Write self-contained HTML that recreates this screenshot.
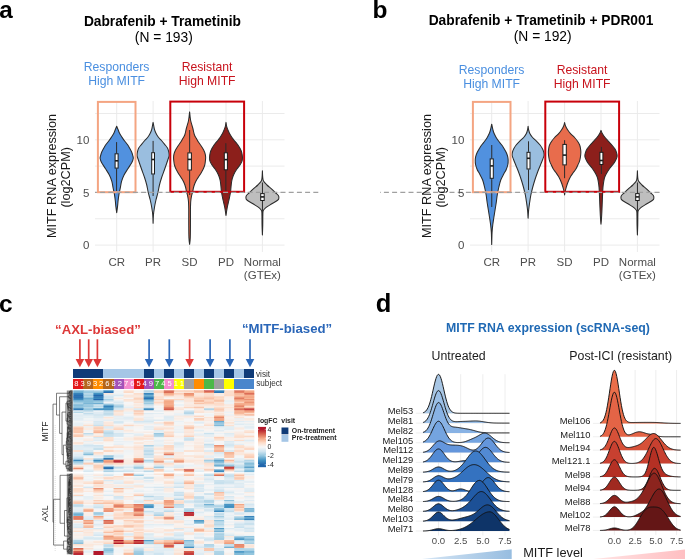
<!DOCTYPE html>
<html><head><meta charset="utf-8"><title>MITF figure</title>
<style>html,body{margin:0;padding:0;background:#fff;width:685px;height:559px;overflow:hidden}svg{display:block;will-change:transform}text{font-family:"Liberation Sans",sans-serif}</style>
</head><body>
<svg width="685" height="559" viewBox="0 0 685 559" font-family='"Liberation Sans", sans-serif'><text x="-0.8" y="18" font-size="24.3" fill="#000" text-anchor="start" font-weight="bold">a</text>
<text x="372.4" y="18.1" font-size="24.5" fill="#000" text-anchor="start" font-weight="bold">b</text>
<line x1="95" y1="245.1" x2="284.5" y2="245.1" stroke="#ebebeb" stroke-width="1"/>
<line x1="95" y1="218.78" x2="284.5" y2="218.78" stroke="#ebebeb" stroke-width="1"/>
<line x1="95" y1="192.45" x2="284.5" y2="192.45" stroke="#ebebeb" stroke-width="1"/>
<line x1="95" y1="166.12" x2="284.5" y2="166.12" stroke="#ebebeb" stroke-width="1"/>
<line x1="95" y1="139.8" x2="284.5" y2="139.8" stroke="#ebebeb" stroke-width="1"/>
<line x1="95" y1="113.47" x2="284.5" y2="113.47" stroke="#ebebeb" stroke-width="1"/>
<line x1="116.7" y1="101" x2="116.7" y2="252" stroke="#ebebeb" stroke-width="1"/>
<line x1="153.1" y1="101" x2="153.1" y2="252" stroke="#ebebeb" stroke-width="1"/>
<line x1="189.6" y1="101" x2="189.6" y2="252" stroke="#ebebeb" stroke-width="1"/>
<line x1="226" y1="101" x2="226" y2="252" stroke="#ebebeb" stroke-width="1"/>
<line x1="262.4" y1="101" x2="262.4" y2="252" stroke="#ebebeb" stroke-width="1"/>
<path d="M116.7,126.2 C116.7,126.2 117.58,128.32 118.05,129.5 C118.52,130.68 118.92,132.05 119.55,133.3 C120.18,134.55 121.03,135.75 121.85,137 C122.67,138.25 123.52,139.55 124.45,140.8 C125.38,142.05 126.57,143.25 127.45,144.5 C128.33,145.75 129.05,147.05 129.75,148.3 C130.45,149.55 131.13,150.75 131.65,152 C132.17,153.25 132.58,154.72 132.85,155.8 C133.12,156.88 133.42,157.38 133.25,158.5 C133.08,159.62 132.75,160.78 131.85,162.5 C130.95,164.22 129.15,166.72 127.85,168.8 C126.55,170.88 125.1,172.92 124.05,175 C123,177.08 122.17,179.2 121.55,181.3 C120.93,183.4 120.77,185.5 120.35,187.6 C119.93,189.7 119.42,191.8 119.05,193.9 C118.68,196 118.4,198.12 118.15,200.2 C117.9,202.28 117.79,204.32 117.55,206.4 C117.31,208.48 116.7,212.7 116.7,212.7 C116.7,212.7 116.09,208.48 115.85,206.4 C115.61,204.32 115.5,202.28 115.25,200.2 C115,198.12 114.72,196 114.35,193.9 C113.98,191.8 113.47,189.7 113.05,187.6 C112.63,185.5 112.47,183.4 111.85,181.3 C111.23,179.2 110.4,177.08 109.35,175 C108.3,172.92 106.85,170.88 105.55,168.8 C104.25,166.72 102.45,164.22 101.55,162.5 C100.65,160.78 100.32,159.62 100.15,158.5 C99.98,157.38 100.28,156.88 100.55,155.8 C100.82,154.72 101.23,153.25 101.75,152 C102.27,150.75 102.95,149.55 103.65,148.3 C104.35,147.05 105.07,145.75 105.95,144.5 C106.83,143.25 108.02,142.05 108.95,140.8 C109.88,139.55 110.73,138.25 111.55,137 C112.37,135.75 113.22,134.55 113.85,133.3 C114.48,132.05 114.88,130.68 115.35,129.5 C115.83,128.32 116.7,126.2 116.7,126.2Z" fill="#5191df" stroke="#2b2b2b" stroke-width="1.05" stroke-linejoin="round"/>
<line x1="116.6" y1="142.1" x2="116.6" y2="153.3" stroke="#2b2b2b" stroke-width="1"/>
<line x1="116.6" y1="168.6" x2="116.6" y2="191" stroke="#2b2b2b" stroke-width="1"/>
<rect x="115.1" y="153.8" width="3" height="14.3" fill="#fff" stroke="#1a1a1a" stroke-width="1"/>
<line x1="115.1" y1="160.8" x2="118.1" y2="160.8" stroke="#1a1a1a" stroke-width="1.6"/>
<path d="M153.1,122.4 C153.1,122.4 153.47,124.35 153.7,125.5 C153.92,126.65 154.09,128.05 154.45,129.3 C154.81,130.55 155.25,131.75 155.85,133 C156.45,134.25 157.12,135.55 158.05,136.8 C158.98,138.05 160.35,139.25 161.45,140.5 C162.55,141.75 163.65,143.05 164.65,144.3 C165.65,145.55 166.77,146.75 167.45,148 C168.13,149.25 168.47,150.53 168.75,151.8 C169.03,153.07 169.28,154.32 169.15,155.6 C169.02,156.88 168.4,158.1 167.95,159.5 C167.5,160.9 167.05,162.25 166.45,164 C165.85,165.75 165.15,167.75 164.35,170 C163.55,172.25 162.47,175 161.65,177.5 C160.83,180 160.07,182.5 159.45,185 C158.83,187.5 158.53,190 157.95,192.5 C157.37,195 156.53,197.5 155.95,200 C155.37,202.5 154.87,205 154.45,207.5 C154.03,210 153.67,212.38 153.45,215 C153.22,217.62 153.1,223.2 153.1,223.2 C153.1,223.2 152.97,217.62 152.75,215 C152.53,212.38 152.17,210 151.75,207.5 C151.33,205 150.83,202.5 150.25,200 C149.67,197.5 148.83,195 148.25,192.5 C147.67,190 147.37,187.5 146.75,185 C146.13,182.5 145.37,180 144.55,177.5 C143.73,175 142.65,172.25 141.85,170 C141.05,167.75 140.35,165.75 139.75,164 C139.15,162.25 138.7,160.9 138.25,159.5 C137.8,158.1 137.18,156.88 137.05,155.6 C136.92,154.32 137.17,153.07 137.45,151.8 C137.73,150.53 138.07,149.25 138.75,148 C139.43,146.75 140.55,145.55 141.55,144.3 C142.55,143.05 143.65,141.75 144.75,140.5 C145.85,139.25 147.22,138.05 148.15,136.8 C149.08,135.55 149.75,134.25 150.35,133 C150.95,131.75 151.39,130.55 151.75,129.3 C152.11,128.05 152.28,126.65 152.5,125.5 C152.72,124.35 153.1,122.4 153.1,122.4Z" fill="#9abedf" stroke="#2b2b2b" stroke-width="1.05" stroke-linejoin="round"/>
<line x1="153.1" y1="140.9" x2="153.1" y2="152.2" stroke="#2b2b2b" stroke-width="1"/>
<line x1="153.1" y1="174.5" x2="153.1" y2="196" stroke="#2b2b2b" stroke-width="1"/>
<rect x="151.7" y="152.7" width="2.8" height="21.3" fill="#fff" stroke="#1a1a1a" stroke-width="1"/>
<line x1="151.7" y1="159.5" x2="154.5" y2="159.5" stroke="#1a1a1a" stroke-width="1.6"/>
<path d="M189.6,111.9 C189.6,111.9 190.12,117.82 190.65,120.5 C191.18,123.18 192.12,125.58 192.75,128 C193.38,130.42 193.82,133.2 194.45,135 C195.08,136.8 195.83,137.55 196.55,138.8 C197.27,140.05 197.95,141.25 198.75,142.5 C199.55,143.75 200.53,145.05 201.35,146.3 C202.17,147.55 203.02,148.75 203.65,150 C204.28,151.25 204.82,152.55 205.15,153.8 C205.48,155.05 205.62,156.25 205.65,157.5 C205.68,158.75 205.5,160.05 205.35,161.3 C205.2,162.55 205.08,163.75 204.75,165 C204.42,166.25 203.92,167.55 203.35,168.8 C202.78,170.05 202.08,171.25 201.35,172.5 C200.62,173.75 199.75,175.05 198.95,176.3 C198.15,177.55 197.25,178.75 196.55,180 C195.85,181.25 195.25,182.55 194.75,183.8 C194.25,185.05 193.88,186.25 193.55,187.5 C193.22,188.75 193.05,190.05 192.75,191.3 C192.45,192.55 192.03,193.75 191.75,195 C191.47,196.25 191.23,197.53 191.05,198.8 C190.87,200.07 190.75,200.73 190.65,202.6 C190.55,204.47 190.48,206.27 190.45,210 C190.42,213.73 190.48,220.33 190.45,225 C190.42,229.67 190.39,234.78 190.25,238 C190.11,241.22 189.6,244.3 189.6,244.3 C189.6,244.3 189.09,241.22 188.95,238 C188.81,234.78 188.78,229.67 188.75,225 C188.72,220.33 188.78,213.73 188.75,210 C188.72,206.27 188.65,204.47 188.55,202.6 C188.45,200.73 188.33,200.07 188.15,198.8 C187.97,197.53 187.73,196.25 187.45,195 C187.17,193.75 186.75,192.55 186.45,191.3 C186.15,190.05 185.98,188.75 185.65,187.5 C185.32,186.25 184.95,185.05 184.45,183.8 C183.95,182.55 183.35,181.25 182.65,180 C181.95,178.75 181.05,177.55 180.25,176.3 C179.45,175.05 178.58,173.75 177.85,172.5 C177.12,171.25 176.42,170.05 175.85,168.8 C175.28,167.55 174.78,166.25 174.45,165 C174.12,163.75 174,162.55 173.85,161.3 C173.7,160.05 173.52,158.75 173.55,157.5 C173.58,156.25 173.72,155.05 174.05,153.8 C174.38,152.55 174.92,151.25 175.55,150 C176.18,148.75 177.03,147.55 177.85,146.3 C178.67,145.05 179.65,143.75 180.45,142.5 C181.25,141.25 181.93,140.05 182.65,138.8 C183.37,137.55 184.12,136.8 184.75,135 C185.38,133.2 185.82,130.42 186.45,128 C187.08,125.58 188.02,123.18 188.55,120.5 C189.07,117.82 189.6,111.9 189.6,111.9Z" fill="#e86c4c" stroke="#2b2b2b" stroke-width="1.05" stroke-linejoin="round"/>
<line x1="189.65" y1="130" x2="189.65" y2="152.4" stroke="#2b2b2b" stroke-width="1"/>
<line x1="189.65" y1="170.5" x2="189.65" y2="195" stroke="#2b2b2b" stroke-width="1"/>
<rect x="187.9" y="152.9" width="3.5" height="17.1" fill="#fff" stroke="#1a1a1a" stroke-width="1"/>
<line x1="187.9" y1="159.4" x2="191.4" y2="159.4" stroke="#1a1a1a" stroke-width="1.6"/>
<path d="M226,122.4 C226,122.4 226.33,125.03 226.65,126.3 C226.97,127.57 227.45,128.75 227.95,130 C228.45,131.25 228.98,132.55 229.65,133.8 C230.32,135.05 231.07,136.25 231.95,137.5 C232.83,138.75 233.95,140.05 234.95,141.3 C235.95,142.55 237.07,143.75 237.95,145 C238.83,146.25 239.62,147.53 240.25,148.8 C240.88,150.07 241.38,151.15 241.75,152.6 C242.12,154.05 242.42,156.05 242.45,157.5 C242.48,158.95 242.37,160.05 241.95,161.3 C241.53,162.55 240.75,163.75 239.95,165 C239.15,166.25 238.02,167.55 237.15,168.8 C236.28,170.05 235.43,171.25 234.75,172.5 C234.07,173.75 233.52,175.05 233.05,176.3 C232.58,177.55 232.23,178.75 231.95,180 C231.67,181.25 231.52,182.53 231.35,183.8 C231.18,185.07 231.1,186.15 230.95,187.6 C230.8,189.05 230.78,190.43 230.45,192.5 C230.12,194.57 229.48,197.5 228.95,200 C228.42,202.5 227.74,204.93 227.25,207.5 C226.76,210.07 226,215.4 226,215.4 C226,215.4 225.24,210.07 224.75,207.5 C224.26,204.93 223.58,202.5 223.05,200 C222.52,197.5 221.88,194.57 221.55,192.5 C221.22,190.43 221.2,189.05 221.05,187.6 C220.9,186.15 220.82,185.07 220.65,183.8 C220.48,182.53 220.33,181.25 220.05,180 C219.77,178.75 219.42,177.55 218.95,176.3 C218.48,175.05 217.93,173.75 217.25,172.5 C216.57,171.25 215.72,170.05 214.85,168.8 C213.98,167.55 212.85,166.25 212.05,165 C211.25,163.75 210.47,162.55 210.05,161.3 C209.63,160.05 209.52,158.95 209.55,157.5 C209.58,156.05 209.88,154.05 210.25,152.6 C210.62,151.15 211.12,150.07 211.75,148.8 C212.38,147.53 213.17,146.25 214.05,145 C214.93,143.75 216.05,142.55 217.05,141.3 C218.05,140.05 219.17,138.75 220.05,137.5 C220.93,136.25 221.68,135.05 222.35,133.8 C223.02,132.55 223.55,131.25 224.05,130 C224.55,128.75 225.03,127.57 225.35,126.3 C225.67,125.03 226,122.4 226,122.4Z" fill="#8c1f1b" stroke="#2b2b2b" stroke-width="1.05" stroke-linejoin="round"/>
<line x1="225.85" y1="143.2" x2="225.85" y2="152.3" stroke="#2b2b2b" stroke-width="1"/>
<line x1="225.85" y1="170.3" x2="225.85" y2="192" stroke="#2b2b2b" stroke-width="1"/>
<rect x="224.3" y="152.8" width="3.1" height="17" fill="#fff" stroke="#1a1a1a" stroke-width="1"/>
<line x1="224.3" y1="159.6" x2="227.4" y2="159.6" stroke="#1a1a1a" stroke-width="1.6"/>
<path d="M262.4,170.8 C262.4,170.8 262.54,175.75 262.75,177.5 C262.96,179.25 262.95,180.05 263.65,181.3 C264.35,182.55 265.65,183.75 266.95,185 C268.25,186.25 270.07,187.55 271.45,188.8 C272.83,190.05 274.1,191.38 275.25,192.5 C276.4,193.62 277.75,194.62 278.35,195.5 C278.95,196.38 278.93,197.05 278.85,197.8 C278.77,198.55 279.02,199 277.85,200 C276.68,201 273.85,202.53 271.85,203.8 C269.85,205.07 267.28,206.47 265.85,207.6 C264.42,208.73 263.75,209.37 263.25,210.6 C262.75,211.83 262.93,212.6 262.85,215 C262.77,217.4 262.82,221.68 262.75,225 C262.68,228.32 262.4,234.9 262.4,234.9 C262.4,234.9 262.12,228.32 262.05,225 C261.97,221.68 262.03,217.4 261.95,215 C261.87,212.6 262.05,211.83 261.55,210.6 C261.05,209.37 260.38,208.73 258.95,207.6 C257.52,206.47 254.95,205.07 252.95,203.8 C250.95,202.53 248.12,201 246.95,200 C245.78,199 246.03,198.55 245.95,197.8 C245.87,197.05 245.85,196.38 246.45,195.5 C247.05,194.62 248.4,193.62 249.55,192.5 C250.7,191.38 251.97,190.05 253.35,188.8 C254.73,187.55 256.55,186.25 257.85,185 C259.15,183.75 260.45,182.55 261.15,181.3 C261.85,180.05 261.84,179.25 262.05,177.5 C262.26,175.75 262.4,170.8 262.4,170.8Z" fill="#bebebe" stroke="#2b2b2b" stroke-width="1.05" stroke-linejoin="round"/>
<line x1="262.45" y1="182.5" x2="262.45" y2="193.1" stroke="#2b2b2b" stroke-width="1"/>
<line x1="262.45" y1="201" x2="262.45" y2="212" stroke="#2b2b2b" stroke-width="1"/>
<rect x="260.7" y="193.6" width="3.5" height="6.9" fill="#fff" stroke="#1a1a1a" stroke-width="1"/>
<line x1="260.7" y1="196.9" x2="264.2" y2="196.9" stroke="#1a1a1a" stroke-width="1.6"/>
<rect x="97.9" y="101.9" width="37.6" height="90.3" fill="none" stroke="#f4a582" stroke-width="2"/>
<rect x="170.3" y="101.6" width="73.8" height="90.2" fill="none" stroke="#c8000a" stroke-width="2"/>
<line x1="318.3" y1="192.4" x2="95" y2="192.4" stroke="#a0a0a0" stroke-width="1.1" stroke-dasharray="5 3.2"/>
<text x="89.3" y="143.9" font-size="11.5" fill="#4d4d4d" text-anchor="end" font-weight="normal">10</text>
<text x="89.3" y="196.55" font-size="11.5" fill="#4d4d4d" text-anchor="end" font-weight="normal">5</text>
<text x="89.3" y="249.2" font-size="11.5" fill="#4d4d4d" text-anchor="end" font-weight="normal">0</text>
<text x="116.7" y="265.9" font-size="11.5" fill="#4d4d4d" text-anchor="middle" font-weight="normal">CR</text>
<text x="153.1" y="265.9" font-size="11.5" fill="#4d4d4d" text-anchor="middle" font-weight="normal">PR</text>
<text x="189.6" y="265.9" font-size="11.5" fill="#4d4d4d" text-anchor="middle" font-weight="normal">SD</text>
<text x="226" y="265.9" font-size="11.5" fill="#4d4d4d" text-anchor="middle" font-weight="normal">PD</text>
<text x="262.4" y="265.9" font-size="11.5" fill="#4d4d4d" text-anchor="middle" font-weight="normal">Normal</text>
<text x="262.4" y="278.7" font-size="11.5" fill="#4d4d4d" text-anchor="middle" font-weight="normal">(GTEx)</text>
<text x="56.3" y="176" font-size="12.7" fill="#1a1a1a" text-anchor="middle" font-weight="normal" transform="rotate(-90 56.3 176)">MITF RNA expression</text>
<text x="70.4" y="177.3" font-size="12.7" fill="#1a1a1a" text-anchor="middle" font-weight="normal" transform="rotate(-90 70.4 177.3)">(log2CPM)</text>
<text x="162.4" y="25.7" font-size="13.75" fill="#000" text-anchor="middle" font-weight="bold">Dabrafenib + Trametinib</text>
<text x="163.8" y="42.4" font-size="13.8" fill="#000" text-anchor="middle" font-weight="normal">(N = 193)</text>
<text x="116.6" y="70.6" font-size="12.2" fill="#4a8fe0" text-anchor="middle" font-weight="normal">Responders</text>
<text x="116.6" y="84.8" font-size="12.2" fill="#4a8fe0" text-anchor="middle" font-weight="normal">High MITF</text>
<text x="207.1" y="70.6" font-size="12.2" fill="#c8141e" text-anchor="middle" font-weight="normal">Resistant</text>
<text x="207.1" y="84.8" font-size="12.2" fill="#c8141e" text-anchor="middle" font-weight="normal">High MITF</text>
<line x1="470" y1="245.1" x2="659.5" y2="245.1" stroke="#ebebeb" stroke-width="1"/>
<line x1="470" y1="218.78" x2="659.5" y2="218.78" stroke="#ebebeb" stroke-width="1"/>
<line x1="470" y1="192.45" x2="659.5" y2="192.45" stroke="#ebebeb" stroke-width="1"/>
<line x1="470" y1="166.12" x2="659.5" y2="166.12" stroke="#ebebeb" stroke-width="1"/>
<line x1="470" y1="139.8" x2="659.5" y2="139.8" stroke="#ebebeb" stroke-width="1"/>
<line x1="470" y1="113.47" x2="659.5" y2="113.47" stroke="#ebebeb" stroke-width="1"/>
<line x1="491.7" y1="101" x2="491.7" y2="252" stroke="#ebebeb" stroke-width="1"/>
<line x1="528.1" y1="101" x2="528.1" y2="252" stroke="#ebebeb" stroke-width="1"/>
<line x1="564.6" y1="101" x2="564.6" y2="252" stroke="#ebebeb" stroke-width="1"/>
<line x1="601" y1="101" x2="601" y2="252" stroke="#ebebeb" stroke-width="1"/>
<line x1="637.4" y1="101" x2="637.4" y2="252" stroke="#ebebeb" stroke-width="1"/>
<path d="M491.7,124.2 C491.7,124.2 492.52,128.4 492.95,130 C493.38,131.6 493.72,132.55 494.25,133.8 C494.78,135.05 495.4,136.25 496.15,137.5 C496.9,138.75 497.82,140.05 498.75,141.3 C499.68,142.55 500.85,143.75 501.75,145 C502.65,146.25 503.4,147.55 504.15,148.8 C504.9,150.05 505.67,151.25 506.25,152.5 C506.83,153.75 507.33,155.05 507.65,156.3 C507.97,157.55 508.12,158.63 508.15,160 C508.18,161.37 508.17,162.92 507.85,164.5 C507.53,166.08 506.93,167.92 506.25,169.5 C505.57,171.08 504.67,172.25 503.75,174 C502.83,175.75 501.58,177.75 500.75,180 C499.92,182.25 499.33,185 498.75,187.5 C498.17,190 497.67,192.5 497.25,195 C496.83,197.5 496.62,200 496.25,202.5 C495.88,205 495.45,207.5 495.05,210 C494.65,212.5 494.23,215 493.85,217.5 C493.47,220 493.05,222.5 492.75,225 C492.45,227.5 492.23,229.25 492.05,232.5 C491.88,235.75 491.7,244.5 491.7,244.5 C491.7,244.5 491.52,235.75 491.35,232.5 C491.17,229.25 490.95,227.5 490.65,225 C490.35,222.5 489.93,220 489.55,217.5 C489.17,215 488.75,212.5 488.35,210 C487.95,207.5 487.52,205 487.15,202.5 C486.78,200 486.57,197.5 486.15,195 C485.73,192.5 485.23,190 484.65,187.5 C484.07,185 483.48,182.25 482.65,180 C481.82,177.75 480.57,175.75 479.65,174 C478.73,172.25 477.83,171.08 477.15,169.5 C476.47,167.92 475.87,166.08 475.55,164.5 C475.23,162.92 475.22,161.37 475.25,160 C475.28,158.63 475.43,157.55 475.75,156.3 C476.07,155.05 476.57,153.75 477.15,152.5 C477.73,151.25 478.5,150.05 479.25,148.8 C480,147.55 480.75,146.25 481.65,145 C482.55,143.75 483.72,142.55 484.65,141.3 C485.58,140.05 486.5,138.75 487.25,137.5 C488,136.25 488.62,135.05 489.15,133.8 C489.68,132.55 490.02,131.6 490.45,130 C490.88,128.4 491.7,124.2 491.7,124.2Z" fill="#5191df" stroke="#2b2b2b" stroke-width="1.05" stroke-linejoin="round"/>
<line x1="491.75" y1="145" x2="491.75" y2="158.4" stroke="#2b2b2b" stroke-width="1"/>
<line x1="491.75" y1="178.8" x2="491.75" y2="207" stroke="#2b2b2b" stroke-width="1"/>
<rect x="490.2" y="158.9" width="3.1" height="19.4" fill="#fff" stroke="#1a1a1a" stroke-width="1"/>
<line x1="490.2" y1="165.9" x2="493.3" y2="165.9" stroke="#1a1a1a" stroke-width="1.6"/>
<path d="M528.1,126.3 C528.1,126.3 528.34,128.75 528.65,130 C528.96,131.25 529.3,132.55 529.95,133.8 C530.6,135.05 531.43,136.25 532.55,137.5 C533.67,138.75 535.4,140.05 536.65,141.3 C537.9,142.55 539.08,143.75 540.05,145 C541.02,146.25 541.82,147.53 542.45,148.8 C543.08,150.07 543.58,151.48 543.85,152.6 C544.12,153.72 544.22,154.43 544.05,155.5 C543.88,156.57 543.45,157.42 542.85,159 C542.25,160.58 541.35,162.75 540.45,165 C539.55,167.25 538.38,170 537.45,172.5 C536.52,175 535.65,177.5 534.85,180 C534.05,182.5 533.32,185 532.65,187.5 C531.98,190 531.35,192.5 530.85,195 C530.35,197.5 530.02,200 529.65,202.5 C529.28,205 528.91,207.37 528.65,210 C528.39,212.63 528.1,218.3 528.1,218.3 C528.1,218.3 527.81,212.63 527.55,210 C527.29,207.37 526.92,205 526.55,202.5 C526.18,200 525.85,197.5 525.35,195 C524.85,192.5 524.22,190 523.55,187.5 C522.88,185 522.15,182.5 521.35,180 C520.55,177.5 519.68,175 518.75,172.5 C517.82,170 516.65,167.25 515.75,165 C514.85,162.75 513.95,160.58 513.35,159 C512.75,157.42 512.32,156.57 512.15,155.5 C511.98,154.43 512.08,153.72 512.35,152.6 C512.62,151.48 513.12,150.07 513.75,148.8 C514.38,147.53 515.18,146.25 516.15,145 C517.12,143.75 518.3,142.55 519.55,141.3 C520.8,140.05 522.53,138.75 523.65,137.5 C524.77,136.25 525.6,135.05 526.25,133.8 C526.9,132.55 527.24,131.25 527.55,130 C527.86,128.75 528.1,126.3 528.1,126.3Z" fill="#9abedf" stroke="#2b2b2b" stroke-width="1.05" stroke-linejoin="round"/>
<line x1="528.5" y1="141.3" x2="528.5" y2="151.8" stroke="#2b2b2b" stroke-width="1"/>
<line x1="528.5" y1="169.5" x2="528.5" y2="190" stroke="#2b2b2b" stroke-width="1"/>
<rect x="527" y="152.3" width="3" height="16.7" fill="#fff" stroke="#1a1a1a" stroke-width="1"/>
<line x1="527" y1="158.3" x2="530" y2="158.3" stroke="#1a1a1a" stroke-width="1.6"/>
<path d="M564.6,122.5 C564.6,122.5 565.12,125.05 565.65,126.3 C566.17,127.55 566.9,128.75 567.75,130 C568.6,131.25 569.62,132.55 570.75,133.8 C571.88,135.05 573.42,136.25 574.55,137.5 C575.68,138.75 576.7,140.05 577.55,141.3 C578.4,142.55 579.15,143.75 579.65,145 C580.15,146.25 580.35,147.53 580.55,148.8 C580.75,150.07 580.88,151.15 580.85,152.6 C580.82,154.05 580.58,156.05 580.35,157.5 C580.12,158.95 579.87,160.05 579.45,161.3 C579.03,162.55 578.42,163.75 577.85,165 C577.28,166.25 576.8,167.55 576.05,168.8 C575.3,170.05 574.23,171.25 573.35,172.5 C572.47,173.75 571.5,175.05 570.75,176.3 C570,177.55 569.42,178.75 568.85,180 C568.28,181.25 567.8,182.53 567.35,183.8 C566.9,185.07 566.5,186.4 566.15,187.6 C565.8,188.8 565.51,189.77 565.25,191 C564.99,192.23 564.6,195 564.6,195 C564.6,195 564.21,192.23 563.95,191 C563.69,189.77 563.4,188.8 563.05,187.6 C562.7,186.4 562.3,185.07 561.85,183.8 C561.4,182.53 560.92,181.25 560.35,180 C559.78,178.75 559.2,177.55 558.45,176.3 C557.7,175.05 556.73,173.75 555.85,172.5 C554.97,171.25 553.9,170.05 553.15,168.8 C552.4,167.55 551.92,166.25 551.35,165 C550.78,163.75 550.17,162.55 549.75,161.3 C549.33,160.05 549.08,158.95 548.85,157.5 C548.62,156.05 548.38,154.05 548.35,152.6 C548.32,151.15 548.45,150.07 548.65,148.8 C548.85,147.53 549.05,146.25 549.55,145 C550.05,143.75 550.8,142.55 551.65,141.3 C552.5,140.05 553.52,138.75 554.65,137.5 C555.78,136.25 557.32,135.05 558.45,133.8 C559.58,132.55 560.6,131.25 561.45,130 C562.3,128.75 563.03,127.55 563.55,126.3 C564.08,125.05 564.6,122.5 564.6,122.5Z" fill="#e86c4c" stroke="#2b2b2b" stroke-width="1.05" stroke-linejoin="round"/>
<line x1="564.6" y1="140.2" x2="564.6" y2="143.9" stroke="#2b2b2b" stroke-width="1"/>
<line x1="564.6" y1="165.4" x2="564.6" y2="178.2" stroke="#2b2b2b" stroke-width="1"/>
<rect x="562.9" y="144.4" width="3.4" height="20.5" fill="#fff" stroke="#1a1a1a" stroke-width="1"/>
<line x1="562.9" y1="155.1" x2="566.3" y2="155.1" stroke="#1a1a1a" stroke-width="1.6"/>
<path d="M601,130.4 C601,130.4 601.78,132.62 602.45,133.8 C603.12,134.98 604.05,136.25 605.05,137.5 C606.05,138.75 607.32,140.05 608.45,141.3 C609.58,142.55 610.78,143.75 611.85,145 C612.92,146.25 614.07,147.53 614.85,148.8 C615.63,150.07 616.17,151.4 616.55,152.6 C616.93,153.8 617.2,154.93 617.15,156 C617.1,157.07 616.82,157.75 616.25,159 C615.68,160.25 614.78,162 613.75,163.5 C612.72,165 611.17,166.5 610.05,168 C608.93,169.5 607.93,171 607.05,172.5 C606.17,174 605.3,175.5 604.75,177 C604.2,178.5 604.05,179.75 603.75,181.5 C603.45,183.25 603.15,185.25 602.95,187.5 C602.75,189.75 602.67,192.5 602.55,195 C602.43,197.5 602.35,200 602.25,202.5 C602.15,205 602.07,207.5 601.95,210 C601.83,212.5 601.71,215.13 601.55,217.5 C601.39,219.87 601,224.2 601,224.2 C601,224.2 600.61,219.87 600.45,217.5 C600.29,215.13 600.17,212.5 600.05,210 C599.93,207.5 599.85,205 599.75,202.5 C599.65,200 599.57,197.5 599.45,195 C599.33,192.5 599.25,189.75 599.05,187.5 C598.85,185.25 598.55,183.25 598.25,181.5 C597.95,179.75 597.8,178.5 597.25,177 C596.7,175.5 595.83,174 594.95,172.5 C594.07,171 593.07,169.5 591.95,168 C590.83,166.5 589.28,165 588.25,163.5 C587.22,162 586.32,160.25 585.75,159 C585.18,157.75 584.9,157.07 584.85,156 C584.8,154.93 585.07,153.8 585.45,152.6 C585.83,151.4 586.37,150.07 587.15,148.8 C587.93,147.53 589.08,146.25 590.15,145 C591.22,143.75 592.42,142.55 593.55,141.3 C594.68,140.05 595.95,138.75 596.95,137.5 C597.95,136.25 598.88,134.98 599.55,133.8 C600.22,132.62 601,130.4 601,130.4Z" fill="#8c1f1b" stroke="#2b2b2b" stroke-width="1.05" stroke-linejoin="round"/>
<line x1="601.4" y1="146.9" x2="601.4" y2="151.8" stroke="#2b2b2b" stroke-width="1"/>
<line x1="601.4" y1="165" x2="601.4" y2="174" stroke="#2b2b2b" stroke-width="1"/>
<rect x="599.9" y="152.3" width="3" height="12.2" fill="#fff" stroke="#1a1a1a" stroke-width="1"/>
<line x1="599.9" y1="160.5" x2="602.9" y2="160.5" stroke="#1a1a1a" stroke-width="1.6"/>
<path d="M637.4,170.8 C637.4,170.8 637.54,175.75 637.75,177.5 C637.96,179.25 637.95,180.05 638.65,181.3 C639.35,182.55 640.65,183.75 641.95,185 C643.25,186.25 645.07,187.55 646.45,188.8 C647.83,190.05 649.1,191.38 650.25,192.5 C651.4,193.62 652.75,194.62 653.35,195.5 C653.95,196.38 653.93,197.05 653.85,197.8 C653.77,198.55 654.02,199 652.85,200 C651.68,201 648.85,202.53 646.85,203.8 C644.85,205.07 642.28,206.47 640.85,207.6 C639.42,208.73 638.75,209.37 638.25,210.6 C637.75,211.83 637.93,212.6 637.85,215 C637.77,217.4 637.83,221.68 637.75,225 C637.67,228.32 637.4,234.9 637.4,234.9 C637.4,234.9 637.12,228.32 637.05,225 C636.97,221.68 637.03,217.4 636.95,215 C636.87,212.6 637.05,211.83 636.55,210.6 C636.05,209.37 635.38,208.73 633.95,207.6 C632.52,206.47 629.95,205.07 627.95,203.8 C625.95,202.53 623.12,201 621.95,200 C620.78,199 621.03,198.55 620.95,197.8 C620.87,197.05 620.85,196.38 621.45,195.5 C622.05,194.62 623.4,193.62 624.55,192.5 C625.7,191.38 626.97,190.05 628.35,188.8 C629.73,187.55 631.55,186.25 632.85,185 C634.15,183.75 635.45,182.55 636.15,181.3 C636.85,180.05 636.84,179.25 637.05,177.5 C637.26,175.75 637.4,170.8 637.4,170.8Z" fill="#bebebe" stroke="#2b2b2b" stroke-width="1.05" stroke-linejoin="round"/>
<line x1="637.45" y1="182.5" x2="637.45" y2="193.1" stroke="#2b2b2b" stroke-width="1"/>
<line x1="637.45" y1="201" x2="637.45" y2="212" stroke="#2b2b2b" stroke-width="1"/>
<rect x="635.7" y="193.6" width="3.5" height="6.9" fill="#fff" stroke="#1a1a1a" stroke-width="1"/>
<line x1="635.7" y1="196.9" x2="639.2" y2="196.9" stroke="#1a1a1a" stroke-width="1.6"/>
<rect x="472.9" y="101.9" width="37.6" height="90.3" fill="none" stroke="#f4a582" stroke-width="2"/>
<rect x="545.3" y="101.6" width="73.8" height="90.2" fill="none" stroke="#c8000a" stroke-width="2"/>
<line x1="659.5" y1="192.4" x2="380" y2="192.4" stroke="#a0a0a0" stroke-width="1.1" stroke-dasharray="5 3.2"/>
<text x="464.3" y="143.9" font-size="11.5" fill="#4d4d4d" text-anchor="end" font-weight="normal">10</text>
<text x="464.3" y="196.55" font-size="11.5" fill="#4d4d4d" text-anchor="end" font-weight="normal">5</text>
<text x="464.3" y="249.2" font-size="11.5" fill="#4d4d4d" text-anchor="end" font-weight="normal">0</text>
<text x="491.7" y="265.9" font-size="11.5" fill="#4d4d4d" text-anchor="middle" font-weight="normal">CR</text>
<text x="528.1" y="265.9" font-size="11.5" fill="#4d4d4d" text-anchor="middle" font-weight="normal">PR</text>
<text x="564.6" y="265.9" font-size="11.5" fill="#4d4d4d" text-anchor="middle" font-weight="normal">SD</text>
<text x="601" y="265.9" font-size="11.5" fill="#4d4d4d" text-anchor="middle" font-weight="normal">PD</text>
<text x="637.4" y="265.9" font-size="11.5" fill="#4d4d4d" text-anchor="middle" font-weight="normal">Normal</text>
<text x="637.4" y="278.7" font-size="11.5" fill="#4d4d4d" text-anchor="middle" font-weight="normal">(GTEx)</text>
<text x="431.3" y="176" font-size="12.7" fill="#1a1a1a" text-anchor="middle" font-weight="normal" transform="rotate(-90 431.3 176)">MITF RNA expression</text>
<text x="445.4" y="177.3" font-size="12.7" fill="#1a1a1a" text-anchor="middle" font-weight="normal" transform="rotate(-90 445.4 177.3)">(log2CPM)</text>
<text x="541" y="24.7" font-size="13.75" fill="#000" text-anchor="middle" font-weight="bold">Dabrafenib + Trametinib + PDR001</text>
<text x="542.7" y="41.2" font-size="13.8" fill="#000" text-anchor="middle" font-weight="normal">(N = 192)</text>
<text x="491.6" y="73.6" font-size="12.2" fill="#4a8fe0" text-anchor="middle" font-weight="normal">Responders</text>
<text x="491.6" y="87.8" font-size="12.2" fill="#4a8fe0" text-anchor="middle" font-weight="normal">High MITF</text>
<text x="582.1" y="73.6" font-size="12.2" fill="#c8141e" text-anchor="middle" font-weight="normal">Resistant</text>
<text x="582.1" y="87.8" font-size="12.2" fill="#c8141e" text-anchor="middle" font-weight="normal">High MITF</text>
<text x="-1" y="312.3" font-size="24.5" fill="#000" text-anchor="start" font-weight="bold">c</text>
<text x="55.1" y="333.6" font-size="13.2" fill="#dd3838" text-anchor="start" font-weight="bold">“AXL-biased”</text>
<text x="242" y="333.2" font-size="13.2" fill="#2a66b8" text-anchor="start" font-weight="bold">“MITF-biased”</text>
<line x1="79.9" y1="339.3" x2="79.9" y2="360" stroke="#dd3838" stroke-width="1.7"/>
<path d="M75.6,359 L84.2,359 L79.9,367.2Z" fill="#dd3838"/>
<line x1="88.7" y1="339.3" x2="88.7" y2="360" stroke="#dd3838" stroke-width="1.7"/>
<path d="M84.4,359 L93,359 L88.7,367.2Z" fill="#dd3838"/>
<line x1="97.4" y1="339.3" x2="97.4" y2="360" stroke="#dd3838" stroke-width="1.7"/>
<path d="M93.1,359 L101.7,359 L97.4,367.2Z" fill="#dd3838"/>
<line x1="189.6" y1="339.3" x2="189.6" y2="360" stroke="#dd3838" stroke-width="1.7"/>
<path d="M185.3,359 L193.9,359 L189.6,367.2Z" fill="#dd3838"/>
<line x1="149.1" y1="339.3" x2="149.1" y2="360" stroke="#2a66b8" stroke-width="1.7"/>
<path d="M144.8,359 L153.4,359 L149.1,367.2Z" fill="#2a66b8"/>
<line x1="169.3" y1="339.3" x2="169.3" y2="360" stroke="#2a66b8" stroke-width="1.7"/>
<path d="M165,359 L173.6,359 L169.3,367.2Z" fill="#2a66b8"/>
<line x1="210.1" y1="339.3" x2="210.1" y2="360" stroke="#2a66b8" stroke-width="1.7"/>
<path d="M205.8,359 L214.4,359 L210.1,367.2Z" fill="#2a66b8"/>
<line x1="229.9" y1="339.3" x2="229.9" y2="360" stroke="#2a66b8" stroke-width="1.7"/>
<path d="M225.6,359 L234.2,359 L229.9,367.2Z" fill="#2a66b8"/>
<line x1="250" y1="339.3" x2="250" y2="360" stroke="#2a66b8" stroke-width="1.7"/>
<path d="M245.7,359 L254.3,359 L250,367.2Z" fill="#2a66b8"/>
<rect x="73.3" y="369.3" width="30.17" height="9" fill="#0f3b78" shape-rendering="crispEdges"/>
<rect x="103.47" y="369.3" width="40.22" height="9" fill="#a5c6e6" shape-rendering="crispEdges"/>
<rect x="143.69" y="369.3" width="10.06" height="9" fill="#0f3b78" shape-rendering="crispEdges"/>
<rect x="153.74" y="369.3" width="10.06" height="9" fill="#a5c6e6" shape-rendering="crispEdges"/>
<rect x="163.8" y="369.3" width="10.06" height="9" fill="#0f3b78" shape-rendering="crispEdges"/>
<rect x="173.86" y="369.3" width="10.06" height="9" fill="#a5c6e6" shape-rendering="crispEdges"/>
<rect x="183.91" y="369.3" width="10.06" height="9" fill="#0f3b78" shape-rendering="crispEdges"/>
<rect x="193.97" y="369.3" width="10.06" height="9" fill="#a5c6e6" shape-rendering="crispEdges"/>
<rect x="204.02" y="369.3" width="10.06" height="9" fill="#0f3b78" shape-rendering="crispEdges"/>
<rect x="214.08" y="369.3" width="10.06" height="9" fill="#a5c6e6" shape-rendering="crispEdges"/>
<rect x="224.13" y="369.3" width="10.06" height="9" fill="#0f3b78" shape-rendering="crispEdges"/>
<rect x="234.19" y="369.3" width="10.06" height="9" fill="#a5c6e6" shape-rendering="crispEdges"/>
<rect x="244.24" y="369.3" width="10.06" height="9" fill="#0f3b78" shape-rendering="crispEdges"/>
<rect x="73.3" y="379.4" width="10.06" height="9.1" fill="#e41a1c" shape-rendering="crispEdges"/>
<rect x="83.36" y="379.4" width="10.06" height="9.1" fill="#b5651d" shape-rendering="crispEdges"/>
<rect x="93.41" y="379.4" width="10.06" height="9.1" fill="#ff8c00" shape-rendering="crispEdges"/>
<rect x="103.47" y="379.4" width="10.06" height="9.1" fill="#b5651d" shape-rendering="crispEdges"/>
<rect x="113.52" y="379.4" width="10.06" height="9.1" fill="#a352b8" shape-rendering="crispEdges"/>
<rect x="123.58" y="379.4" width="10.06" height="9.1" fill="#f48ccd" shape-rendering="crispEdges"/>
<rect x="133.63" y="379.4" width="10.06" height="9.1" fill="#e41a1c" shape-rendering="crispEdges"/>
<rect x="143.69" y="379.4" width="10.06" height="9.1" fill="#a352b8" shape-rendering="crispEdges"/>
<rect x="153.74" y="379.4" width="10.06" height="9.1" fill="#4cb848" shape-rendering="crispEdges"/>
<rect x="163.8" y="379.4" width="10.06" height="9.1" fill="#f48ccd" shape-rendering="crispEdges"/>
<rect x="173.86" y="379.4" width="10.06" height="9.1" fill="#ffff00" shape-rendering="crispEdges"/>
<rect x="183.91" y="379.4" width="10.06" height="9.1" fill="#a0a0a0" shape-rendering="crispEdges"/>
<rect x="193.97" y="379.4" width="10.06" height="9.1" fill="#ff8c00" shape-rendering="crispEdges"/>
<rect x="204.02" y="379.4" width="10.06" height="9.1" fill="#4cb848" shape-rendering="crispEdges"/>
<rect x="214.08" y="379.4" width="10.06" height="9.1" fill="#a0a0a0" shape-rendering="crispEdges"/>
<rect x="224.13" y="379.4" width="10.06" height="9.1" fill="#ffff00" shape-rendering="crispEdges"/>
<rect x="234.19" y="379.4" width="20.11" height="9.1" fill="#4a86cc" shape-rendering="crispEdges"/>
<text x="76.4" y="386.3" font-size="7.6" fill="#fff" text-anchor="middle" font-weight="normal">8</text>
<text x="82.61" y="386.3" font-size="7.6" fill="#fff" text-anchor="middle" font-weight="normal">3</text>
<text x="88.82" y="386.3" font-size="7.6" fill="#fff" text-anchor="middle" font-weight="normal">9</text>
<text x="95.03" y="386.3" font-size="7.6" fill="#fff" text-anchor="middle" font-weight="normal">3</text>
<text x="101.24" y="386.3" font-size="7.6" fill="#fff" text-anchor="middle" font-weight="normal">2</text>
<text x="107.45" y="386.3" font-size="7.6" fill="#fff" text-anchor="middle" font-weight="normal">6</text>
<text x="113.66" y="386.3" font-size="7.6" fill="#fff" text-anchor="middle" font-weight="normal">8</text>
<text x="119.87" y="386.3" font-size="7.6" fill="#fff" text-anchor="middle" font-weight="normal">2</text>
<text x="126.08" y="386.3" font-size="7.6" fill="#fff" text-anchor="middle" font-weight="normal">7</text>
<text x="132.29" y="386.3" font-size="7.6" fill="#fff" text-anchor="middle" font-weight="normal">6</text>
<text x="138.5" y="386.3" font-size="7.6" fill="#fff" text-anchor="middle" font-weight="normal">5</text>
<text x="144.71" y="386.3" font-size="7.6" fill="#fff" text-anchor="middle" font-weight="normal">4</text>
<text x="150.92" y="386.3" font-size="7.6" fill="#fff" text-anchor="middle" font-weight="normal">9</text>
<text x="157.13" y="386.3" font-size="7.6" fill="#fff" text-anchor="middle" font-weight="normal">7</text>
<text x="163.34" y="386.3" font-size="7.6" fill="#fff" text-anchor="middle" font-weight="normal">4</text>
<text x="169.55" y="386.3" font-size="7.6" fill="#fff" text-anchor="middle" font-weight="normal">5</text>
<text x="175.76" y="386.3" font-size="7.6" fill="#fff" text-anchor="middle" font-weight="normal">1</text>
<text x="181.97" y="386.3" font-size="7.6" fill="#fff" text-anchor="middle" font-weight="normal">1</text>
<text x="256" y="376.8" font-size="8.2" fill="#333" text-anchor="start" font-weight="normal">visit</text>
<text x="256.2" y="386.3" font-size="8.2" fill="#333" text-anchor="start" font-weight="normal">subject</text>
<rect x="73.3" y="390.3" width="10.66" height="1.85" fill="#7db8d7"/>
<rect x="83.36" y="390.3" width="10.66" height="1.85" fill="#a4cee3"/>
<rect x="93.41" y="390.3" width="10.66" height="1.85" fill="#b2d5e7"/>
<rect x="103.47" y="390.3" width="10.66" height="1.85" fill="#3f8ec1"/>
<rect x="113.52" y="390.3" width="10.66" height="1.85" fill="#eef3f5"/>
<rect x="123.58" y="390.3" width="10.66" height="1.85" fill="#fcdfce"/>
<rect x="133.63" y="390.3" width="10.66" height="1.85" fill="#f8f1ed"/>
<rect x="143.69" y="390.3" width="10.66" height="1.85" fill="#aed3e6"/>
<rect x="153.74" y="390.3" width="10.66" height="1.85" fill="#fcd2bc"/>
<rect x="163.8" y="390.3" width="10.66" height="1.85" fill="#de735b"/>
<rect x="173.86" y="390.3" width="10.66" height="1.85" fill="#fbcfb8"/>
<rect x="183.91" y="390.3" width="10.66" height="1.85" fill="#faccb4"/>
<rect x="193.97" y="390.3" width="10.66" height="1.85" fill="#f7b99c"/>
<rect x="204.02" y="390.3" width="10.66" height="1.85" fill="#cc4c44"/>
<rect x="214.08" y="390.3" width="10.66" height="1.85" fill="#3b89be"/>
<rect x="224.13" y="390.3" width="10.66" height="1.85" fill="#fcddcb"/>
<rect x="234.19" y="390.3" width="10.66" height="1.85" fill="#df755d"/>
<rect x="244.24" y="390.3" width="10.06" height="1.85" fill="#f6b090"/>
<rect x="73.3" y="391.65" width="10.66" height="1.85" fill="#69abd0"/>
<rect x="83.36" y="391.65" width="10.66" height="1.85" fill="#99c9e0"/>
<rect x="93.41" y="391.65" width="10.66" height="1.85" fill="#89bfdb"/>
<rect x="103.47" y="391.65" width="10.66" height="1.85" fill="#266db0"/>
<rect x="113.52" y="391.65" width="10.66" height="1.85" fill="#f1f4f6"/>
<rect x="123.58" y="391.65" width="10.66" height="1.85" fill="#fddac5"/>
<rect x="133.63" y="391.65" width="10.66" height="1.85" fill="#f7f5f4"/>
<rect x="143.69" y="391.65" width="10.66" height="1.85" fill="#c5dfed"/>
<rect x="153.74" y="391.65" width="10.66" height="1.85" fill="#fbd1ba"/>
<rect x="163.8" y="391.65" width="10.66" height="1.85" fill="#db6c56"/>
<rect x="173.86" y="391.65" width="10.66" height="1.85" fill="#fae8de"/>
<rect x="183.91" y="391.65" width="10.66" height="1.85" fill="#fce0d0"/>
<rect x="193.97" y="391.65" width="10.66" height="1.85" fill="#facab1"/>
<rect x="204.02" y="391.65" width="10.66" height="1.85" fill="#e98c6f"/>
<rect x="214.08" y="391.65" width="10.66" height="1.85" fill="#2c75b4"/>
<rect x="224.13" y="391.65" width="10.66" height="1.85" fill="#fcdecb"/>
<rect x="234.19" y="391.65" width="10.66" height="1.85" fill="#e68469"/>
<rect x="244.24" y="391.65" width="10.06" height="1.85" fill="#f19e7d"/>
<rect x="73.3" y="393" width="10.66" height="2.15" fill="#3783bb"/>
<rect x="83.36" y="393" width="10.66" height="2.15" fill="#b8d8e9"/>
<rect x="93.41" y="393" width="10.66" height="2.15" fill="#4393c3"/>
<rect x="103.47" y="393" width="10.66" height="2.15" fill="#fae8dd"/>
<rect x="113.52" y="393" width="10.66" height="2.15" fill="#eef3f5"/>
<rect x="123.58" y="393" width="10.66" height="2.15" fill="#f8f4f2"/>
<rect x="133.63" y="393" width="10.66" height="2.15" fill="#fcddcb"/>
<rect x="143.69" y="393" width="10.66" height="2.15" fill="#3a87bd"/>
<rect x="153.74" y="393" width="10.66" height="2.15" fill="#fae9df"/>
<rect x="163.8" y="393" width="10.66" height="2.15" fill="#f5a987"/>
<rect x="173.86" y="393" width="10.66" height="2.15" fill="#fbcfb8"/>
<rect x="183.91" y="393" width="10.66" height="2.15" fill="#eb9172"/>
<rect x="193.97" y="393" width="10.66" height="2.15" fill="#fae9df"/>
<rect x="204.02" y="393" width="10.66" height="2.15" fill="#fcdecc"/>
<rect x="214.08" y="393" width="10.66" height="2.15" fill="#f9ece4"/>
<rect x="224.13" y="393" width="10.66" height="2.15" fill="#fcdecd"/>
<rect x="234.19" y="393" width="10.66" height="2.15" fill="#f7b799"/>
<rect x="244.24" y="393" width="10.06" height="2.15" fill="#dc6e58"/>
<rect x="73.3" y="394.65" width="10.66" height="2.15" fill="#286fb1"/>
<rect x="83.36" y="394.65" width="10.66" height="2.15" fill="#a1cde2"/>
<rect x="93.41" y="394.65" width="10.66" height="2.15" fill="#2166ac"/>
<rect x="103.47" y="394.65" width="10.66" height="2.15" fill="#ddebf2"/>
<rect x="113.52" y="394.65" width="10.66" height="2.15" fill="#dbeaf2"/>
<rect x="123.58" y="394.65" width="10.66" height="2.15" fill="#fbe6da"/>
<rect x="133.63" y="394.65" width="10.66" height="2.15" fill="#fae7dc"/>
<rect x="143.69" y="394.65" width="10.66" height="2.15" fill="#71b0d3"/>
<rect x="153.74" y="394.65" width="10.66" height="2.15" fill="#faeae1"/>
<rect x="163.8" y="394.65" width="10.66" height="2.15" fill="#fac7ad"/>
<rect x="173.86" y="394.65" width="10.66" height="2.15" fill="#fbe5d9"/>
<rect x="183.91" y="394.65" width="10.66" height="2.15" fill="#f3a380"/>
<rect x="193.97" y="394.65" width="10.66" height="2.15" fill="#fbe5d8"/>
<rect x="204.02" y="394.65" width="10.66" height="2.15" fill="#fddcca"/>
<rect x="214.08" y="394.65" width="10.66" height="2.15" fill="#f9ede7"/>
<rect x="224.13" y="394.65" width="10.66" height="2.15" fill="#fddbc7"/>
<rect x="234.19" y="394.65" width="10.66" height="2.15" fill="#f9c3a8"/>
<rect x="244.24" y="394.65" width="10.06" height="2.15" fill="#f6af8f"/>
<rect x="73.3" y="396.3" width="10.66" height="1.83" fill="#2369ae"/>
<rect x="83.36" y="396.3" width="10.66" height="1.83" fill="#b3d6e7"/>
<rect x="93.41" y="396.3" width="10.66" height="1.83" fill="#2f78b5"/>
<rect x="103.47" y="396.3" width="10.66" height="1.83" fill="#cae2ee"/>
<rect x="113.52" y="396.3" width="10.66" height="1.83" fill="#f3f5f6"/>
<rect x="123.58" y="396.3" width="10.66" height="1.83" fill="#fbe5d9"/>
<rect x="133.63" y="396.3" width="10.66" height="1.83" fill="#fbe7db"/>
<rect x="143.69" y="396.3" width="10.66" height="1.83" fill="#4393c3"/>
<rect x="153.74" y="396.3" width="10.66" height="1.83" fill="#fdddca"/>
<rect x="163.8" y="396.3" width="10.66" height="1.83" fill="#faebe2"/>
<rect x="173.86" y="396.3" width="10.66" height="1.83" fill="#fae9e0"/>
<rect x="183.91" y="396.3" width="10.66" height="1.83" fill="#facab1"/>
<rect x="193.97" y="396.3" width="10.66" height="1.83" fill="#fddbc7"/>
<rect x="204.02" y="396.3" width="10.66" height="1.83" fill="#fbd0b9"/>
<rect x="214.08" y="396.3" width="10.66" height="1.83" fill="#fcd4be"/>
<rect x="224.13" y="396.3" width="10.66" height="1.83" fill="#f9ede6"/>
<rect x="234.19" y="396.3" width="10.66" height="1.83" fill="#f4a583"/>
<rect x="244.24" y="396.3" width="10.06" height="1.83" fill="#f3a27f"/>
<rect x="73.3" y="397.63" width="10.66" height="1.83" fill="#317cb7"/>
<rect x="83.36" y="397.63" width="10.66" height="1.83" fill="#6fafd2"/>
<rect x="93.41" y="397.63" width="10.66" height="1.83" fill="#3c8abe"/>
<rect x="103.47" y="397.63" width="10.66" height="1.83" fill="#d7e8f1"/>
<rect x="113.52" y="397.63" width="10.66" height="1.83" fill="#f9ebe3"/>
<rect x="123.58" y="397.63" width="10.66" height="1.83" fill="#f5f6f7"/>
<rect x="133.63" y="397.63" width="10.66" height="1.83" fill="#fbd2bb"/>
<rect x="143.69" y="397.63" width="10.66" height="1.83" fill="#2a71b2"/>
<rect x="153.74" y="397.63" width="10.66" height="1.83" fill="#fbe3d5"/>
<rect x="163.8" y="397.63" width="10.66" height="1.83" fill="#f7f7f6"/>
<rect x="173.86" y="397.63" width="10.66" height="1.83" fill="#f9eee8"/>
<rect x="183.91" y="397.63" width="10.66" height="1.83" fill="#fbe4d6"/>
<rect x="193.97" y="397.63" width="10.66" height="1.83" fill="#facbb2"/>
<rect x="204.02" y="397.63" width="10.66" height="1.83" fill="#f9c2a8"/>
<rect x="214.08" y="397.63" width="10.66" height="1.83" fill="#fddbc7"/>
<rect x="224.13" y="397.63" width="10.66" height="1.83" fill="#f9efea"/>
<rect x="234.19" y="397.63" width="10.66" height="1.83" fill="#e27b62"/>
<rect x="244.24" y="397.63" width="10.06" height="1.83" fill="#f7b697"/>
<rect x="73.3" y="398.97" width="10.66" height="1.83" fill="#3d8bbf"/>
<rect x="83.36" y="398.97" width="10.66" height="1.83" fill="#80bad8"/>
<rect x="93.41" y="398.97" width="10.66" height="1.83" fill="#2267ad"/>
<rect x="103.47" y="398.97" width="10.66" height="1.83" fill="#aad1e5"/>
<rect x="113.52" y="398.97" width="10.66" height="1.83" fill="#f8f3f0"/>
<rect x="123.58" y="398.97" width="10.66" height="1.83" fill="#fbe2d4"/>
<rect x="133.63" y="398.97" width="10.66" height="1.83" fill="#fcd7c2"/>
<rect x="143.69" y="398.97" width="10.66" height="1.83" fill="#529dc8"/>
<rect x="153.74" y="398.97" width="10.66" height="1.83" fill="#fcd2bc"/>
<rect x="163.8" y="398.97" width="10.66" height="1.83" fill="#fbceb6"/>
<rect x="173.86" y="398.97" width="10.66" height="1.83" fill="#fdd8c3"/>
<rect x="183.91" y="398.97" width="10.66" height="1.83" fill="#fae7dc"/>
<rect x="193.97" y="398.97" width="10.66" height="1.83" fill="#fbcfb7"/>
<rect x="204.02" y="398.97" width="10.66" height="1.83" fill="#fbd1ba"/>
<rect x="214.08" y="398.97" width="10.66" height="1.83" fill="#fcd3bc"/>
<rect x="224.13" y="398.97" width="10.66" height="1.83" fill="#f9f0eb"/>
<rect x="234.19" y="398.97" width="10.66" height="1.83" fill="#f09d7c"/>
<rect x="244.24" y="398.97" width="10.06" height="1.83" fill="#eb9172"/>
<rect x="73.3" y="400.3" width="10.66" height="1.83" fill="#7cb7d7"/>
<rect x="83.36" y="400.3" width="10.66" height="1.83" fill="#84bcd9"/>
<rect x="93.41" y="400.3" width="10.66" height="1.83" fill="#8bc1dc"/>
<rect x="103.47" y="400.3" width="10.66" height="1.83" fill="#cae1ee"/>
<rect x="113.52" y="400.3" width="10.66" height="1.83" fill="#e7f0f4"/>
<rect x="123.58" y="400.3" width="10.66" height="1.83" fill="#fbe4d6"/>
<rect x="133.63" y="400.3" width="10.66" height="1.83" fill="#fae7dc"/>
<rect x="143.69" y="400.3" width="10.66" height="1.83" fill="#88bfdb"/>
<rect x="153.74" y="400.3" width="10.66" height="1.83" fill="#f9ece4"/>
<rect x="163.8" y="400.3" width="10.66" height="1.83" fill="#f4a784"/>
<rect x="173.86" y="400.3" width="10.66" height="1.83" fill="#e4eef4"/>
<rect x="183.91" y="400.3" width="10.66" height="1.83" fill="#fce2d2"/>
<rect x="193.97" y="400.3" width="10.66" height="1.83" fill="#f5ab89"/>
<rect x="204.02" y="400.3" width="10.66" height="1.83" fill="#fddbc8"/>
<rect x="214.08" y="400.3" width="10.66" height="1.83" fill="#f7b99b"/>
<rect x="224.13" y="400.3" width="10.66" height="1.83" fill="#e4eef3"/>
<rect x="234.19" y="400.3" width="10.66" height="1.83" fill="#f6b191"/>
<rect x="244.24" y="400.3" width="10.06" height="1.83" fill="#f7b495"/>
<rect x="73.3" y="401.63" width="10.66" height="1.83" fill="#9ecbe1"/>
<rect x="83.36" y="401.63" width="10.66" height="1.83" fill="#8bc0db"/>
<rect x="93.41" y="401.63" width="10.66" height="1.83" fill="#a1cde2"/>
<rect x="103.47" y="401.63" width="10.66" height="1.83" fill="#f2f4f6"/>
<rect x="113.52" y="401.63" width="10.66" height="1.83" fill="#d9e9f1"/>
<rect x="123.58" y="401.63" width="10.66" height="1.83" fill="#f5f6f7"/>
<rect x="133.63" y="401.63" width="10.66" height="1.83" fill="#fcdfcf"/>
<rect x="143.69" y="401.63" width="10.66" height="1.83" fill="#b1d5e7"/>
<rect x="153.74" y="401.63" width="10.66" height="1.83" fill="#fcd7c2"/>
<rect x="163.8" y="401.63" width="10.66" height="1.83" fill="#f5ab89"/>
<rect x="173.86" y="401.63" width="10.66" height="1.83" fill="#f8f4f1"/>
<rect x="183.91" y="401.63" width="10.66" height="1.83" fill="#f9ece5"/>
<rect x="193.97" y="401.63" width="10.66" height="1.83" fill="#fdd9c5"/>
<rect x="204.02" y="401.63" width="10.66" height="1.83" fill="#fac9b0"/>
<rect x="214.08" y="401.63" width="10.66" height="1.83" fill="#fbe3d4"/>
<rect x="224.13" y="401.63" width="10.66" height="1.83" fill="#eef3f5"/>
<rect x="234.19" y="401.63" width="10.66" height="1.83" fill="#fcd3bc"/>
<rect x="244.24" y="401.63" width="10.06" height="1.83" fill="#ec9374"/>
<rect x="73.3" y="402.97" width="10.66" height="1.83" fill="#afd4e6"/>
<rect x="83.36" y="402.97" width="10.66" height="1.83" fill="#7ab6d6"/>
<rect x="93.41" y="402.97" width="10.66" height="1.83" fill="#6eaed2"/>
<rect x="103.47" y="402.97" width="10.66" height="1.83" fill="#cde3ef"/>
<rect x="113.52" y="402.97" width="10.66" height="1.83" fill="#e2edf3"/>
<rect x="123.58" y="402.97" width="10.66" height="1.83" fill="#f5f6f7"/>
<rect x="133.63" y="402.97" width="10.66" height="1.83" fill="#f9eee7"/>
<rect x="143.69" y="402.97" width="10.66" height="1.83" fill="#9ccae1"/>
<rect x="153.74" y="402.97" width="10.66" height="1.83" fill="#fbe3d5"/>
<rect x="163.8" y="402.97" width="10.66" height="1.83" fill="#f5ac8b"/>
<rect x="173.86" y="402.97" width="10.66" height="1.83" fill="#f7f7f6"/>
<rect x="183.91" y="402.97" width="10.66" height="1.83" fill="#f9ede6"/>
<rect x="193.97" y="402.97" width="10.66" height="1.83" fill="#f9c4a9"/>
<rect x="204.02" y="402.97" width="10.66" height="1.83" fill="#fbd0b9"/>
<rect x="214.08" y="402.97" width="10.66" height="1.83" fill="#fddbc7"/>
<rect x="224.13" y="402.97" width="10.66" height="1.83" fill="#edf2f5"/>
<rect x="234.19" y="402.97" width="10.66" height="1.83" fill="#f6af8f"/>
<rect x="244.24" y="402.97" width="10.06" height="1.83" fill="#f5ac8b"/>
<rect x="73.3" y="404.3" width="10.66" height="1.83" fill="#7eb8d7"/>
<rect x="83.36" y="404.3" width="10.66" height="1.83" fill="#a0cce2"/>
<rect x="93.41" y="404.3" width="10.66" height="1.83" fill="#d3e6f0"/>
<rect x="103.47" y="404.3" width="10.66" height="1.83" fill="#7bb7d6"/>
<rect x="113.52" y="404.3" width="10.66" height="1.83" fill="#bbdaea"/>
<rect x="123.58" y="404.3" width="10.66" height="1.83" fill="#f8f3f0"/>
<rect x="133.63" y="404.3" width="10.66" height="1.83" fill="#fae7db"/>
<rect x="143.69" y="404.3" width="10.66" height="1.83" fill="#cae2ee"/>
<rect x="153.74" y="404.3" width="10.66" height="1.83" fill="#f9ede6"/>
<rect x="163.8" y="404.3" width="10.66" height="1.83" fill="#f5a987"/>
<rect x="173.86" y="404.3" width="10.66" height="1.83" fill="#e5eff4"/>
<rect x="183.91" y="404.3" width="10.66" height="1.83" fill="#fae8de"/>
<rect x="193.97" y="404.3" width="10.66" height="1.83" fill="#faeae1"/>
<rect x="204.02" y="404.3" width="10.66" height="1.83" fill="#fbe4d6"/>
<rect x="214.08" y="404.3" width="10.66" height="1.83" fill="#fddbc8"/>
<rect x="224.13" y="404.3" width="10.66" height="1.83" fill="#fbe6d9"/>
<rect x="234.19" y="404.3" width="10.66" height="1.83" fill="#f2a17f"/>
<rect x="244.24" y="404.3" width="10.06" height="1.83" fill="#f5ad8d"/>
<rect x="73.3" y="405.63" width="10.66" height="1.83" fill="#91c4de"/>
<rect x="83.36" y="405.63" width="10.66" height="1.83" fill="#97c7df"/>
<rect x="93.41" y="405.63" width="10.66" height="1.83" fill="#b9d9e9"/>
<rect x="103.47" y="405.63" width="10.66" height="1.83" fill="#3480b9"/>
<rect x="113.52" y="405.63" width="10.66" height="1.83" fill="#a3cde3"/>
<rect x="123.58" y="405.63" width="10.66" height="1.83" fill="#edf2f5"/>
<rect x="133.63" y="405.63" width="10.66" height="1.83" fill="#f9eee8"/>
<rect x="143.69" y="405.63" width="10.66" height="1.83" fill="#dceaf2"/>
<rect x="153.74" y="405.63" width="10.66" height="1.83" fill="#f5f6f7"/>
<rect x="163.8" y="405.63" width="10.66" height="1.83" fill="#f2a17f"/>
<rect x="173.86" y="405.63" width="10.66" height="1.83" fill="#f7f5f4"/>
<rect x="183.91" y="405.63" width="10.66" height="1.83" fill="#faeae0"/>
<rect x="193.97" y="405.63" width="10.66" height="1.83" fill="#fce1d1"/>
<rect x="204.02" y="405.63" width="10.66" height="1.83" fill="#f9ede6"/>
<rect x="214.08" y="405.63" width="10.66" height="1.83" fill="#faeae0"/>
<rect x="224.13" y="405.63" width="10.66" height="1.83" fill="#f9eee8"/>
<rect x="234.19" y="405.63" width="10.66" height="1.83" fill="#e6856a"/>
<rect x="244.24" y="405.63" width="10.06" height="1.83" fill="#fcdfce"/>
<rect x="73.3" y="406.97" width="10.66" height="1.83" fill="#89bfdb"/>
<rect x="83.36" y="406.97" width="10.66" height="1.83" fill="#b3d6e7"/>
<rect x="93.41" y="406.97" width="10.66" height="1.83" fill="#cee4ef"/>
<rect x="103.47" y="406.97" width="10.66" height="1.83" fill="#4b98c6"/>
<rect x="113.52" y="406.97" width="10.66" height="1.83" fill="#b7d8e9"/>
<rect x="123.58" y="406.97" width="10.66" height="1.83" fill="#e5eff4"/>
<rect x="133.63" y="406.97" width="10.66" height="1.83" fill="#fbe3d5"/>
<rect x="143.69" y="406.97" width="10.66" height="1.83" fill="#cce2ef"/>
<rect x="153.74" y="406.97" width="10.66" height="1.83" fill="#f8f3f0"/>
<rect x="163.8" y="406.97" width="10.66" height="1.83" fill="#e48166"/>
<rect x="173.86" y="406.97" width="10.66" height="1.83" fill="#faeae1"/>
<rect x="183.91" y="406.97" width="10.66" height="1.83" fill="#fcd7c2"/>
<rect x="193.97" y="406.97" width="10.66" height="1.83" fill="#fac7ae"/>
<rect x="204.02" y="406.97" width="10.66" height="1.83" fill="#f9ede5"/>
<rect x="214.08" y="406.97" width="10.66" height="1.83" fill="#fcdecc"/>
<rect x="224.13" y="406.97" width="10.66" height="1.83" fill="#fbe4d6"/>
<rect x="234.19" y="406.97" width="10.66" height="1.83" fill="#f5ac8b"/>
<rect x="244.24" y="406.97" width="10.06" height="1.83" fill="#f9c5ab"/>
<rect x="73.3" y="408.3" width="10.66" height="2.5" fill="#327db8"/>
<rect x="83.36" y="408.3" width="10.66" height="2.5" fill="#94c6df"/>
<rect x="93.41" y="408.3" width="10.66" height="2.5" fill="#4594c4"/>
<rect x="103.47" y="408.3" width="10.66" height="2.5" fill="#4a97c5"/>
<rect x="113.52" y="408.3" width="10.66" height="2.5" fill="#d6e7f1"/>
<rect x="123.58" y="408.3" width="10.66" height="2.5" fill="#fae8dd"/>
<rect x="133.63" y="408.3" width="10.66" height="2.5" fill="#dbeaf2"/>
<rect x="143.69" y="408.3" width="10.66" height="2.5" fill="#3e8dc0"/>
<rect x="153.74" y="408.3" width="10.66" height="2.5" fill="#f4f6f7"/>
<rect x="163.8" y="408.3" width="10.66" height="2.5" fill="#d55e4c"/>
<rect x="173.86" y="408.3" width="10.66" height="2.5" fill="#fbe5d9"/>
<rect x="183.91" y="408.3" width="10.66" height="2.5" fill="#f5f6f7"/>
<rect x="193.97" y="408.3" width="10.66" height="2.5" fill="#f9ece5"/>
<rect x="204.02" y="408.3" width="10.66" height="2.5" fill="#b1d5e7"/>
<rect x="214.08" y="408.3" width="10.66" height="2.5" fill="#facab2"/>
<rect x="224.13" y="408.3" width="10.66" height="2.5" fill="#f9eee8"/>
<rect x="234.19" y="408.3" width="10.66" height="2.5" fill="#dc6e58"/>
<rect x="244.24" y="408.3" width="10.06" height="2.5" fill="#c94641"/>
<rect x="73.3" y="410.3" width="10.66" height="1.83" fill="#e8f0f4"/>
<rect x="83.36" y="410.3" width="10.66" height="1.83" fill="#bad9e9"/>
<rect x="93.41" y="410.3" width="10.66" height="1.83" fill="#f6f6f7"/>
<rect x="103.47" y="410.3" width="10.66" height="1.83" fill="#bedceb"/>
<rect x="113.52" y="410.3" width="10.66" height="1.83" fill="#fcd8c3"/>
<rect x="123.58" y="410.3" width="10.66" height="1.83" fill="#f9ede6"/>
<rect x="133.63" y="410.3" width="10.66" height="1.83" fill="#f9c5ab"/>
<rect x="143.69" y="410.3" width="10.66" height="1.83" fill="#f8f1ed"/>
<rect x="153.74" y="410.3" width="10.66" height="1.83" fill="#e0ecf3"/>
<rect x="163.8" y="410.3" width="10.66" height="1.83" fill="#fae9de"/>
<rect x="173.86" y="410.3" width="10.66" height="1.83" fill="#f4f6f7"/>
<rect x="183.91" y="410.3" width="10.66" height="1.83" fill="#d3e6f0"/>
<rect x="193.97" y="410.3" width="10.66" height="1.83" fill="#fae7dc"/>
<rect x="204.02" y="410.3" width="10.66" height="1.83" fill="#f9efea"/>
<rect x="214.08" y="410.3" width="10.66" height="1.83" fill="#fbd2bb"/>
<rect x="224.13" y="410.3" width="10.66" height="1.83" fill="#f9efea"/>
<rect x="234.19" y="410.3" width="10.66" height="1.83" fill="#f7b99b"/>
<rect x="244.24" y="410.3" width="10.06" height="1.83" fill="#ed9676"/>
<rect x="73.3" y="411.62" width="10.66" height="1.83" fill="#b3d6e7"/>
<rect x="83.36" y="411.62" width="10.66" height="1.83" fill="#e2edf3"/>
<rect x="93.41" y="411.62" width="10.66" height="1.83" fill="#e0ecf3"/>
<rect x="103.47" y="411.62" width="10.66" height="1.83" fill="#cce2ef"/>
<rect x="113.52" y="411.62" width="10.66" height="1.83" fill="#fae9de"/>
<rect x="123.58" y="411.62" width="10.66" height="1.83" fill="#ecf2f5"/>
<rect x="133.63" y="411.62" width="10.66" height="1.83" fill="#fcdecc"/>
<rect x="143.69" y="411.62" width="10.66" height="1.83" fill="#f6f7f7"/>
<rect x="153.74" y="411.62" width="10.66" height="1.83" fill="#f6f7f7"/>
<rect x="163.8" y="411.62" width="10.66" height="1.83" fill="#f8f4f1"/>
<rect x="173.86" y="411.62" width="10.66" height="1.83" fill="#f8f2ef"/>
<rect x="183.91" y="411.62" width="10.66" height="1.83" fill="#bad9e9"/>
<rect x="193.97" y="411.62" width="10.66" height="1.83" fill="#fbe2d3"/>
<rect x="204.02" y="411.62" width="10.66" height="1.83" fill="#f9ece4"/>
<rect x="214.08" y="411.62" width="10.66" height="1.83" fill="#f9ece5"/>
<rect x="224.13" y="411.62" width="10.66" height="1.83" fill="#ecf2f5"/>
<rect x="234.19" y="411.62" width="10.66" height="1.83" fill="#f6b495"/>
<rect x="244.24" y="411.62" width="10.06" height="1.83" fill="#f6b394"/>
<rect x="73.3" y="412.95" width="10.66" height="1.83" fill="#ecf2f5"/>
<rect x="83.36" y="412.95" width="10.66" height="1.83" fill="#c2ddec"/>
<rect x="93.41" y="412.95" width="10.66" height="1.83" fill="#dfebf3"/>
<rect x="103.47" y="412.95" width="10.66" height="1.83" fill="#bfdceb"/>
<rect x="113.52" y="412.95" width="10.66" height="1.83" fill="#fae7dc"/>
<rect x="123.58" y="412.95" width="10.66" height="1.83" fill="#ecf2f5"/>
<rect x="133.63" y="412.95" width="10.66" height="1.83" fill="#fbcfb8"/>
<rect x="143.69" y="412.95" width="10.66" height="1.83" fill="#dfebf2"/>
<rect x="153.74" y="412.95" width="10.66" height="1.83" fill="#e3eef3"/>
<rect x="163.8" y="412.95" width="10.66" height="1.83" fill="#f8f4f1"/>
<rect x="173.86" y="412.95" width="10.66" height="1.83" fill="#edf2f5"/>
<rect x="183.91" y="412.95" width="10.66" height="1.83" fill="#b4d6e8"/>
<rect x="193.97" y="412.95" width="10.66" height="1.83" fill="#f7f6f6"/>
<rect x="204.02" y="412.95" width="10.66" height="1.83" fill="#f4f6f6"/>
<rect x="214.08" y="412.95" width="10.66" height="1.83" fill="#fbe5d8"/>
<rect x="224.13" y="412.95" width="10.66" height="1.83" fill="#f8f3f0"/>
<rect x="234.19" y="412.95" width="10.66" height="1.83" fill="#f8ba9d"/>
<rect x="244.24" y="412.95" width="10.06" height="1.83" fill="#fdddcb"/>
<rect x="73.3" y="414.28" width="10.66" height="1.83" fill="#e0ecf3"/>
<rect x="83.36" y="414.28" width="10.66" height="1.83" fill="#d9e9f2"/>
<rect x="93.41" y="414.28" width="10.66" height="1.83" fill="#cfe4ef"/>
<rect x="103.47" y="414.28" width="10.66" height="1.83" fill="#bfdceb"/>
<rect x="113.52" y="414.28" width="10.66" height="1.83" fill="#fbe3d5"/>
<rect x="123.58" y="414.28" width="10.66" height="1.83" fill="#f7f7f7"/>
<rect x="133.63" y="414.28" width="10.66" height="1.83" fill="#fcdecc"/>
<rect x="143.69" y="414.28" width="10.66" height="1.83" fill="#eff3f6"/>
<rect x="153.74" y="414.28" width="10.66" height="1.83" fill="#f6f6f7"/>
<rect x="163.8" y="414.28" width="10.66" height="1.83" fill="#f8f3f1"/>
<rect x="173.86" y="414.28" width="10.66" height="1.83" fill="#e8f0f4"/>
<rect x="183.91" y="414.28" width="10.66" height="1.83" fill="#dfecf3"/>
<rect x="193.97" y="414.28" width="10.66" height="1.83" fill="#f7f6f5"/>
<rect x="204.02" y="414.28" width="10.66" height="1.83" fill="#ecf2f5"/>
<rect x="214.08" y="414.28" width="10.66" height="1.83" fill="#fbe6d9"/>
<rect x="224.13" y="414.28" width="10.66" height="1.83" fill="#eaf1f5"/>
<rect x="234.19" y="414.28" width="10.66" height="1.83" fill="#fcd4be"/>
<rect x="244.24" y="414.28" width="10.06" height="1.83" fill="#f6b394"/>
<rect x="73.3" y="415.6" width="10.66" height="1.82" fill="#e1edf3"/>
<rect x="83.36" y="415.6" width="10.66" height="1.82" fill="#e8f0f4"/>
<rect x="93.41" y="415.6" width="10.66" height="1.82" fill="#dbeaf2"/>
<rect x="103.47" y="415.6" width="10.66" height="1.82" fill="#ecf2f5"/>
<rect x="113.52" y="415.6" width="10.66" height="1.82" fill="#e5eef4"/>
<rect x="123.58" y="415.6" width="10.66" height="1.82" fill="#ebf1f5"/>
<rect x="133.63" y="415.6" width="10.66" height="1.82" fill="#f8f2ee"/>
<rect x="143.69" y="415.6" width="10.66" height="1.82" fill="#eef3f5"/>
<rect x="153.74" y="415.6" width="10.66" height="1.82" fill="#eff3f6"/>
<rect x="163.8" y="415.6" width="10.66" height="1.82" fill="#dfecf3"/>
<rect x="173.86" y="415.6" width="10.66" height="1.82" fill="#f9ece4"/>
<rect x="183.91" y="415.6" width="10.66" height="1.82" fill="#fae9df"/>
<rect x="193.97" y="415.6" width="10.66" height="1.82" fill="#fcd6c1"/>
<rect x="204.02" y="415.6" width="10.66" height="1.82" fill="#f7f5f4"/>
<rect x="214.08" y="415.6" width="10.66" height="1.82" fill="#f6af8f"/>
<rect x="224.13" y="415.6" width="10.66" height="1.82" fill="#f9eee8"/>
<rect x="234.19" y="415.6" width="10.66" height="1.82" fill="#f9efe9"/>
<rect x="244.24" y="415.6" width="10.06" height="1.82" fill="#f8f3f0"/>
<rect x="73.3" y="416.93" width="10.66" height="1.82" fill="#e4eef3"/>
<rect x="83.36" y="416.93" width="10.66" height="1.82" fill="#e5eff4"/>
<rect x="93.41" y="416.93" width="10.66" height="1.82" fill="#dceaf2"/>
<rect x="103.47" y="416.93" width="10.66" height="1.82" fill="#fbe6da"/>
<rect x="113.52" y="416.93" width="10.66" height="1.82" fill="#e8f0f4"/>
<rect x="123.58" y="416.93" width="10.66" height="1.82" fill="#dfecf3"/>
<rect x="133.63" y="416.93" width="10.66" height="1.82" fill="#f9eee8"/>
<rect x="143.69" y="416.93" width="10.66" height="1.82" fill="#e6eff4"/>
<rect x="153.74" y="416.93" width="10.66" height="1.82" fill="#f7f5f4"/>
<rect x="163.8" y="416.93" width="10.66" height="1.82" fill="#ddeaf2"/>
<rect x="173.86" y="416.93" width="10.66" height="1.82" fill="#f9f0eb"/>
<rect x="183.91" y="416.93" width="10.66" height="1.82" fill="#f9eee7"/>
<rect x="193.97" y="416.93" width="10.66" height="1.82" fill="#f9eee8"/>
<rect x="204.02" y="416.93" width="10.66" height="1.82" fill="#fbe4d6"/>
<rect x="214.08" y="416.93" width="10.66" height="1.82" fill="#e7886b"/>
<rect x="224.13" y="416.93" width="10.66" height="1.82" fill="#f8f2ee"/>
<rect x="234.19" y="416.93" width="10.66" height="1.82" fill="#fbe5d8"/>
<rect x="244.24" y="416.93" width="10.06" height="1.82" fill="#f6f7f7"/>
<rect x="73.3" y="418.25" width="10.66" height="1.82" fill="#deebf2"/>
<rect x="83.36" y="418.25" width="10.66" height="1.82" fill="#f4f6f6"/>
<rect x="93.41" y="418.25" width="10.66" height="1.82" fill="#e9f0f4"/>
<rect x="103.47" y="418.25" width="10.66" height="1.82" fill="#f9efea"/>
<rect x="113.52" y="418.25" width="10.66" height="1.82" fill="#e3edf3"/>
<rect x="123.58" y="418.25" width="10.66" height="1.82" fill="#dfecf3"/>
<rect x="133.63" y="418.25" width="10.66" height="1.82" fill="#fbe3d4"/>
<rect x="143.69" y="418.25" width="10.66" height="1.82" fill="#ebf1f5"/>
<rect x="153.74" y="418.25" width="10.66" height="1.82" fill="#f7f7f6"/>
<rect x="163.8" y="418.25" width="10.66" height="1.82" fill="#dfebf3"/>
<rect x="173.86" y="418.25" width="10.66" height="1.82" fill="#faebe2"/>
<rect x="183.91" y="418.25" width="10.66" height="1.82" fill="#f3f5f6"/>
<rect x="193.97" y="418.25" width="10.66" height="1.82" fill="#f9c3a8"/>
<rect x="204.02" y="418.25" width="10.66" height="1.82" fill="#f9efe9"/>
<rect x="214.08" y="418.25" width="10.66" height="1.82" fill="#f5aa89"/>
<rect x="224.13" y="418.25" width="10.66" height="1.82" fill="#f8f1ed"/>
<rect x="234.19" y="418.25" width="10.66" height="1.82" fill="#e7f0f4"/>
<rect x="244.24" y="418.25" width="10.06" height="1.82" fill="#fbe6d9"/>
<rect x="73.3" y="419.57" width="10.66" height="1.82" fill="#e7eff4"/>
<rect x="83.36" y="419.57" width="10.66" height="1.82" fill="#ebf1f5"/>
<rect x="93.41" y="419.57" width="10.66" height="1.82" fill="#ebf1f5"/>
<rect x="103.47" y="419.57" width="10.66" height="1.82" fill="#e4eef4"/>
<rect x="113.52" y="419.57" width="10.66" height="1.82" fill="#eef3f5"/>
<rect x="123.58" y="419.57" width="10.66" height="1.82" fill="#edf2f5"/>
<rect x="133.63" y="419.57" width="10.66" height="1.82" fill="#fbe6d9"/>
<rect x="143.69" y="419.57" width="10.66" height="1.82" fill="#deebf2"/>
<rect x="153.74" y="419.57" width="10.66" height="1.82" fill="#dae9f2"/>
<rect x="163.8" y="419.57" width="10.66" height="1.82" fill="#e3eef3"/>
<rect x="173.86" y="419.57" width="10.66" height="1.82" fill="#f8f3f0"/>
<rect x="183.91" y="419.57" width="10.66" height="1.82" fill="#f7f7f7"/>
<rect x="193.97" y="419.57" width="10.66" height="1.82" fill="#fddcc8"/>
<rect x="204.02" y="419.57" width="10.66" height="1.82" fill="#fae9e0"/>
<rect x="214.08" y="419.57" width="10.66" height="1.82" fill="#f4a683"/>
<rect x="224.13" y="419.57" width="10.66" height="1.82" fill="#f9ece4"/>
<rect x="234.19" y="419.57" width="10.66" height="1.82" fill="#f9eee8"/>
<rect x="244.24" y="419.57" width="10.06" height="1.82" fill="#f9eee8"/>
<rect x="73.3" y="420.9" width="10.66" height="1.83" fill="#f2f5f6"/>
<rect x="83.36" y="420.9" width="10.66" height="1.83" fill="#f8f2ef"/>
<rect x="93.41" y="420.9" width="10.66" height="1.83" fill="#d7e8f1"/>
<rect x="103.47" y="420.9" width="10.66" height="1.83" fill="#f9f0eb"/>
<rect x="113.52" y="420.9" width="10.66" height="1.83" fill="#d7e8f1"/>
<rect x="123.58" y="420.9" width="10.66" height="1.83" fill="#eef3f5"/>
<rect x="133.63" y="420.9" width="10.66" height="1.83" fill="#d5e7f1"/>
<rect x="143.69" y="420.9" width="10.66" height="1.83" fill="#d3e6f0"/>
<rect x="153.74" y="420.9" width="10.66" height="1.83" fill="#f7f6f6"/>
<rect x="163.8" y="420.9" width="10.66" height="1.83" fill="#fae8dd"/>
<rect x="173.86" y="420.9" width="10.66" height="1.83" fill="#eaf1f5"/>
<rect x="183.91" y="420.9" width="10.66" height="1.83" fill="#f7f5f3"/>
<rect x="193.97" y="420.9" width="10.66" height="1.83" fill="#ecf2f5"/>
<rect x="204.02" y="420.9" width="10.66" height="1.83" fill="#f8f2ee"/>
<rect x="214.08" y="420.9" width="10.66" height="1.83" fill="#6bacd1"/>
<rect x="224.13" y="420.9" width="10.66" height="1.83" fill="#f8f1ec"/>
<rect x="234.19" y="420.9" width="10.66" height="1.83" fill="#e0ecf3"/>
<rect x="244.24" y="420.9" width="10.06" height="1.83" fill="#e6eff4"/>
<rect x="73.3" y="422.22" width="10.66" height="1.83" fill="#ebf1f5"/>
<rect x="83.36" y="422.22" width="10.66" height="1.83" fill="#f2f5f6"/>
<rect x="93.41" y="422.22" width="10.66" height="1.83" fill="#d9e9f2"/>
<rect x="103.47" y="422.22" width="10.66" height="1.83" fill="#fbe5d9"/>
<rect x="113.52" y="422.22" width="10.66" height="1.83" fill="#d1e5f0"/>
<rect x="123.58" y="422.22" width="10.66" height="1.83" fill="#f6f6f7"/>
<rect x="133.63" y="422.22" width="10.66" height="1.83" fill="#e0ecf3"/>
<rect x="143.69" y="422.22" width="10.66" height="1.83" fill="#e2edf3"/>
<rect x="153.74" y="422.22" width="10.66" height="1.83" fill="#fbe3d5"/>
<rect x="163.8" y="422.22" width="10.66" height="1.83" fill="#f9c4aa"/>
<rect x="173.86" y="422.22" width="10.66" height="1.83" fill="#f3f5f6"/>
<rect x="183.91" y="422.22" width="10.66" height="1.83" fill="#f9ebe3"/>
<rect x="193.97" y="422.22" width="10.66" height="1.83" fill="#deebf2"/>
<rect x="204.02" y="422.22" width="10.66" height="1.83" fill="#f8f0ec"/>
<rect x="214.08" y="422.22" width="10.66" height="1.83" fill="#91c4de"/>
<rect x="224.13" y="422.22" width="10.66" height="1.83" fill="#fcdecd"/>
<rect x="234.19" y="422.22" width="10.66" height="1.83" fill="#f1f4f6"/>
<rect x="244.24" y="422.22" width="10.06" height="1.83" fill="#f8f2ef"/>
<rect x="73.3" y="423.55" width="10.66" height="1.83" fill="#e7f0f4"/>
<rect x="83.36" y="423.55" width="10.66" height="1.83" fill="#f9eee7"/>
<rect x="93.41" y="423.55" width="10.66" height="1.83" fill="#d9e9f1"/>
<rect x="103.47" y="423.55" width="10.66" height="1.83" fill="#faeae0"/>
<rect x="113.52" y="423.55" width="10.66" height="1.83" fill="#f3f5f6"/>
<rect x="123.58" y="423.55" width="10.66" height="1.83" fill="#f9eee7"/>
<rect x="133.63" y="423.55" width="10.66" height="1.83" fill="#f8f4f1"/>
<rect x="143.69" y="423.55" width="10.66" height="1.83" fill="#f8f1ed"/>
<rect x="153.74" y="423.55" width="10.66" height="1.83" fill="#e9f0f4"/>
<rect x="163.8" y="423.55" width="10.66" height="1.83" fill="#fdd9c5"/>
<rect x="173.86" y="423.55" width="10.66" height="1.83" fill="#f2f5f6"/>
<rect x="183.91" y="423.55" width="10.66" height="1.83" fill="#f6f6f7"/>
<rect x="193.97" y="423.55" width="10.66" height="1.83" fill="#f7f7f7"/>
<rect x="204.02" y="423.55" width="10.66" height="1.83" fill="#fae8dd"/>
<rect x="214.08" y="423.55" width="10.66" height="1.83" fill="#a6cfe4"/>
<rect x="224.13" y="423.55" width="10.66" height="1.83" fill="#f8f1ec"/>
<rect x="234.19" y="423.55" width="10.66" height="1.83" fill="#dceaf2"/>
<rect x="244.24" y="423.55" width="10.06" height="1.83" fill="#e3eef3"/>
<rect x="73.3" y="424.88" width="10.66" height="1.83" fill="#e8f0f4"/>
<rect x="83.36" y="424.88" width="10.66" height="1.83" fill="#fcdecc"/>
<rect x="93.41" y="424.88" width="10.66" height="1.83" fill="#c8e0ed"/>
<rect x="103.47" y="424.88" width="10.66" height="1.83" fill="#fcdfce"/>
<rect x="113.52" y="424.88" width="10.66" height="1.83" fill="#f9ede6"/>
<rect x="123.58" y="424.88" width="10.66" height="1.83" fill="#fcd8c3"/>
<rect x="133.63" y="424.88" width="10.66" height="1.83" fill="#faeae1"/>
<rect x="143.69" y="424.88" width="10.66" height="1.83" fill="#f1f4f6"/>
<rect x="153.74" y="424.88" width="10.66" height="1.83" fill="#f8f3f1"/>
<rect x="163.8" y="424.88" width="10.66" height="1.83" fill="#fbe2d4"/>
<rect x="173.86" y="424.88" width="10.66" height="1.83" fill="#f8f1ed"/>
<rect x="183.91" y="424.88" width="10.66" height="1.83" fill="#fce0cf"/>
<rect x="193.97" y="424.88" width="10.66" height="1.83" fill="#f2f4f6"/>
<rect x="204.02" y="424.88" width="10.66" height="1.83" fill="#fcdecd"/>
<rect x="214.08" y="424.88" width="10.66" height="1.83" fill="#81bad8"/>
<rect x="224.13" y="424.88" width="10.66" height="1.83" fill="#fce2d3"/>
<rect x="234.19" y="424.88" width="10.66" height="1.83" fill="#f1f4f6"/>
<rect x="244.24" y="424.88" width="10.06" height="1.83" fill="#eef3f5"/>
<rect x="73.3" y="426.2" width="10.66" height="1.77" fill="#fdddca"/>
<rect x="83.36" y="426.2" width="10.66" height="1.77" fill="#ebf2f5"/>
<rect x="93.41" y="426.2" width="10.66" height="1.77" fill="#fddcc9"/>
<rect x="103.47" y="426.2" width="10.66" height="1.77" fill="#deebf2"/>
<rect x="113.52" y="426.2" width="10.66" height="1.77" fill="#fae8de"/>
<rect x="123.58" y="426.2" width="10.66" height="1.77" fill="#ecf2f5"/>
<rect x="133.63" y="426.2" width="10.66" height="1.77" fill="#f8f4f2"/>
<rect x="143.69" y="426.2" width="10.66" height="1.77" fill="#e1edf3"/>
<rect x="153.74" y="426.2" width="10.66" height="1.77" fill="#f9ece4"/>
<rect x="163.8" y="426.2" width="10.66" height="1.77" fill="#f8f2ee"/>
<rect x="173.86" y="426.2" width="10.66" height="1.77" fill="#ecf2f5"/>
<rect x="183.91" y="426.2" width="10.66" height="1.77" fill="#fcd2bc"/>
<rect x="193.97" y="426.2" width="10.66" height="1.77" fill="#fae9de"/>
<rect x="204.02" y="426.2" width="10.66" height="1.77" fill="#f4f5f6"/>
<rect x="214.08" y="426.2" width="10.66" height="1.77" fill="#e0ecf3"/>
<rect x="224.13" y="426.2" width="10.66" height="1.77" fill="#e3eef3"/>
<rect x="234.19" y="426.2" width="10.66" height="1.77" fill="#f0f4f6"/>
<rect x="244.24" y="426.2" width="10.06" height="1.77" fill="#e1edf3"/>
<rect x="73.3" y="427.47" width="10.66" height="1.77" fill="#f9c3a9"/>
<rect x="83.36" y="427.47" width="10.66" height="1.77" fill="#faebe2"/>
<rect x="93.41" y="427.47" width="10.66" height="1.77" fill="#facbb2"/>
<rect x="103.47" y="427.47" width="10.66" height="1.77" fill="#e1ecf3"/>
<rect x="113.52" y="427.47" width="10.66" height="1.77" fill="#fddcc8"/>
<rect x="123.58" y="427.47" width="10.66" height="1.77" fill="#f0f4f6"/>
<rect x="133.63" y="427.47" width="10.66" height="1.77" fill="#f8f4f2"/>
<rect x="143.69" y="427.47" width="10.66" height="1.77" fill="#e9f0f4"/>
<rect x="153.74" y="427.47" width="10.66" height="1.77" fill="#fbe3d5"/>
<rect x="163.8" y="427.47" width="10.66" height="1.77" fill="#fce0cf"/>
<rect x="173.86" y="427.47" width="10.66" height="1.77" fill="#f1f4f6"/>
<rect x="183.91" y="427.47" width="10.66" height="1.77" fill="#f8bc9f"/>
<rect x="193.97" y="427.47" width="10.66" height="1.77" fill="#f9f0ea"/>
<rect x="204.02" y="427.47" width="10.66" height="1.77" fill="#f9ede6"/>
<rect x="214.08" y="427.47" width="10.66" height="1.77" fill="#e8f0f4"/>
<rect x="224.13" y="427.47" width="10.66" height="1.77" fill="#e4eef3"/>
<rect x="234.19" y="427.47" width="10.66" height="1.77" fill="#fae9df"/>
<rect x="244.24" y="427.47" width="10.06" height="1.77" fill="#e4eef4"/>
<rect x="73.3" y="428.73" width="10.66" height="1.77" fill="#fac8af"/>
<rect x="83.36" y="428.73" width="10.66" height="1.77" fill="#faebe2"/>
<rect x="93.41" y="428.73" width="10.66" height="1.77" fill="#fdd9c4"/>
<rect x="103.47" y="428.73" width="10.66" height="1.77" fill="#fae8de"/>
<rect x="113.52" y="428.73" width="10.66" height="1.77" fill="#fcd6c1"/>
<rect x="123.58" y="428.73" width="10.66" height="1.77" fill="#f8f1ec"/>
<rect x="133.63" y="428.73" width="10.66" height="1.77" fill="#f5f6f7"/>
<rect x="143.69" y="428.73" width="10.66" height="1.77" fill="#e4eef3"/>
<rect x="153.74" y="428.73" width="10.66" height="1.77" fill="#fcdecd"/>
<rect x="163.8" y="428.73" width="10.66" height="1.77" fill="#faeae1"/>
<rect x="173.86" y="428.73" width="10.66" height="1.77" fill="#ebf1f5"/>
<rect x="183.91" y="428.73" width="10.66" height="1.77" fill="#fbe6d9"/>
<rect x="193.97" y="428.73" width="10.66" height="1.77" fill="#f1f4f6"/>
<rect x="204.02" y="428.73" width="10.66" height="1.77" fill="#f8f3f0"/>
<rect x="214.08" y="428.73" width="10.66" height="1.77" fill="#ecf2f5"/>
<rect x="224.13" y="428.73" width="10.66" height="1.77" fill="#e2edf3"/>
<rect x="234.19" y="428.73" width="10.66" height="1.77" fill="#f9efe9"/>
<rect x="244.24" y="428.73" width="10.06" height="1.77" fill="#f4f6f6"/>
<rect x="73.3" y="430" width="10.66" height="2" fill="#facbb2"/>
<rect x="83.36" y="430" width="10.66" height="2" fill="#eff3f5"/>
<rect x="93.41" y="430" width="10.66" height="2" fill="#fac7ad"/>
<rect x="103.47" y="430" width="10.66" height="2" fill="#d5e7f1"/>
<rect x="113.52" y="430" width="10.66" height="2" fill="#e9f0f4"/>
<rect x="123.58" y="430" width="10.66" height="2" fill="#fae9df"/>
<rect x="133.63" y="430" width="10.66" height="2" fill="#f7f7f6"/>
<rect x="143.69" y="430" width="10.66" height="2" fill="#f7f7f7"/>
<rect x="153.74" y="430" width="10.66" height="2" fill="#e1edf3"/>
<rect x="163.8" y="430" width="10.66" height="2" fill="#f9f0eb"/>
<rect x="173.86" y="430" width="10.66" height="2" fill="#eef3f5"/>
<rect x="183.91" y="430" width="10.66" height="2" fill="#fae9df"/>
<rect x="193.97" y="430" width="10.66" height="2" fill="#e4eef3"/>
<rect x="204.02" y="430" width="10.66" height="2" fill="#f8f4f2"/>
<rect x="214.08" y="430" width="10.66" height="2" fill="#e1ecf3"/>
<rect x="224.13" y="430" width="10.66" height="2" fill="#f2f5f6"/>
<rect x="234.19" y="430" width="10.66" height="2" fill="#f7f5f4"/>
<rect x="244.24" y="430" width="10.06" height="2" fill="#fae8dd"/>
<rect x="73.3" y="431.5" width="10.66" height="2" fill="#fac7ad"/>
<rect x="83.36" y="431.5" width="10.66" height="2" fill="#f8f4f2"/>
<rect x="93.41" y="431.5" width="10.66" height="2" fill="#f7b597"/>
<rect x="103.47" y="431.5" width="10.66" height="2" fill="#bddbea"/>
<rect x="113.52" y="431.5" width="10.66" height="2" fill="#e9f0f4"/>
<rect x="123.58" y="431.5" width="10.66" height="2" fill="#f8f2ee"/>
<rect x="133.63" y="431.5" width="10.66" height="2" fill="#f8f0eb"/>
<rect x="143.69" y="431.5" width="10.66" height="2" fill="#f9ece5"/>
<rect x="153.74" y="431.5" width="10.66" height="2" fill="#e6eff4"/>
<rect x="163.8" y="431.5" width="10.66" height="2" fill="#fcddcb"/>
<rect x="173.86" y="431.5" width="10.66" height="2" fill="#e7eff4"/>
<rect x="183.91" y="431.5" width="10.66" height="2" fill="#fbe5d9"/>
<rect x="193.97" y="431.5" width="10.66" height="2" fill="#f8f4f1"/>
<rect x="204.02" y="431.5" width="10.66" height="2" fill="#eef3f5"/>
<rect x="214.08" y="431.5" width="10.66" height="2" fill="#f8f4f2"/>
<rect x="224.13" y="431.5" width="10.66" height="2" fill="#f8f1ec"/>
<rect x="234.19" y="431.5" width="10.66" height="2" fill="#f9ece4"/>
<rect x="244.24" y="431.5" width="10.06" height="2" fill="#fdddcb"/>
<rect x="73.3" y="433" width="10.66" height="1.83" fill="#fbe6d9"/>
<rect x="83.36" y="433" width="10.66" height="1.83" fill="#bedbea"/>
<rect x="93.41" y="433" width="10.66" height="1.83" fill="#fbe4d7"/>
<rect x="103.47" y="433" width="10.66" height="1.83" fill="#b9d9e9"/>
<rect x="113.52" y="433" width="10.66" height="1.83" fill="#d2e6f0"/>
<rect x="123.58" y="433" width="10.66" height="1.83" fill="#e1ecf3"/>
<rect x="133.63" y="433" width="10.66" height="1.83" fill="#ebf1f5"/>
<rect x="143.69" y="433" width="10.66" height="1.83" fill="#f7f7f7"/>
<rect x="153.74" y="433" width="10.66" height="1.83" fill="#99c8e0"/>
<rect x="163.8" y="433" width="10.66" height="1.83" fill="#fbe3d5"/>
<rect x="173.86" y="433" width="10.66" height="1.83" fill="#f7f6f5"/>
<rect x="183.91" y="433" width="10.66" height="1.83" fill="#faebe3"/>
<rect x="193.97" y="433" width="10.66" height="1.83" fill="#edf2f5"/>
<rect x="204.02" y="433" width="10.66" height="1.83" fill="#cae2ee"/>
<rect x="214.08" y="433" width="10.66" height="1.83" fill="#ecf2f5"/>
<rect x="224.13" y="433" width="10.66" height="1.83" fill="#ddebf2"/>
<rect x="234.19" y="433" width="10.66" height="1.83" fill="#f9ebe3"/>
<rect x="244.24" y="433" width="10.06" height="1.83" fill="#f8f1ed"/>
<rect x="73.3" y="434.33" width="10.66" height="1.83" fill="#fbcdb5"/>
<rect x="83.36" y="434.33" width="10.66" height="1.83" fill="#deebf2"/>
<rect x="93.41" y="434.33" width="10.66" height="1.83" fill="#f8f3f0"/>
<rect x="103.47" y="434.33" width="10.66" height="1.83" fill="#c7e0ed"/>
<rect x="113.52" y="434.33" width="10.66" height="1.83" fill="#d3e6f0"/>
<rect x="123.58" y="434.33" width="10.66" height="1.83" fill="#f6f6f7"/>
<rect x="133.63" y="434.33" width="10.66" height="1.83" fill="#dfecf3"/>
<rect x="143.69" y="434.33" width="10.66" height="1.83" fill="#fae7dc"/>
<rect x="153.74" y="434.33" width="10.66" height="1.83" fill="#a8d0e4"/>
<rect x="163.8" y="434.33" width="10.66" height="1.83" fill="#fddbc7"/>
<rect x="173.86" y="434.33" width="10.66" height="1.83" fill="#f7f7f7"/>
<rect x="183.91" y="434.33" width="10.66" height="1.83" fill="#fae7db"/>
<rect x="193.97" y="434.33" width="10.66" height="1.83" fill="#e5eef4"/>
<rect x="204.02" y="434.33" width="10.66" height="1.83" fill="#e6eff4"/>
<rect x="214.08" y="434.33" width="10.66" height="1.83" fill="#f7f6f6"/>
<rect x="224.13" y="434.33" width="10.66" height="1.83" fill="#e5eef4"/>
<rect x="234.19" y="434.33" width="10.66" height="1.83" fill="#fbe4d6"/>
<rect x="244.24" y="434.33" width="10.06" height="1.83" fill="#f8f3f0"/>
<rect x="73.3" y="435.67" width="10.66" height="1.83" fill="#facab1"/>
<rect x="83.36" y="435.67" width="10.66" height="1.83" fill="#f9ece3"/>
<rect x="93.41" y="435.67" width="10.66" height="1.83" fill="#fcdfce"/>
<rect x="103.47" y="435.67" width="10.66" height="1.83" fill="#cce3ef"/>
<rect x="113.52" y="435.67" width="10.66" height="1.83" fill="#d9e9f2"/>
<rect x="123.58" y="435.67" width="10.66" height="1.83" fill="#eef3f5"/>
<rect x="133.63" y="435.67" width="10.66" height="1.83" fill="#f9ece4"/>
<rect x="143.69" y="435.67" width="10.66" height="1.83" fill="#fcdfce"/>
<rect x="153.74" y="435.67" width="10.66" height="1.83" fill="#bad9e9"/>
<rect x="163.8" y="435.67" width="10.66" height="1.83" fill="#fbccb4"/>
<rect x="173.86" y="435.67" width="10.66" height="1.83" fill="#f9efe9"/>
<rect x="183.91" y="435.67" width="10.66" height="1.83" fill="#fcd2bc"/>
<rect x="193.97" y="435.67" width="10.66" height="1.83" fill="#f9eee7"/>
<rect x="204.02" y="435.67" width="10.66" height="1.83" fill="#e5eff4"/>
<rect x="214.08" y="435.67" width="10.66" height="1.83" fill="#f9ece4"/>
<rect x="224.13" y="435.67" width="10.66" height="1.83" fill="#ebf1f5"/>
<rect x="234.19" y="435.67" width="10.66" height="1.83" fill="#fcdecc"/>
<rect x="244.24" y="435.67" width="10.06" height="1.83" fill="#fcd8c3"/>
<rect x="73.3" y="437" width="10.66" height="1.83" fill="#f8f2ee"/>
<rect x="83.36" y="437" width="10.66" height="1.83" fill="#f7f6f6"/>
<rect x="93.41" y="437" width="10.66" height="1.83" fill="#d5e7f1"/>
<rect x="103.47" y="437" width="10.66" height="1.83" fill="#fce1d1"/>
<rect x="113.52" y="437" width="10.66" height="1.83" fill="#f6f7f7"/>
<rect x="123.58" y="437" width="10.66" height="1.83" fill="#f8f0eb"/>
<rect x="133.63" y="437" width="10.66" height="1.83" fill="#fbe5d8"/>
<rect x="143.69" y="437" width="10.66" height="1.83" fill="#faeae0"/>
<rect x="153.74" y="437" width="10.66" height="1.83" fill="#eaf1f5"/>
<rect x="163.8" y="437" width="10.66" height="1.83" fill="#f8f1ec"/>
<rect x="173.86" y="437" width="10.66" height="1.83" fill="#f8f2ee"/>
<rect x="183.91" y="437" width="10.66" height="1.83" fill="#d9e9f1"/>
<rect x="193.97" y="437" width="10.66" height="1.83" fill="#f7f5f3"/>
<rect x="204.02" y="437" width="10.66" height="1.83" fill="#f8f1ed"/>
<rect x="214.08" y="437" width="10.66" height="1.83" fill="#fbcdb5"/>
<rect x="224.13" y="437" width="10.66" height="1.83" fill="#f9ede6"/>
<rect x="234.19" y="437" width="10.66" height="1.83" fill="#fcdfce"/>
<rect x="244.24" y="437" width="10.06" height="1.83" fill="#faebe3"/>
<rect x="73.3" y="438.33" width="10.66" height="1.83" fill="#eef3f5"/>
<rect x="83.36" y="438.33" width="10.66" height="1.83" fill="#f9eee7"/>
<rect x="93.41" y="438.33" width="10.66" height="1.83" fill="#e9f0f4"/>
<rect x="103.47" y="438.33" width="10.66" height="1.83" fill="#fce2d2"/>
<rect x="113.52" y="438.33" width="10.66" height="1.83" fill="#eaf1f5"/>
<rect x="123.58" y="438.33" width="10.66" height="1.83" fill="#faeae1"/>
<rect x="133.63" y="438.33" width="10.66" height="1.83" fill="#fddcc9"/>
<rect x="143.69" y="438.33" width="10.66" height="1.83" fill="#fcdecc"/>
<rect x="153.74" y="438.33" width="10.66" height="1.83" fill="#f7f7f7"/>
<rect x="163.8" y="438.33" width="10.66" height="1.83" fill="#f8f4f2"/>
<rect x="173.86" y="438.33" width="10.66" height="1.83" fill="#f2f5f6"/>
<rect x="183.91" y="438.33" width="10.66" height="1.83" fill="#c4dfec"/>
<rect x="193.97" y="438.33" width="10.66" height="1.83" fill="#f9ede7"/>
<rect x="204.02" y="438.33" width="10.66" height="1.83" fill="#edf2f5"/>
<rect x="214.08" y="438.33" width="10.66" height="1.83" fill="#fddcc8"/>
<rect x="224.13" y="438.33" width="10.66" height="1.83" fill="#f8f1ed"/>
<rect x="234.19" y="438.33" width="10.66" height="1.83" fill="#f7f5f3"/>
<rect x="244.24" y="438.33" width="10.06" height="1.83" fill="#f8f3f0"/>
<rect x="73.3" y="439.67" width="10.66" height="1.83" fill="#f8f3f0"/>
<rect x="83.36" y="439.67" width="10.66" height="1.83" fill="#f9ebe3"/>
<rect x="93.41" y="439.67" width="10.66" height="1.83" fill="#e0ecf3"/>
<rect x="103.47" y="439.67" width="10.66" height="1.83" fill="#fdddca"/>
<rect x="113.52" y="439.67" width="10.66" height="1.83" fill="#f3f5f6"/>
<rect x="123.58" y="439.67" width="10.66" height="1.83" fill="#f8f1ec"/>
<rect x="133.63" y="439.67" width="10.66" height="1.83" fill="#f9eee7"/>
<rect x="143.69" y="439.67" width="10.66" height="1.83" fill="#f5f6f7"/>
<rect x="153.74" y="439.67" width="10.66" height="1.83" fill="#e7eff4"/>
<rect x="163.8" y="439.67" width="10.66" height="1.83" fill="#f9ece4"/>
<rect x="173.86" y="439.67" width="10.66" height="1.83" fill="#f5f6f7"/>
<rect x="183.91" y="439.67" width="10.66" height="1.83" fill="#d2e5f0"/>
<rect x="193.97" y="439.67" width="10.66" height="1.83" fill="#f9eee8"/>
<rect x="204.02" y="439.67" width="10.66" height="1.83" fill="#e8f0f4"/>
<rect x="214.08" y="439.67" width="10.66" height="1.83" fill="#fae8dd"/>
<rect x="224.13" y="439.67" width="10.66" height="1.83" fill="#f9eee7"/>
<rect x="234.19" y="439.67" width="10.66" height="1.83" fill="#fdddcb"/>
<rect x="244.24" y="439.67" width="10.06" height="1.83" fill="#deebf2"/>
<rect x="73.3" y="441" width="10.66" height="1.83" fill="#f8f3f1"/>
<rect x="83.36" y="441" width="10.66" height="1.83" fill="#e8f0f4"/>
<rect x="93.41" y="441" width="10.66" height="1.83" fill="#f3f5f6"/>
<rect x="103.47" y="441" width="10.66" height="1.83" fill="#f9ede6"/>
<rect x="113.52" y="441" width="10.66" height="1.83" fill="#e8f0f4"/>
<rect x="123.58" y="441" width="10.66" height="1.83" fill="#ebf1f5"/>
<rect x="133.63" y="441" width="10.66" height="1.83" fill="#f8f4f2"/>
<rect x="143.69" y="441" width="10.66" height="1.83" fill="#f9ece5"/>
<rect x="153.74" y="441" width="10.66" height="1.83" fill="#e8f0f4"/>
<rect x="163.8" y="441" width="10.66" height="1.83" fill="#f8f3f1"/>
<rect x="173.86" y="441" width="10.66" height="1.83" fill="#f1f4f6"/>
<rect x="183.91" y="441" width="10.66" height="1.83" fill="#f9efea"/>
<rect x="193.97" y="441" width="10.66" height="1.83" fill="#f9efe9"/>
<rect x="204.02" y="441" width="10.66" height="1.83" fill="#e5eef4"/>
<rect x="214.08" y="441" width="10.66" height="1.83" fill="#f5f6f7"/>
<rect x="224.13" y="441" width="10.66" height="1.83" fill="#dbeaf2"/>
<rect x="234.19" y="441" width="10.66" height="1.83" fill="#ebf1f5"/>
<rect x="244.24" y="441" width="10.06" height="1.83" fill="#eaf1f5"/>
<rect x="73.3" y="442.33" width="10.66" height="1.83" fill="#fcddcb"/>
<rect x="83.36" y="442.33" width="10.66" height="1.83" fill="#f8f4f1"/>
<rect x="93.41" y="442.33" width="10.66" height="1.83" fill="#faebe2"/>
<rect x="103.47" y="442.33" width="10.66" height="1.83" fill="#f7f6f5"/>
<rect x="113.52" y="442.33" width="10.66" height="1.83" fill="#f1f4f6"/>
<rect x="123.58" y="442.33" width="10.66" height="1.83" fill="#f0f3f6"/>
<rect x="133.63" y="442.33" width="10.66" height="1.83" fill="#fce1d1"/>
<rect x="143.69" y="442.33" width="10.66" height="1.83" fill="#f8f2ee"/>
<rect x="153.74" y="442.33" width="10.66" height="1.83" fill="#eef3f5"/>
<rect x="163.8" y="442.33" width="10.66" height="1.83" fill="#fae9e0"/>
<rect x="173.86" y="442.33" width="10.66" height="1.83" fill="#d8e8f1"/>
<rect x="183.91" y="442.33" width="10.66" height="1.83" fill="#f8f1ed"/>
<rect x="193.97" y="442.33" width="10.66" height="1.83" fill="#fae8dd"/>
<rect x="204.02" y="442.33" width="10.66" height="1.83" fill="#f7f6f5"/>
<rect x="214.08" y="442.33" width="10.66" height="1.83" fill="#f7f5f4"/>
<rect x="224.13" y="442.33" width="10.66" height="1.83" fill="#e2edf3"/>
<rect x="234.19" y="442.33" width="10.66" height="1.83" fill="#f7f5f4"/>
<rect x="244.24" y="442.33" width="10.06" height="1.83" fill="#f9f0ea"/>
<rect x="73.3" y="443.67" width="10.66" height="1.83" fill="#f9eee8"/>
<rect x="83.36" y="443.67" width="10.66" height="1.83" fill="#e0ecf3"/>
<rect x="93.41" y="443.67" width="10.66" height="1.83" fill="#f3f5f6"/>
<rect x="103.47" y="443.67" width="10.66" height="1.83" fill="#f7f5f3"/>
<rect x="113.52" y="443.67" width="10.66" height="1.83" fill="#e6eff4"/>
<rect x="123.58" y="443.67" width="10.66" height="1.83" fill="#f2f5f6"/>
<rect x="133.63" y="443.67" width="10.66" height="1.83" fill="#f8f1ed"/>
<rect x="143.69" y="443.67" width="10.66" height="1.83" fill="#f9efe9"/>
<rect x="153.74" y="443.67" width="10.66" height="1.83" fill="#e8f0f4"/>
<rect x="163.8" y="443.67" width="10.66" height="1.83" fill="#f2f5f6"/>
<rect x="173.86" y="443.67" width="10.66" height="1.83" fill="#dbeaf2"/>
<rect x="183.91" y="443.67" width="10.66" height="1.83" fill="#f7f5f3"/>
<rect x="193.97" y="443.67" width="10.66" height="1.83" fill="#f9efe9"/>
<rect x="204.02" y="443.67" width="10.66" height="1.83" fill="#c3deec"/>
<rect x="214.08" y="443.67" width="10.66" height="1.83" fill="#f6f6f7"/>
<rect x="224.13" y="443.67" width="10.66" height="1.83" fill="#d4e7f1"/>
<rect x="234.19" y="443.67" width="10.66" height="1.83" fill="#e4eef4"/>
<rect x="244.24" y="443.67" width="10.06" height="1.83" fill="#f4f6f6"/>
<rect x="73.3" y="445" width="10.66" height="2" fill="#dceaf2"/>
<rect x="83.36" y="445" width="10.66" height="2" fill="#d1e5f0"/>
<rect x="93.41" y="445" width="10.66" height="2" fill="#d0e5f0"/>
<rect x="103.47" y="445" width="10.66" height="2" fill="#f7f7f7"/>
<rect x="113.52" y="445" width="10.66" height="2" fill="#faeae1"/>
<rect x="123.58" y="445" width="10.66" height="2" fill="#f7f5f4"/>
<rect x="133.63" y="445" width="10.66" height="2" fill="#faeae2"/>
<rect x="143.69" y="445" width="10.66" height="2" fill="#add3e6"/>
<rect x="153.74" y="445" width="10.66" height="2" fill="#dfecf3"/>
<rect x="163.8" y="445" width="10.66" height="2" fill="#fcd7c2"/>
<rect x="173.86" y="445" width="10.66" height="2" fill="#e4eef3"/>
<rect x="183.91" y="445" width="10.66" height="2" fill="#f9efea"/>
<rect x="193.97" y="445" width="10.66" height="2" fill="#fae8dd"/>
<rect x="204.02" y="445" width="10.66" height="2" fill="#d4e6f0"/>
<rect x="214.08" y="445" width="10.66" height="2" fill="#eb9072"/>
<rect x="224.13" y="445" width="10.66" height="2" fill="#d3e6f0"/>
<rect x="234.19" y="445" width="10.66" height="2" fill="#fce1d1"/>
<rect x="244.24" y="445" width="10.06" height="2" fill="#f8f3f0"/>
<rect x="73.3" y="446.5" width="10.66" height="2" fill="#e0ecf3"/>
<rect x="83.36" y="446.5" width="10.66" height="2" fill="#dfebf3"/>
<rect x="93.41" y="446.5" width="10.66" height="2" fill="#d9e9f2"/>
<rect x="103.47" y="446.5" width="10.66" height="2" fill="#fddbc7"/>
<rect x="113.52" y="446.5" width="10.66" height="2" fill="#fce1d2"/>
<rect x="123.58" y="446.5" width="10.66" height="2" fill="#fae9de"/>
<rect x="133.63" y="446.5" width="10.66" height="2" fill="#fce0d0"/>
<rect x="143.69" y="446.5" width="10.66" height="2" fill="#ddebf2"/>
<rect x="153.74" y="446.5" width="10.66" height="2" fill="#f9ede5"/>
<rect x="163.8" y="446.5" width="10.66" height="2" fill="#fcd7c2"/>
<rect x="173.86" y="446.5" width="10.66" height="2" fill="#e9f0f4"/>
<rect x="183.91" y="446.5" width="10.66" height="2" fill="#f7f5f3"/>
<rect x="193.97" y="446.5" width="10.66" height="2" fill="#fbe5d8"/>
<rect x="204.02" y="446.5" width="10.66" height="2" fill="#deebf2"/>
<rect x="214.08" y="446.5" width="10.66" height="2" fill="#f7b799"/>
<rect x="224.13" y="446.5" width="10.66" height="2" fill="#e6eff4"/>
<rect x="234.19" y="446.5" width="10.66" height="2" fill="#fddbc7"/>
<rect x="244.24" y="446.5" width="10.06" height="2" fill="#fbe5d8"/>
<rect x="73.3" y="448" width="10.66" height="2.5" fill="#e0ecf3"/>
<rect x="83.36" y="448" width="10.66" height="2.5" fill="#e3eef3"/>
<rect x="93.41" y="448" width="10.66" height="2.5" fill="#c8e1ed"/>
<rect x="103.47" y="448" width="10.66" height="2.5" fill="#f9eee7"/>
<rect x="113.52" y="448" width="10.66" height="2.5" fill="#f4f5f6"/>
<rect x="123.58" y="448" width="10.66" height="2.5" fill="#f8f0ec"/>
<rect x="133.63" y="448" width="10.66" height="2.5" fill="#fbe5d8"/>
<rect x="143.69" y="448" width="10.66" height="2.5" fill="#d1e5f0"/>
<rect x="153.74" y="448" width="10.66" height="2.5" fill="#fbe6da"/>
<rect x="163.8" y="448" width="10.66" height="2.5" fill="#fddbc8"/>
<rect x="173.86" y="448" width="10.66" height="2.5" fill="#f0f3f6"/>
<rect x="183.91" y="448" width="10.66" height="2.5" fill="#f7f5f4"/>
<rect x="193.97" y="448" width="10.66" height="2.5" fill="#fae9df"/>
<rect x="204.02" y="448" width="10.66" height="2.5" fill="#f4f5f6"/>
<rect x="214.08" y="448" width="10.66" height="2.5" fill="#f9c4a9"/>
<rect x="224.13" y="448" width="10.66" height="2.5" fill="#f2f5f6"/>
<rect x="234.19" y="448" width="10.66" height="2.5" fill="#fae9df"/>
<rect x="244.24" y="448" width="10.06" height="2.5" fill="#fdd8c4"/>
<rect x="73.3" y="450" width="10.66" height="2.5" fill="#fce1d1"/>
<rect x="83.36" y="450" width="10.66" height="2.5" fill="#d6e8f1"/>
<rect x="93.41" y="450" width="10.66" height="2.5" fill="#f7f6f5"/>
<rect x="103.47" y="450" width="10.66" height="2.5" fill="#fcd7c2"/>
<rect x="113.52" y="450" width="10.66" height="2.5" fill="#fae8de"/>
<rect x="123.58" y="450" width="10.66" height="2.5" fill="#eff3f5"/>
<rect x="133.63" y="450" width="10.66" height="2.5" fill="#faebe3"/>
<rect x="143.69" y="450" width="10.66" height="2.5" fill="#bedbeb"/>
<rect x="153.74" y="450" width="10.66" height="2.5" fill="#f8f1ed"/>
<rect x="163.8" y="450" width="10.66" height="2.5" fill="#fae7dc"/>
<rect x="173.86" y="450" width="10.66" height="2.5" fill="#ebf1f5"/>
<rect x="183.91" y="450" width="10.66" height="2.5" fill="#fbe3d4"/>
<rect x="193.97" y="450" width="10.66" height="2.5" fill="#fbe4d6"/>
<rect x="204.02" y="450" width="10.66" height="2.5" fill="#deebf2"/>
<rect x="214.08" y="450" width="10.66" height="2.5" fill="#f7b597"/>
<rect x="224.13" y="450" width="10.66" height="2.5" fill="#dceaf2"/>
<rect x="234.19" y="450" width="10.66" height="2.5" fill="#fddbc8"/>
<rect x="244.24" y="450" width="10.06" height="2.5" fill="#f4f5f6"/>
<rect x="73.3" y="452" width="10.66" height="2.15" fill="#eaf1f5"/>
<rect x="83.36" y="452" width="10.66" height="2.15" fill="#bcdbea"/>
<rect x="93.41" y="452" width="10.66" height="2.15" fill="#fddbc7"/>
<rect x="103.47" y="452" width="10.66" height="2.15" fill="#f8f3f0"/>
<rect x="113.52" y="452" width="10.66" height="2.15" fill="#f9f0ea"/>
<rect x="123.58" y="452" width="10.66" height="2.15" fill="#f1f4f6"/>
<rect x="133.63" y="452" width="10.66" height="2.15" fill="#faebe3"/>
<rect x="143.69" y="452" width="10.66" height="2.15" fill="#cfe4ef"/>
<rect x="153.74" y="452" width="10.66" height="2.15" fill="#fae7db"/>
<rect x="163.8" y="452" width="10.66" height="2.15" fill="#f9c1a6"/>
<rect x="173.86" y="452" width="10.66" height="2.15" fill="#fbe6da"/>
<rect x="183.91" y="452" width="10.66" height="2.15" fill="#f7f6f6"/>
<rect x="193.97" y="452" width="10.66" height="2.15" fill="#f8f3f0"/>
<rect x="204.02" y="452" width="10.66" height="2.15" fill="#fae9df"/>
<rect x="214.08" y="452" width="10.66" height="2.15" fill="#d8e8f1"/>
<rect x="224.13" y="452" width="10.66" height="2.15" fill="#f6b393"/>
<rect x="234.19" y="452" width="10.66" height="2.15" fill="#fae8de"/>
<rect x="244.24" y="452" width="10.06" height="2.15" fill="#f8f1ed"/>
<rect x="73.3" y="453.65" width="10.66" height="2.15" fill="#e3edf3"/>
<rect x="83.36" y="453.65" width="10.66" height="2.15" fill="#85bdda"/>
<rect x="93.41" y="453.65" width="10.66" height="2.15" fill="#fae8dd"/>
<rect x="103.47" y="453.65" width="10.66" height="2.15" fill="#f8f2ef"/>
<rect x="113.52" y="453.65" width="10.66" height="2.15" fill="#ebf1f5"/>
<rect x="123.58" y="453.65" width="10.66" height="2.15" fill="#f2f5f6"/>
<rect x="133.63" y="453.65" width="10.66" height="2.15" fill="#faebe2"/>
<rect x="143.69" y="453.65" width="10.66" height="2.15" fill="#bbdaea"/>
<rect x="153.74" y="453.65" width="10.66" height="2.15" fill="#f7f5f4"/>
<rect x="163.8" y="453.65" width="10.66" height="2.15" fill="#e17a61"/>
<rect x="173.86" y="453.65" width="10.66" height="2.15" fill="#f9ece4"/>
<rect x="183.91" y="453.65" width="10.66" height="2.15" fill="#f7f7f6"/>
<rect x="193.97" y="453.65" width="10.66" height="2.15" fill="#f8f1ed"/>
<rect x="204.02" y="453.65" width="10.66" height="2.15" fill="#f9eee7"/>
<rect x="214.08" y="453.65" width="10.66" height="2.15" fill="#e6eff4"/>
<rect x="224.13" y="453.65" width="10.66" height="2.15" fill="#f8bfa3"/>
<rect x="234.19" y="453.65" width="10.66" height="2.15" fill="#fae8dc"/>
<rect x="244.24" y="453.65" width="10.06" height="2.15" fill="#fddbc7"/>
<rect x="73.3" y="455.3" width="10.66" height="1.85" fill="#e2edf3"/>
<rect x="83.36" y="455.3" width="10.66" height="1.85" fill="#ecf2f5"/>
<rect x="93.41" y="455.3" width="10.66" height="1.85" fill="#e4eef3"/>
<rect x="103.47" y="455.3" width="10.66" height="1.85" fill="#91c4de"/>
<rect x="113.52" y="455.3" width="10.66" height="1.85" fill="#dbeaf2"/>
<rect x="123.58" y="455.3" width="10.66" height="1.85" fill="#f8f4f1"/>
<rect x="133.63" y="455.3" width="10.66" height="1.85" fill="#fae8de"/>
<rect x="143.69" y="455.3" width="10.66" height="1.85" fill="#d8e8f1"/>
<rect x="153.74" y="455.3" width="10.66" height="1.85" fill="#fbe4d7"/>
<rect x="163.8" y="455.3" width="10.66" height="1.85" fill="#e6eff4"/>
<rect x="173.86" y="455.3" width="10.66" height="1.85" fill="#fae8de"/>
<rect x="183.91" y="455.3" width="10.66" height="1.85" fill="#fbe3d5"/>
<rect x="193.97" y="455.3" width="10.66" height="1.85" fill="#fbe4d6"/>
<rect x="204.02" y="455.3" width="10.66" height="1.85" fill="#e5eff4"/>
<rect x="214.08" y="455.3" width="10.66" height="1.85" fill="#e6eff4"/>
<rect x="224.13" y="455.3" width="10.66" height="1.85" fill="#f9c6ac"/>
<rect x="234.19" y="455.3" width="10.66" height="1.85" fill="#f2f4f6"/>
<rect x="244.24" y="455.3" width="10.06" height="1.85" fill="#fbd2bb"/>
<rect x="73.3" y="456.65" width="10.66" height="1.85" fill="#cce2ef"/>
<rect x="83.36" y="456.65" width="10.66" height="1.85" fill="#f3f5f6"/>
<rect x="93.41" y="456.65" width="10.66" height="1.85" fill="#eff3f6"/>
<rect x="103.47" y="456.65" width="10.66" height="1.85" fill="#a2cde2"/>
<rect x="113.52" y="456.65" width="10.66" height="1.85" fill="#e4eef4"/>
<rect x="123.58" y="456.65" width="10.66" height="1.85" fill="#f7f5f4"/>
<rect x="133.63" y="456.65" width="10.66" height="1.85" fill="#fae9de"/>
<rect x="143.69" y="456.65" width="10.66" height="1.85" fill="#d3e6f0"/>
<rect x="153.74" y="456.65" width="10.66" height="1.85" fill="#fbe3d5"/>
<rect x="163.8" y="456.65" width="10.66" height="1.85" fill="#e7eff4"/>
<rect x="173.86" y="456.65" width="10.66" height="1.85" fill="#faeae1"/>
<rect x="183.91" y="456.65" width="10.66" height="1.85" fill="#f8f1ec"/>
<rect x="193.97" y="456.65" width="10.66" height="1.85" fill="#fbe3d4"/>
<rect x="204.02" y="456.65" width="10.66" height="1.85" fill="#e4eef4"/>
<rect x="214.08" y="456.65" width="10.66" height="1.85" fill="#f7f6f5"/>
<rect x="224.13" y="456.65" width="10.66" height="1.85" fill="#fbccb4"/>
<rect x="234.19" y="456.65" width="10.66" height="1.85" fill="#f2f5f6"/>
<rect x="244.24" y="456.65" width="10.06" height="1.85" fill="#fbcdb5"/>
<rect x="73.3" y="458" width="10.66" height="2.2" fill="#bcdaea"/>
<rect x="83.36" y="458" width="10.66" height="2.2" fill="#fbe4d6"/>
<rect x="93.41" y="458" width="10.66" height="2.2" fill="#bcdaea"/>
<rect x="103.47" y="458" width="10.66" height="2.2" fill="#317bb6"/>
<rect x="113.52" y="458" width="10.66" height="2.2" fill="#eef3f5"/>
<rect x="123.58" y="458" width="10.66" height="2.2" fill="#f8f1ed"/>
<rect x="133.63" y="458" width="10.66" height="2.2" fill="#f6ae8e"/>
<rect x="143.69" y="458" width="10.66" height="2.2" fill="#f3f5f6"/>
<rect x="153.74" y="458" width="10.66" height="2.2" fill="#fddcc8"/>
<rect x="163.8" y="458" width="10.66" height="2.2" fill="#fcd7c1"/>
<rect x="173.86" y="458" width="10.66" height="2.2" fill="#fce0cf"/>
<rect x="183.91" y="458" width="10.66" height="2.2" fill="#f9efe9"/>
<rect x="193.97" y="458" width="10.66" height="2.2" fill="#f9f0ea"/>
<rect x="204.02" y="458" width="10.66" height="2.2" fill="#fae9e0"/>
<rect x="214.08" y="458" width="10.66" height="2.2" fill="#bcdbea"/>
<rect x="224.13" y="458" width="10.66" height="2.2" fill="#f7f5f3"/>
<rect x="234.19" y="458" width="10.66" height="2.2" fill="#e6eff4"/>
<rect x="244.24" y="458" width="10.06" height="2.2" fill="#f9eee7"/>
<rect x="73.3" y="459.7" width="10.66" height="1.95" fill="#3d8bbf"/>
<rect x="83.36" y="459.7" width="10.66" height="1.95" fill="#d7e8f1"/>
<rect x="93.41" y="459.7" width="10.66" height="1.95" fill="#408fc1"/>
<rect x="103.47" y="459.7" width="10.66" height="1.95" fill="#f3a481"/>
<rect x="113.52" y="459.7" width="10.66" height="1.95" fill="#c53f3d"/>
<rect x="123.58" y="459.7" width="10.66" height="1.95" fill="#f9ece4"/>
<rect x="133.63" y="459.7" width="10.66" height="1.95" fill="#e27b62"/>
<rect x="143.69" y="459.7" width="10.66" height="1.95" fill="#aed3e6"/>
<rect x="153.74" y="459.7" width="10.66" height="1.95" fill="#facab1"/>
<rect x="163.8" y="459.7" width="10.66" height="1.95" fill="#f6f6f7"/>
<rect x="173.86" y="459.7" width="10.66" height="1.95" fill="#f5aa88"/>
<rect x="183.91" y="459.7" width="10.66" height="1.95" fill="#fbe5d9"/>
<rect x="193.97" y="459.7" width="10.66" height="1.95" fill="#fbe6d9"/>
<rect x="204.02" y="459.7" width="10.66" height="1.95" fill="#a3cee3"/>
<rect x="214.08" y="459.7" width="10.66" height="1.95" fill="#5da3cc"/>
<rect x="224.13" y="459.7" width="10.66" height="1.95" fill="#f8bb9f"/>
<rect x="234.19" y="459.7" width="10.66" height="1.95" fill="#ddeaf2"/>
<rect x="244.24" y="459.7" width="10.06" height="1.95" fill="#b1d5e7"/>
<rect x="73.3" y="461.15" width="10.66" height="1.95" fill="#95c6df"/>
<rect x="83.36" y="461.15" width="10.66" height="1.95" fill="#eaf1f5"/>
<rect x="93.41" y="461.15" width="10.66" height="1.95" fill="#6dadd1"/>
<rect x="103.47" y="461.15" width="10.66" height="1.95" fill="#eb9072"/>
<rect x="113.52" y="461.15" width="10.66" height="1.95" fill="#b51e2e"/>
<rect x="123.58" y="461.15" width="10.66" height="1.95" fill="#f9ece3"/>
<rect x="133.63" y="461.15" width="10.66" height="1.95" fill="#ca4842"/>
<rect x="143.69" y="461.15" width="10.66" height="1.95" fill="#c6dfed"/>
<rect x="153.74" y="461.15" width="10.66" height="1.95" fill="#ec9374"/>
<rect x="163.8" y="461.15" width="10.66" height="1.95" fill="#e2edf3"/>
<rect x="173.86" y="461.15" width="10.66" height="1.95" fill="#ec9273"/>
<rect x="183.91" y="461.15" width="10.66" height="1.95" fill="#fbe3d4"/>
<rect x="193.97" y="461.15" width="10.66" height="1.95" fill="#fae9e0"/>
<rect x="204.02" y="461.15" width="10.66" height="1.95" fill="#c0dceb"/>
<rect x="214.08" y="461.15" width="10.66" height="1.95" fill="#75b3d4"/>
<rect x="224.13" y="461.15" width="10.66" height="1.95" fill="#fdd9c5"/>
<rect x="234.19" y="461.15" width="10.66" height="1.95" fill="#c6e0ed"/>
<rect x="244.24" y="461.15" width="10.06" height="1.95" fill="#bedbeb"/>
<rect x="73.3" y="462.6" width="10.66" height="2.5" fill="#bddbea"/>
<rect x="83.36" y="462.6" width="10.66" height="2.5" fill="#fbceb6"/>
<rect x="93.41" y="462.6" width="10.66" height="2.5" fill="#f9ece4"/>
<rect x="103.47" y="462.6" width="10.66" height="2.5" fill="#fbd0b9"/>
<rect x="113.52" y="462.6" width="10.66" height="2.5" fill="#fdd8c3"/>
<rect x="123.58" y="462.6" width="10.66" height="2.5" fill="#faeae1"/>
<rect x="133.63" y="462.6" width="10.66" height="2.5" fill="#fbe4d6"/>
<rect x="143.69" y="462.6" width="10.66" height="2.5" fill="#f2f5f6"/>
<rect x="153.74" y="462.6" width="10.66" height="2.5" fill="#fbe2d3"/>
<rect x="163.8" y="462.6" width="10.66" height="2.5" fill="#fcdecc"/>
<rect x="173.86" y="462.6" width="10.66" height="2.5" fill="#f8f2ee"/>
<rect x="183.91" y="462.6" width="10.66" height="2.5" fill="#f7f6f6"/>
<rect x="193.97" y="462.6" width="10.66" height="2.5" fill="#f9ebe3"/>
<rect x="204.02" y="462.6" width="10.66" height="2.5" fill="#fce0d0"/>
<rect x="214.08" y="462.6" width="10.66" height="2.5" fill="#add3e6"/>
<rect x="224.13" y="462.6" width="10.66" height="2.5" fill="#d7e8f1"/>
<rect x="234.19" y="462.6" width="10.66" height="2.5" fill="#e3eef3"/>
<rect x="244.24" y="462.6" width="10.06" height="2.5" fill="#86beda"/>
<rect x="73.3" y="464.6" width="10.66" height="2.5" fill="#f9eee7"/>
<rect x="83.36" y="464.6" width="10.66" height="2.5" fill="#ecf2f5"/>
<rect x="93.41" y="464.6" width="10.66" height="2.5" fill="#fbd0b9"/>
<rect x="103.47" y="464.6" width="10.66" height="2.5" fill="#ddebf2"/>
<rect x="113.52" y="464.6" width="10.66" height="2.5" fill="#f9eee7"/>
<rect x="123.58" y="464.6" width="10.66" height="2.5" fill="#ecf2f5"/>
<rect x="133.63" y="464.6" width="10.66" height="2.5" fill="#d7e8f1"/>
<rect x="143.69" y="464.6" width="10.66" height="2.5" fill="#f7f6f5"/>
<rect x="153.74" y="464.6" width="10.66" height="2.5" fill="#dbeaf2"/>
<rect x="163.8" y="464.6" width="10.66" height="2.5" fill="#f9ece4"/>
<rect x="173.86" y="464.6" width="10.66" height="2.5" fill="#e2edf3"/>
<rect x="183.91" y="464.6" width="10.66" height="2.5" fill="#ecf2f5"/>
<rect x="193.97" y="464.6" width="10.66" height="2.5" fill="#eff3f6"/>
<rect x="204.02" y="464.6" width="10.66" height="2.5" fill="#fbe6da"/>
<rect x="214.08" y="464.6" width="10.66" height="2.5" fill="#6fafd2"/>
<rect x="224.13" y="464.6" width="10.66" height="2.5" fill="#98c8e0"/>
<rect x="234.19" y="464.6" width="10.66" height="2.5" fill="#c9e1ee"/>
<rect x="244.24" y="464.6" width="10.06" height="2.5" fill="#9dcae1"/>
<rect x="73.3" y="466.6" width="10.66" height="1.85" fill="#fbccb4"/>
<rect x="83.36" y="466.6" width="10.66" height="1.85" fill="#f4f5f6"/>
<rect x="93.41" y="466.6" width="10.66" height="1.85" fill="#fbd1ba"/>
<rect x="103.47" y="466.6" width="10.66" height="1.85" fill="#327db8"/>
<rect x="113.52" y="466.6" width="10.66" height="1.85" fill="#bcdaea"/>
<rect x="123.58" y="466.6" width="10.66" height="1.85" fill="#dae9f2"/>
<rect x="133.63" y="466.6" width="10.66" height="1.85" fill="#a0cce2"/>
<rect x="143.69" y="466.6" width="10.66" height="1.85" fill="#f9ede5"/>
<rect x="153.74" y="466.6" width="10.66" height="1.85" fill="#9bcae1"/>
<rect x="163.8" y="466.6" width="10.66" height="1.85" fill="#e6eff4"/>
<rect x="173.86" y="466.6" width="10.66" height="1.85" fill="#dbeaf2"/>
<rect x="183.91" y="466.6" width="10.66" height="1.85" fill="#f8f3f0"/>
<rect x="193.97" y="466.6" width="10.66" height="1.85" fill="#f9f0ea"/>
<rect x="204.02" y="466.6" width="10.66" height="1.85" fill="#f9eee7"/>
<rect x="214.08" y="466.6" width="10.66" height="1.85" fill="#f2f5f6"/>
<rect x="224.13" y="466.6" width="10.66" height="1.85" fill="#c53e3d"/>
<rect x="234.19" y="466.6" width="10.66" height="1.85" fill="#b8d9e9"/>
<rect x="244.24" y="466.6" width="10.06" height="1.85" fill="#5aa2cb"/>
<rect x="73.3" y="467.95" width="10.66" height="1.85" fill="#ea8d70"/>
<rect x="83.36" y="467.95" width="10.66" height="1.85" fill="#f4f6f7"/>
<rect x="93.41" y="467.95" width="10.66" height="1.85" fill="#fddcc9"/>
<rect x="103.47" y="467.95" width="10.66" height="1.85" fill="#286fb1"/>
<rect x="113.52" y="467.95" width="10.66" height="1.85" fill="#cfe4f0"/>
<rect x="123.58" y="467.95" width="10.66" height="1.85" fill="#edf2f5"/>
<rect x="133.63" y="467.95" width="10.66" height="1.85" fill="#acd2e5"/>
<rect x="143.69" y="467.95" width="10.66" height="1.85" fill="#fbccb4"/>
<rect x="153.74" y="467.95" width="10.66" height="1.85" fill="#dbeaf2"/>
<rect x="163.8" y="467.95" width="10.66" height="1.85" fill="#f7f7f7"/>
<rect x="173.86" y="467.95" width="10.66" height="1.85" fill="#f9ede5"/>
<rect x="183.91" y="467.95" width="10.66" height="1.85" fill="#faebe2"/>
<rect x="193.97" y="467.95" width="10.66" height="1.85" fill="#faeae1"/>
<rect x="204.02" y="467.95" width="10.66" height="1.85" fill="#fae8de"/>
<rect x="214.08" y="467.95" width="10.66" height="1.85" fill="#f6f6f7"/>
<rect x="224.13" y="467.95" width="10.66" height="1.85" fill="#ce5045"/>
<rect x="234.19" y="467.95" width="10.66" height="1.85" fill="#d5e7f1"/>
<rect x="244.24" y="467.95" width="10.06" height="1.85" fill="#abd2e5"/>
<rect x="73.3" y="469.3" width="10.66" height="1.7" fill="#faebe3"/>
<rect x="83.36" y="469.3" width="10.66" height="1.7" fill="#e7f0f4"/>
<rect x="93.41" y="469.3" width="10.66" height="1.7" fill="#fce1d1"/>
<rect x="103.47" y="469.3" width="10.66" height="1.7" fill="#d1e5f0"/>
<rect x="113.52" y="469.3" width="10.66" height="1.7" fill="#f3f5f6"/>
<rect x="123.58" y="469.3" width="10.66" height="1.7" fill="#e0ecf3"/>
<rect x="133.63" y="469.3" width="10.66" height="1.7" fill="#f3f5f6"/>
<rect x="143.69" y="469.3" width="10.66" height="1.7" fill="#f9eee8"/>
<rect x="153.74" y="469.3" width="10.66" height="1.7" fill="#f8bea2"/>
<rect x="163.8" y="469.3" width="10.66" height="1.7" fill="#f2f5f6"/>
<rect x="173.86" y="469.3" width="10.66" height="1.7" fill="#f8bb9e"/>
<rect x="183.91" y="469.3" width="10.66" height="1.7" fill="#c94741"/>
<rect x="193.97" y="469.3" width="10.66" height="1.7" fill="#edf2f5"/>
<rect x="204.02" y="469.3" width="10.66" height="1.7" fill="#f9c3a8"/>
<rect x="214.08" y="469.3" width="10.66" height="1.7" fill="#6eaed2"/>
<rect x="224.13" y="469.3" width="10.66" height="1.7" fill="#f7b99c"/>
<rect x="234.19" y="469.3" width="10.66" height="1.7" fill="#f0f4f6"/>
<rect x="244.24" y="469.3" width="10.06" height="1.7" fill="#99c8e0"/>
<rect x="73.3" y="470.5" width="10.66" height="1.7" fill="#f7f7f7"/>
<rect x="83.36" y="470.5" width="10.66" height="1.7" fill="#d7e8f1"/>
<rect x="93.41" y="470.5" width="10.66" height="1.7" fill="#f2f5f6"/>
<rect x="103.47" y="470.5" width="10.66" height="1.7" fill="#acd2e5"/>
<rect x="113.52" y="470.5" width="10.66" height="1.7" fill="#cae2ee"/>
<rect x="123.58" y="470.5" width="10.66" height="1.7" fill="#d1e5f0"/>
<rect x="133.63" y="470.5" width="10.66" height="1.7" fill="#deebf2"/>
<rect x="143.69" y="470.5" width="10.66" height="1.7" fill="#bad9e9"/>
<rect x="153.74" y="470.5" width="10.66" height="1.7" fill="#fcdecb"/>
<rect x="163.8" y="470.5" width="10.66" height="1.7" fill="#e6eff4"/>
<rect x="173.86" y="470.5" width="10.66" height="1.7" fill="#f8f5f3"/>
<rect x="183.91" y="470.5" width="10.66" height="1.7" fill="#ee9777"/>
<rect x="193.97" y="470.5" width="10.66" height="1.7" fill="#e3eef3"/>
<rect x="204.02" y="470.5" width="10.66" height="1.7" fill="#f9efea"/>
<rect x="214.08" y="470.5" width="10.66" height="1.7" fill="#3c89be"/>
<rect x="224.13" y="470.5" width="10.66" height="1.7" fill="#f9ece4"/>
<rect x="234.19" y="470.5" width="10.66" height="1.7" fill="#c7e0ed"/>
<rect x="244.24" y="470.5" width="10.06" height="1.7" fill="#77b4d5"/>
<rect x="73.3" y="473.5" width="10.66" height="1.75" fill="#f9f0ea"/>
<rect x="83.36" y="473.5" width="10.66" height="1.75" fill="#ebf1f5"/>
<rect x="93.41" y="473.5" width="10.66" height="1.75" fill="#f9efea"/>
<rect x="103.47" y="473.5" width="10.66" height="1.75" fill="#dfecf3"/>
<rect x="113.52" y="473.5" width="10.66" height="1.75" fill="#f0f4f6"/>
<rect x="123.58" y="473.5" width="10.66" height="1.75" fill="#e88a6d"/>
<rect x="133.63" y="473.5" width="10.66" height="1.75" fill="#d7e8f1"/>
<rect x="143.69" y="473.5" width="10.66" height="1.75" fill="#ebf1f5"/>
<rect x="153.74" y="473.5" width="10.66" height="1.75" fill="#fcdfce"/>
<rect x="163.8" y="473.5" width="10.66" height="1.75" fill="#f6b191"/>
<rect x="173.86" y="473.5" width="10.66" height="1.75" fill="#ebf1f5"/>
<rect x="183.91" y="473.5" width="10.66" height="1.75" fill="#fcd2bc"/>
<rect x="193.97" y="473.5" width="10.66" height="1.75" fill="#f3f5f6"/>
<rect x="204.02" y="473.5" width="10.66" height="1.75" fill="#cce3ef"/>
<rect x="214.08" y="473.5" width="10.66" height="1.75" fill="#f6b090"/>
<rect x="224.13" y="473.5" width="10.66" height="1.75" fill="#d3e6f0"/>
<rect x="234.19" y="473.5" width="10.66" height="1.75" fill="#fcdfce"/>
<rect x="244.24" y="473.5" width="10.06" height="1.75" fill="#deebf2"/>
<rect x="73.3" y="474.75" width="10.66" height="1.75" fill="#fbe4d7"/>
<rect x="83.36" y="474.75" width="10.66" height="1.75" fill="#f8f4f1"/>
<rect x="93.41" y="474.75" width="10.66" height="1.75" fill="#fae8de"/>
<rect x="103.47" y="474.75" width="10.66" height="1.75" fill="#d3e6f0"/>
<rect x="113.52" y="474.75" width="10.66" height="1.75" fill="#f7f6f6"/>
<rect x="123.58" y="474.75" width="10.66" height="1.75" fill="#f4a885"/>
<rect x="133.63" y="474.75" width="10.66" height="1.75" fill="#a1cde2"/>
<rect x="143.69" y="474.75" width="10.66" height="1.75" fill="#f6f7f7"/>
<rect x="153.74" y="474.75" width="10.66" height="1.75" fill="#f7f6f6"/>
<rect x="163.8" y="474.75" width="10.66" height="1.75" fill="#f4a785"/>
<rect x="173.86" y="474.75" width="10.66" height="1.75" fill="#f9ece4"/>
<rect x="183.91" y="474.75" width="10.66" height="1.75" fill="#f9c6ac"/>
<rect x="193.97" y="474.75" width="10.66" height="1.75" fill="#f9ede5"/>
<rect x="204.02" y="474.75" width="10.66" height="1.75" fill="#bddbea"/>
<rect x="214.08" y="474.75" width="10.66" height="1.75" fill="#de735b"/>
<rect x="224.13" y="474.75" width="10.66" height="1.75" fill="#c7e0ed"/>
<rect x="234.19" y="474.75" width="10.66" height="1.75" fill="#f8bfa4"/>
<rect x="244.24" y="474.75" width="10.06" height="1.75" fill="#f1f4f6"/>
<rect x="73.3" y="476" width="10.66" height="1.83" fill="#fcdecc"/>
<rect x="83.36" y="476" width="10.66" height="1.83" fill="#eef3f5"/>
<rect x="93.41" y="476" width="10.66" height="1.83" fill="#eff3f5"/>
<rect x="103.47" y="476" width="10.66" height="1.83" fill="#f9efe9"/>
<rect x="113.52" y="476" width="10.66" height="1.83" fill="#fddcc9"/>
<rect x="123.58" y="476" width="10.66" height="1.83" fill="#f7f7f7"/>
<rect x="133.63" y="476" width="10.66" height="1.83" fill="#f0f4f6"/>
<rect x="143.69" y="476" width="10.66" height="1.83" fill="#eaf1f5"/>
<rect x="153.74" y="476" width="10.66" height="1.83" fill="#f8f2ee"/>
<rect x="163.8" y="476" width="10.66" height="1.83" fill="#fddcc9"/>
<rect x="173.86" y="476" width="10.66" height="1.83" fill="#ebf1f5"/>
<rect x="183.91" y="476" width="10.66" height="1.83" fill="#f8f2ef"/>
<rect x="193.97" y="476" width="10.66" height="1.83" fill="#eff3f6"/>
<rect x="204.02" y="476" width="10.66" height="1.83" fill="#e7f0f4"/>
<rect x="214.08" y="476" width="10.66" height="1.83" fill="#ecf2f5"/>
<rect x="224.13" y="476" width="10.66" height="1.83" fill="#c7e0ed"/>
<rect x="234.19" y="476" width="10.66" height="1.83" fill="#fddcc8"/>
<rect x="244.24" y="476" width="10.06" height="1.83" fill="#f9efea"/>
<rect x="73.3" y="477.33" width="10.66" height="1.83" fill="#f7b496"/>
<rect x="83.36" y="477.33" width="10.66" height="1.83" fill="#f5f6f7"/>
<rect x="93.41" y="477.33" width="10.66" height="1.83" fill="#fae9df"/>
<rect x="103.47" y="477.33" width="10.66" height="1.83" fill="#fcd3bc"/>
<rect x="113.52" y="477.33" width="10.66" height="1.83" fill="#fbe6d9"/>
<rect x="123.58" y="477.33" width="10.66" height="1.83" fill="#faeae1"/>
<rect x="133.63" y="477.33" width="10.66" height="1.83" fill="#e5eff4"/>
<rect x="143.69" y="477.33" width="10.66" height="1.83" fill="#b5d7e8"/>
<rect x="153.74" y="477.33" width="10.66" height="1.83" fill="#f9ede5"/>
<rect x="163.8" y="477.33" width="10.66" height="1.83" fill="#fcdfcf"/>
<rect x="173.86" y="477.33" width="10.66" height="1.83" fill="#f0f4f6"/>
<rect x="183.91" y="477.33" width="10.66" height="1.83" fill="#f8f1ed"/>
<rect x="193.97" y="477.33" width="10.66" height="1.83" fill="#f9ece4"/>
<rect x="204.02" y="477.33" width="10.66" height="1.83" fill="#e2edf3"/>
<rect x="214.08" y="477.33" width="10.66" height="1.83" fill="#f8f4f2"/>
<rect x="224.13" y="477.33" width="10.66" height="1.83" fill="#d8e8f1"/>
<rect x="234.19" y="477.33" width="10.66" height="1.83" fill="#f9c4aa"/>
<rect x="244.24" y="477.33" width="10.06" height="1.83" fill="#f9f0eb"/>
<rect x="73.3" y="478.67" width="10.66" height="1.83" fill="#fcd5bf"/>
<rect x="83.36" y="478.67" width="10.66" height="1.83" fill="#eff3f6"/>
<rect x="93.41" y="478.67" width="10.66" height="1.83" fill="#f7f7f7"/>
<rect x="103.47" y="478.67" width="10.66" height="1.83" fill="#fae8de"/>
<rect x="113.52" y="478.67" width="10.66" height="1.83" fill="#fae8dd"/>
<rect x="123.58" y="478.67" width="10.66" height="1.83" fill="#f8f2ee"/>
<rect x="133.63" y="478.67" width="10.66" height="1.83" fill="#e4eef3"/>
<rect x="143.69" y="478.67" width="10.66" height="1.83" fill="#f1f4f6"/>
<rect x="153.74" y="478.67" width="10.66" height="1.83" fill="#f9eee8"/>
<rect x="163.8" y="478.67" width="10.66" height="1.83" fill="#f7f5f4"/>
<rect x="173.86" y="478.67" width="10.66" height="1.83" fill="#eaf1f5"/>
<rect x="183.91" y="478.67" width="10.66" height="1.83" fill="#f8f3f0"/>
<rect x="193.97" y="478.67" width="10.66" height="1.83" fill="#f9ece5"/>
<rect x="204.02" y="478.67" width="10.66" height="1.83" fill="#d6e7f1"/>
<rect x="214.08" y="478.67" width="10.66" height="1.83" fill="#f7f6f6"/>
<rect x="224.13" y="478.67" width="10.66" height="1.83" fill="#dfecf3"/>
<rect x="234.19" y="478.67" width="10.66" height="1.83" fill="#fcd6c1"/>
<rect x="244.24" y="478.67" width="10.06" height="1.83" fill="#f3f5f6"/>
<rect x="73.3" y="480" width="10.66" height="1.83" fill="#faebe3"/>
<rect x="83.36" y="480" width="10.66" height="1.83" fill="#f0f4f6"/>
<rect x="93.41" y="480" width="10.66" height="1.83" fill="#fcdecc"/>
<rect x="103.47" y="480" width="10.66" height="1.83" fill="#d9e9f1"/>
<rect x="113.52" y="480" width="10.66" height="1.83" fill="#e9f0f4"/>
<rect x="123.58" y="480" width="10.66" height="1.83" fill="#f9eee7"/>
<rect x="133.63" y="480" width="10.66" height="1.83" fill="#f9efea"/>
<rect x="143.69" y="480" width="10.66" height="1.83" fill="#deebf2"/>
<rect x="153.74" y="480" width="10.66" height="1.83" fill="#f9eee8"/>
<rect x="163.8" y="480" width="10.66" height="1.83" fill="#f9f0eb"/>
<rect x="173.86" y="480" width="10.66" height="1.83" fill="#eaf1f5"/>
<rect x="183.91" y="480" width="10.66" height="1.83" fill="#fce2d3"/>
<rect x="193.97" y="480" width="10.66" height="1.83" fill="#f8f4f2"/>
<rect x="204.02" y="480" width="10.66" height="1.83" fill="#e3eef3"/>
<rect x="214.08" y="480" width="10.66" height="1.83" fill="#cbe2ee"/>
<rect x="224.13" y="480" width="10.66" height="1.83" fill="#d5e7f1"/>
<rect x="234.19" y="480" width="10.66" height="1.83" fill="#d9e9f2"/>
<rect x="244.24" y="480" width="10.06" height="1.83" fill="#f1f4f6"/>
<rect x="73.3" y="481.33" width="10.66" height="1.83" fill="#faeae1"/>
<rect x="83.36" y="481.33" width="10.66" height="1.83" fill="#fbe5d8"/>
<rect x="93.41" y="481.33" width="10.66" height="1.83" fill="#fbcdb5"/>
<rect x="103.47" y="481.33" width="10.66" height="1.83" fill="#f9eee8"/>
<rect x="113.52" y="481.33" width="10.66" height="1.83" fill="#e5eef4"/>
<rect x="123.58" y="481.33" width="10.66" height="1.83" fill="#fce0cf"/>
<rect x="133.63" y="481.33" width="10.66" height="1.83" fill="#f9ece4"/>
<rect x="143.69" y="481.33" width="10.66" height="1.83" fill="#ebf1f5"/>
<rect x="153.74" y="481.33" width="10.66" height="1.83" fill="#f8f3f1"/>
<rect x="163.8" y="481.33" width="10.66" height="1.83" fill="#fce0cf"/>
<rect x="173.86" y="481.33" width="10.66" height="1.83" fill="#e1edf3"/>
<rect x="183.91" y="481.33" width="10.66" height="1.83" fill="#f9c4aa"/>
<rect x="193.97" y="481.33" width="10.66" height="1.83" fill="#e8f0f4"/>
<rect x="204.02" y="481.33" width="10.66" height="1.83" fill="#e6eff4"/>
<rect x="214.08" y="481.33" width="10.66" height="1.83" fill="#c7e0ed"/>
<rect x="224.13" y="481.33" width="10.66" height="1.83" fill="#cbe2ee"/>
<rect x="234.19" y="481.33" width="10.66" height="1.83" fill="#ecf2f5"/>
<rect x="244.24" y="481.33" width="10.06" height="1.83" fill="#deebf2"/>
<rect x="73.3" y="482.67" width="10.66" height="1.83" fill="#f9efea"/>
<rect x="83.36" y="482.67" width="10.66" height="1.83" fill="#fcdfce"/>
<rect x="93.41" y="482.67" width="10.66" height="1.83" fill="#f9c1a6"/>
<rect x="103.47" y="482.67" width="10.66" height="1.83" fill="#eef3f5"/>
<rect x="113.52" y="482.67" width="10.66" height="1.83" fill="#e1ecf3"/>
<rect x="123.58" y="482.67" width="10.66" height="1.83" fill="#fbe4d7"/>
<rect x="133.63" y="482.67" width="10.66" height="1.83" fill="#f3f5f6"/>
<rect x="143.69" y="482.67" width="10.66" height="1.83" fill="#f8f2ef"/>
<rect x="153.74" y="482.67" width="10.66" height="1.83" fill="#f7f6f5"/>
<rect x="163.8" y="482.67" width="10.66" height="1.83" fill="#fbe3d5"/>
<rect x="173.86" y="482.67" width="10.66" height="1.83" fill="#d1e5f0"/>
<rect x="183.91" y="482.67" width="10.66" height="1.83" fill="#f7b698"/>
<rect x="193.97" y="482.67" width="10.66" height="1.83" fill="#f9efe9"/>
<rect x="204.02" y="482.67" width="10.66" height="1.83" fill="#f5f6f7"/>
<rect x="214.08" y="482.67" width="10.66" height="1.83" fill="#c7e0ed"/>
<rect x="224.13" y="482.67" width="10.66" height="1.83" fill="#d4e6f0"/>
<rect x="234.19" y="482.67" width="10.66" height="1.83" fill="#ddebf2"/>
<rect x="244.24" y="482.67" width="10.06" height="1.83" fill="#f7f7f7"/>
<rect x="73.3" y="484" width="10.66" height="1.83" fill="#f9efe9"/>
<rect x="83.36" y="484" width="10.66" height="1.83" fill="#f7f5f4"/>
<rect x="93.41" y="484" width="10.66" height="1.83" fill="#fae7dc"/>
<rect x="103.47" y="484" width="10.66" height="1.83" fill="#fae9e0"/>
<rect x="113.52" y="484" width="10.66" height="1.83" fill="#f8f1ed"/>
<rect x="123.58" y="484" width="10.66" height="1.83" fill="#eef3f5"/>
<rect x="133.63" y="484" width="10.66" height="1.83" fill="#e9f0f4"/>
<rect x="143.69" y="484" width="10.66" height="1.83" fill="#f2f5f6"/>
<rect x="153.74" y="484" width="10.66" height="1.83" fill="#eef3f5"/>
<rect x="163.8" y="484" width="10.66" height="1.83" fill="#f8f2ee"/>
<rect x="173.86" y="484" width="10.66" height="1.83" fill="#e7eff4"/>
<rect x="183.91" y="484" width="10.66" height="1.83" fill="#fbe6da"/>
<rect x="193.97" y="484" width="10.66" height="1.83" fill="#dbeaf2"/>
<rect x="204.02" y="484" width="10.66" height="1.83" fill="#e8f0f4"/>
<rect x="214.08" y="484" width="10.66" height="1.83" fill="#e0ecf3"/>
<rect x="224.13" y="484" width="10.66" height="1.83" fill="#e5eef4"/>
<rect x="234.19" y="484" width="10.66" height="1.83" fill="#e2edf3"/>
<rect x="244.24" y="484" width="10.06" height="1.83" fill="#edf2f5"/>
<rect x="73.3" y="485.33" width="10.66" height="1.83" fill="#fcdfce"/>
<rect x="83.36" y="485.33" width="10.66" height="1.83" fill="#f5f6f7"/>
<rect x="93.41" y="485.33" width="10.66" height="1.83" fill="#fdddcb"/>
<rect x="103.47" y="485.33" width="10.66" height="1.83" fill="#faebe3"/>
<rect x="113.52" y="485.33" width="10.66" height="1.83" fill="#fae9df"/>
<rect x="123.58" y="485.33" width="10.66" height="1.83" fill="#fae9df"/>
<rect x="133.63" y="485.33" width="10.66" height="1.83" fill="#fbe3d4"/>
<rect x="143.69" y="485.33" width="10.66" height="1.83" fill="#f7f7f6"/>
<rect x="153.74" y="485.33" width="10.66" height="1.83" fill="#f6f7f7"/>
<rect x="163.8" y="485.33" width="10.66" height="1.83" fill="#f9ede6"/>
<rect x="173.86" y="485.33" width="10.66" height="1.83" fill="#e1edf3"/>
<rect x="183.91" y="485.33" width="10.66" height="1.83" fill="#fae8dd"/>
<rect x="193.97" y="485.33" width="10.66" height="1.83" fill="#d0e5f0"/>
<rect x="204.02" y="485.33" width="10.66" height="1.83" fill="#f8f4f3"/>
<rect x="214.08" y="485.33" width="10.66" height="1.83" fill="#eff3f6"/>
<rect x="224.13" y="485.33" width="10.66" height="1.83" fill="#f1f4f6"/>
<rect x="234.19" y="485.33" width="10.66" height="1.83" fill="#e0ecf3"/>
<rect x="244.24" y="485.33" width="10.06" height="1.83" fill="#f8f4f1"/>
<rect x="73.3" y="486.67" width="10.66" height="1.83" fill="#f8f5f3"/>
<rect x="83.36" y="486.67" width="10.66" height="1.83" fill="#d5e7f1"/>
<rect x="93.41" y="486.67" width="10.66" height="1.83" fill="#f9ebe3"/>
<rect x="103.47" y="486.67" width="10.66" height="1.83" fill="#fae9df"/>
<rect x="113.52" y="486.67" width="10.66" height="1.83" fill="#ecf2f5"/>
<rect x="123.58" y="486.67" width="10.66" height="1.83" fill="#e7eff4"/>
<rect x="133.63" y="486.67" width="10.66" height="1.83" fill="#f9ede6"/>
<rect x="143.69" y="486.67" width="10.66" height="1.83" fill="#e1ecf3"/>
<rect x="153.74" y="486.67" width="10.66" height="1.83" fill="#d5e7f1"/>
<rect x="163.8" y="486.67" width="10.66" height="1.83" fill="#e2edf3"/>
<rect x="173.86" y="486.67" width="10.66" height="1.83" fill="#cde3ef"/>
<rect x="183.91" y="486.67" width="10.66" height="1.83" fill="#fae9df"/>
<rect x="193.97" y="486.67" width="10.66" height="1.83" fill="#e4eef3"/>
<rect x="204.02" y="486.67" width="10.66" height="1.83" fill="#f3f5f6"/>
<rect x="214.08" y="486.67" width="10.66" height="1.83" fill="#dbeaf2"/>
<rect x="224.13" y="486.67" width="10.66" height="1.83" fill="#dfecf3"/>
<rect x="234.19" y="486.67" width="10.66" height="1.83" fill="#dceaf2"/>
<rect x="244.24" y="486.67" width="10.06" height="1.83" fill="#f1f4f6"/>
<rect x="73.3" y="488" width="10.66" height="1.83" fill="#fdddca"/>
<rect x="83.36" y="488" width="10.66" height="1.83" fill="#faebe3"/>
<rect x="93.41" y="488" width="10.66" height="1.83" fill="#eb9072"/>
<rect x="103.47" y="488" width="10.66" height="1.83" fill="#f7f7f6"/>
<rect x="113.52" y="488" width="10.66" height="1.83" fill="#f7b89a"/>
<rect x="123.58" y="488" width="10.66" height="1.83" fill="#fbe3d5"/>
<rect x="133.63" y="488" width="10.66" height="1.83" fill="#f8f5f3"/>
<rect x="143.69" y="488" width="10.66" height="1.83" fill="#f4f6f7"/>
<rect x="153.74" y="488" width="10.66" height="1.83" fill="#eff3f5"/>
<rect x="163.8" y="488" width="10.66" height="1.83" fill="#fae9df"/>
<rect x="173.86" y="488" width="10.66" height="1.83" fill="#f8f5f3"/>
<rect x="183.91" y="488" width="10.66" height="1.83" fill="#fbe3d4"/>
<rect x="193.97" y="488" width="10.66" height="1.83" fill="#d8e8f1"/>
<rect x="204.02" y="488" width="10.66" height="1.83" fill="#f2f5f6"/>
<rect x="214.08" y="488" width="10.66" height="1.83" fill="#e4eef3"/>
<rect x="224.13" y="488" width="10.66" height="1.83" fill="#f7f5f4"/>
<rect x="234.19" y="488" width="10.66" height="1.83" fill="#f8f2ef"/>
<rect x="244.24" y="488" width="10.06" height="1.83" fill="#e3eef3"/>
<rect x="73.3" y="489.33" width="10.66" height="1.83" fill="#fddbc8"/>
<rect x="83.36" y="489.33" width="10.66" height="1.83" fill="#f8f3f1"/>
<rect x="93.41" y="489.33" width="10.66" height="1.83" fill="#f8bda0"/>
<rect x="103.47" y="489.33" width="10.66" height="1.83" fill="#f4f6f6"/>
<rect x="113.52" y="489.33" width="10.66" height="1.83" fill="#fbe4d7"/>
<rect x="123.58" y="489.33" width="10.66" height="1.83" fill="#f7f5f4"/>
<rect x="133.63" y="489.33" width="10.66" height="1.83" fill="#eef3f5"/>
<rect x="143.69" y="489.33" width="10.66" height="1.83" fill="#f6f6f7"/>
<rect x="153.74" y="489.33" width="10.66" height="1.83" fill="#deebf2"/>
<rect x="163.8" y="489.33" width="10.66" height="1.83" fill="#faeae0"/>
<rect x="173.86" y="489.33" width="10.66" height="1.83" fill="#f3f5f6"/>
<rect x="183.91" y="489.33" width="10.66" height="1.83" fill="#f8f4f3"/>
<rect x="193.97" y="489.33" width="10.66" height="1.83" fill="#deebf2"/>
<rect x="204.02" y="489.33" width="10.66" height="1.83" fill="#e3edf3"/>
<rect x="214.08" y="489.33" width="10.66" height="1.83" fill="#d1e5f0"/>
<rect x="224.13" y="489.33" width="10.66" height="1.83" fill="#f1f4f6"/>
<rect x="234.19" y="489.33" width="10.66" height="1.83" fill="#f1f4f6"/>
<rect x="244.24" y="489.33" width="10.06" height="1.83" fill="#e0ecf3"/>
<rect x="73.3" y="490.67" width="10.66" height="1.83" fill="#fce0cf"/>
<rect x="83.36" y="490.67" width="10.66" height="1.83" fill="#fae9df"/>
<rect x="93.41" y="490.67" width="10.66" height="1.83" fill="#fcd4bf"/>
<rect x="103.47" y="490.67" width="10.66" height="1.83" fill="#e8f0f4"/>
<rect x="113.52" y="490.67" width="10.66" height="1.83" fill="#fbd1bb"/>
<rect x="123.58" y="490.67" width="10.66" height="1.83" fill="#f8f4f2"/>
<rect x="133.63" y="490.67" width="10.66" height="1.83" fill="#e7eff4"/>
<rect x="143.69" y="490.67" width="10.66" height="1.83" fill="#eef3f5"/>
<rect x="153.74" y="490.67" width="10.66" height="1.83" fill="#eef3f5"/>
<rect x="163.8" y="490.67" width="10.66" height="1.83" fill="#f9ece5"/>
<rect x="173.86" y="490.67" width="10.66" height="1.83" fill="#e9f0f4"/>
<rect x="183.91" y="490.67" width="10.66" height="1.83" fill="#f7f5f4"/>
<rect x="193.97" y="490.67" width="10.66" height="1.83" fill="#d4e6f1"/>
<rect x="204.02" y="490.67" width="10.66" height="1.83" fill="#f4f6f6"/>
<rect x="214.08" y="490.67" width="10.66" height="1.83" fill="#cee3ef"/>
<rect x="224.13" y="490.67" width="10.66" height="1.83" fill="#e2edf3"/>
<rect x="234.19" y="490.67" width="10.66" height="1.83" fill="#f0f3f6"/>
<rect x="244.24" y="490.67" width="10.06" height="1.83" fill="#ddebf2"/>
<rect x="73.3" y="492" width="10.66" height="1.83" fill="#fae7dc"/>
<rect x="83.36" y="492" width="10.66" height="1.83" fill="#f6f6f7"/>
<rect x="93.41" y="492" width="10.66" height="1.83" fill="#fce1d2"/>
<rect x="103.47" y="492" width="10.66" height="1.83" fill="#f6f6f7"/>
<rect x="113.52" y="492" width="10.66" height="1.83" fill="#fce1d0"/>
<rect x="123.58" y="492" width="10.66" height="1.83" fill="#f4f5f6"/>
<rect x="133.63" y="492" width="10.66" height="1.83" fill="#f7f5f4"/>
<rect x="143.69" y="492" width="10.66" height="1.83" fill="#f5f6f7"/>
<rect x="153.74" y="492" width="10.66" height="1.83" fill="#eff3f6"/>
<rect x="163.8" y="492" width="10.66" height="1.83" fill="#f8f3f0"/>
<rect x="173.86" y="492" width="10.66" height="1.83" fill="#cbe2ee"/>
<rect x="183.91" y="492" width="10.66" height="1.83" fill="#f9ece4"/>
<rect x="193.97" y="492" width="10.66" height="1.83" fill="#f8f2ef"/>
<rect x="204.02" y="492" width="10.66" height="1.83" fill="#f7f6f6"/>
<rect x="214.08" y="492" width="10.66" height="1.83" fill="#f8bb9f"/>
<rect x="224.13" y="492" width="10.66" height="1.83" fill="#d7e8f1"/>
<rect x="234.19" y="492" width="10.66" height="1.83" fill="#f7f7f7"/>
<rect x="244.24" y="492" width="10.06" height="1.83" fill="#f9ece4"/>
<rect x="73.3" y="493.33" width="10.66" height="1.83" fill="#f5f6f7"/>
<rect x="83.36" y="493.33" width="10.66" height="1.83" fill="#f3f5f6"/>
<rect x="93.41" y="493.33" width="10.66" height="1.83" fill="#f7f5f3"/>
<rect x="103.47" y="493.33" width="10.66" height="1.83" fill="#f3f5f6"/>
<rect x="113.52" y="493.33" width="10.66" height="1.83" fill="#f8f3f0"/>
<rect x="123.58" y="493.33" width="10.66" height="1.83" fill="#f9f0eb"/>
<rect x="133.63" y="493.33" width="10.66" height="1.83" fill="#fbe5d9"/>
<rect x="143.69" y="493.33" width="10.66" height="1.83" fill="#e6eff4"/>
<rect x="153.74" y="493.33" width="10.66" height="1.83" fill="#e3eef3"/>
<rect x="163.8" y="493.33" width="10.66" height="1.83" fill="#e9f0f4"/>
<rect x="173.86" y="493.33" width="10.66" height="1.83" fill="#d2e5f0"/>
<rect x="183.91" y="493.33" width="10.66" height="1.83" fill="#fbe3d4"/>
<rect x="193.97" y="493.33" width="10.66" height="1.83" fill="#ecf2f5"/>
<rect x="204.02" y="493.33" width="10.66" height="1.83" fill="#bfdceb"/>
<rect x="214.08" y="493.33" width="10.66" height="1.83" fill="#fcd3bc"/>
<rect x="224.13" y="493.33" width="10.66" height="1.83" fill="#e8f0f4"/>
<rect x="234.19" y="493.33" width="10.66" height="1.83" fill="#e4eef3"/>
<rect x="244.24" y="493.33" width="10.06" height="1.83" fill="#f6f7f7"/>
<rect x="73.3" y="494.67" width="10.66" height="1.83" fill="#fcd4be"/>
<rect x="83.36" y="494.67" width="10.66" height="1.83" fill="#f6f7f7"/>
<rect x="93.41" y="494.67" width="10.66" height="1.83" fill="#fbe5d8"/>
<rect x="103.47" y="494.67" width="10.66" height="1.83" fill="#dbeaf2"/>
<rect x="113.52" y="494.67" width="10.66" height="1.83" fill="#f9ece4"/>
<rect x="123.58" y="494.67" width="10.66" height="1.83" fill="#f7f7f6"/>
<rect x="133.63" y="494.67" width="10.66" height="1.83" fill="#fac8af"/>
<rect x="143.69" y="494.67" width="10.66" height="1.83" fill="#dfebf3"/>
<rect x="153.74" y="494.67" width="10.66" height="1.83" fill="#eef3f5"/>
<rect x="163.8" y="494.67" width="10.66" height="1.83" fill="#edf2f5"/>
<rect x="173.86" y="494.67" width="10.66" height="1.83" fill="#c6dfed"/>
<rect x="183.91" y="494.67" width="10.66" height="1.83" fill="#fcdfce"/>
<rect x="193.97" y="494.67" width="10.66" height="1.83" fill="#f0f4f6"/>
<rect x="204.02" y="494.67" width="10.66" height="1.83" fill="#eff3f5"/>
<rect x="214.08" y="494.67" width="10.66" height="1.83" fill="#fbd1ba"/>
<rect x="224.13" y="494.67" width="10.66" height="1.83" fill="#f8f4f3"/>
<rect x="234.19" y="494.67" width="10.66" height="1.83" fill="#f5f6f7"/>
<rect x="244.24" y="494.67" width="10.06" height="1.83" fill="#f9f0eb"/>
<rect x="73.3" y="496" width="10.66" height="1.83" fill="#e7eff4"/>
<rect x="83.36" y="496" width="10.66" height="1.83" fill="#e6eff4"/>
<rect x="93.41" y="496" width="10.66" height="1.83" fill="#f8f1ec"/>
<rect x="103.47" y="496" width="10.66" height="1.83" fill="#f7f5f4"/>
<rect x="113.52" y="496" width="10.66" height="1.83" fill="#d3e6f0"/>
<rect x="123.58" y="496" width="10.66" height="1.83" fill="#fbe4d6"/>
<rect x="133.63" y="496" width="10.66" height="1.83" fill="#e9f0f4"/>
<rect x="143.69" y="496" width="10.66" height="1.83" fill="#b5d7e8"/>
<rect x="153.74" y="496" width="10.66" height="1.83" fill="#d4e6f0"/>
<rect x="163.8" y="496" width="10.66" height="1.83" fill="#eaf1f5"/>
<rect x="173.86" y="496" width="10.66" height="1.83" fill="#e8f0f4"/>
<rect x="183.91" y="496" width="10.66" height="1.83" fill="#fcd4be"/>
<rect x="193.97" y="496" width="10.66" height="1.83" fill="#c9e1ee"/>
<rect x="204.02" y="496" width="10.66" height="1.83" fill="#eaf1f5"/>
<rect x="214.08" y="496" width="10.66" height="1.83" fill="#fbe5d9"/>
<rect x="224.13" y="496" width="10.66" height="1.83" fill="#d7e8f1"/>
<rect x="234.19" y="496" width="10.66" height="1.83" fill="#f5f6f7"/>
<rect x="244.24" y="496" width="10.06" height="1.83" fill="#ddebf2"/>
<rect x="73.3" y="497.33" width="10.66" height="1.83" fill="#f5f6f7"/>
<rect x="83.36" y="497.33" width="10.66" height="1.83" fill="#e5eff4"/>
<rect x="93.41" y="497.33" width="10.66" height="1.83" fill="#faeae0"/>
<rect x="103.47" y="497.33" width="10.66" height="1.83" fill="#f7f7f7"/>
<rect x="113.52" y="497.33" width="10.66" height="1.83" fill="#d2e5f0"/>
<rect x="123.58" y="497.33" width="10.66" height="1.83" fill="#f9ede6"/>
<rect x="133.63" y="497.33" width="10.66" height="1.83" fill="#f6f6f7"/>
<rect x="143.69" y="497.33" width="10.66" height="1.83" fill="#e6eff4"/>
<rect x="153.74" y="497.33" width="10.66" height="1.83" fill="#d8e8f1"/>
<rect x="163.8" y="497.33" width="10.66" height="1.83" fill="#faeae0"/>
<rect x="173.86" y="497.33" width="10.66" height="1.83" fill="#dfecf3"/>
<rect x="183.91" y="497.33" width="10.66" height="1.83" fill="#fcd4be"/>
<rect x="193.97" y="497.33" width="10.66" height="1.83" fill="#bcdaea"/>
<rect x="204.02" y="497.33" width="10.66" height="1.83" fill="#e8f0f4"/>
<rect x="214.08" y="497.33" width="10.66" height="1.83" fill="#fcd3bd"/>
<rect x="224.13" y="497.33" width="10.66" height="1.83" fill="#e0ecf3"/>
<rect x="234.19" y="497.33" width="10.66" height="1.83" fill="#f9efe9"/>
<rect x="244.24" y="497.33" width="10.06" height="1.83" fill="#ebf1f5"/>
<rect x="73.3" y="498.67" width="10.66" height="1.83" fill="#eff3f6"/>
<rect x="83.36" y="498.67" width="10.66" height="1.83" fill="#ebf1f5"/>
<rect x="93.41" y="498.67" width="10.66" height="1.83" fill="#f8f1ed"/>
<rect x="103.47" y="498.67" width="10.66" height="1.83" fill="#f3f5f6"/>
<rect x="113.52" y="498.67" width="10.66" height="1.83" fill="#e5eef4"/>
<rect x="123.58" y="498.67" width="10.66" height="1.83" fill="#f9ede7"/>
<rect x="133.63" y="498.67" width="10.66" height="1.83" fill="#f0f3f6"/>
<rect x="143.69" y="498.67" width="10.66" height="1.83" fill="#deebf2"/>
<rect x="153.74" y="498.67" width="10.66" height="1.83" fill="#d5e7f1"/>
<rect x="163.8" y="498.67" width="10.66" height="1.83" fill="#f9ece4"/>
<rect x="173.86" y="498.67" width="10.66" height="1.83" fill="#b8d8e9"/>
<rect x="183.91" y="498.67" width="10.66" height="1.83" fill="#f9efea"/>
<rect x="193.97" y="498.67" width="10.66" height="1.83" fill="#d5e7f1"/>
<rect x="204.02" y="498.67" width="10.66" height="1.83" fill="#dbeaf2"/>
<rect x="214.08" y="498.67" width="10.66" height="1.83" fill="#fbe5d8"/>
<rect x="224.13" y="498.67" width="10.66" height="1.83" fill="#eaf1f5"/>
<rect x="234.19" y="498.67" width="10.66" height="1.83" fill="#f5f6f7"/>
<rect x="244.24" y="498.67" width="10.06" height="1.83" fill="#f1f4f6"/>
<rect x="73.3" y="500" width="10.66" height="1.83" fill="#fae7dc"/>
<rect x="83.36" y="500" width="10.66" height="1.83" fill="#f9eee8"/>
<rect x="93.41" y="500" width="10.66" height="1.83" fill="#fbcfb8"/>
<rect x="103.47" y="500" width="10.66" height="1.83" fill="#fdddcb"/>
<rect x="113.52" y="500" width="10.66" height="1.83" fill="#fce1d1"/>
<rect x="123.58" y="500" width="10.66" height="1.83" fill="#f4f6f7"/>
<rect x="133.63" y="500" width="10.66" height="1.83" fill="#e1edf3"/>
<rect x="143.69" y="500" width="10.66" height="1.83" fill="#fbd0b9"/>
<rect x="153.74" y="500" width="10.66" height="1.83" fill="#f7f5f4"/>
<rect x="163.8" y="500" width="10.66" height="1.83" fill="#f19d7c"/>
<rect x="173.86" y="500" width="10.66" height="1.83" fill="#fbe5d8"/>
<rect x="183.91" y="500" width="10.66" height="1.83" fill="#ddebf2"/>
<rect x="193.97" y="500" width="10.66" height="1.83" fill="#cbe2ee"/>
<rect x="204.02" y="500" width="10.66" height="1.83" fill="#b1d5e7"/>
<rect x="214.08" y="500" width="10.66" height="1.83" fill="#e2edf3"/>
<rect x="224.13" y="500" width="10.66" height="1.83" fill="#8dc2dc"/>
<rect x="234.19" y="500" width="10.66" height="1.83" fill="#f2f5f6"/>
<rect x="244.24" y="500" width="10.06" height="1.83" fill="#dfebf3"/>
<rect x="73.3" y="501.33" width="10.66" height="1.83" fill="#facbb2"/>
<rect x="83.36" y="501.33" width="10.66" height="1.83" fill="#f9eee8"/>
<rect x="93.41" y="501.33" width="10.66" height="1.83" fill="#fbe7db"/>
<rect x="103.47" y="501.33" width="10.66" height="1.83" fill="#fcd3bd"/>
<rect x="113.52" y="501.33" width="10.66" height="1.83" fill="#fcdfce"/>
<rect x="123.58" y="501.33" width="10.66" height="1.83" fill="#f8f3f0"/>
<rect x="133.63" y="501.33" width="10.66" height="1.83" fill="#d8e9f1"/>
<rect x="143.69" y="501.33" width="10.66" height="1.83" fill="#f9eee8"/>
<rect x="153.74" y="501.33" width="10.66" height="1.83" fill="#fae7db"/>
<rect x="163.8" y="501.33" width="10.66" height="1.83" fill="#ef9979"/>
<rect x="173.86" y="501.33" width="10.66" height="1.83" fill="#fddcc9"/>
<rect x="183.91" y="501.33" width="10.66" height="1.83" fill="#cae1ee"/>
<rect x="193.97" y="501.33" width="10.66" height="1.83" fill="#bedbeb"/>
<rect x="204.02" y="501.33" width="10.66" height="1.83" fill="#a9d1e4"/>
<rect x="214.08" y="501.33" width="10.66" height="1.83" fill="#f7f7f7"/>
<rect x="224.13" y="501.33" width="10.66" height="1.83" fill="#d7e8f1"/>
<rect x="234.19" y="501.33" width="10.66" height="1.83" fill="#dbeaf2"/>
<rect x="244.24" y="501.33" width="10.06" height="1.83" fill="#f8f3f0"/>
<rect x="73.3" y="502.67" width="10.66" height="1.83" fill="#fac8af"/>
<rect x="83.36" y="502.67" width="10.66" height="1.83" fill="#fae7db"/>
<rect x="93.41" y="502.67" width="10.66" height="1.83" fill="#f9c2a7"/>
<rect x="103.47" y="502.67" width="10.66" height="1.83" fill="#f9c3a8"/>
<rect x="113.52" y="502.67" width="10.66" height="1.83" fill="#fbceb6"/>
<rect x="123.58" y="502.67" width="10.66" height="1.83" fill="#f7f5f4"/>
<rect x="133.63" y="502.67" width="10.66" height="1.83" fill="#f1f4f6"/>
<rect x="143.69" y="502.67" width="10.66" height="1.83" fill="#fbe3d4"/>
<rect x="153.74" y="502.67" width="10.66" height="1.83" fill="#fddac6"/>
<rect x="163.8" y="502.67" width="10.66" height="1.83" fill="#f5ab8a"/>
<rect x="173.86" y="502.67" width="10.66" height="1.83" fill="#fcdecc"/>
<rect x="183.91" y="502.67" width="10.66" height="1.83" fill="#ebf1f5"/>
<rect x="193.97" y="502.67" width="10.66" height="1.83" fill="#dfecf3"/>
<rect x="204.02" y="502.67" width="10.66" height="1.83" fill="#d4e7f1"/>
<rect x="214.08" y="502.67" width="10.66" height="1.83" fill="#f1f4f6"/>
<rect x="224.13" y="502.67" width="10.66" height="1.83" fill="#b7d8e8"/>
<rect x="234.19" y="502.67" width="10.66" height="1.83" fill="#f9efea"/>
<rect x="244.24" y="502.67" width="10.06" height="1.83" fill="#e3eef3"/>
<rect x="73.3" y="504" width="10.66" height="1.83" fill="#c7e0ed"/>
<rect x="83.36" y="504" width="10.66" height="1.83" fill="#f7f6f5"/>
<rect x="93.41" y="504" width="10.66" height="1.83" fill="#deebf2"/>
<rect x="103.47" y="504" width="10.66" height="1.83" fill="#faeae1"/>
<rect x="113.52" y="504" width="10.66" height="1.83" fill="#f19f7d"/>
<rect x="123.58" y="504" width="10.66" height="1.83" fill="#f8ba9d"/>
<rect x="133.63" y="504" width="10.66" height="1.83" fill="#e0775f"/>
<rect x="143.69" y="504" width="10.66" height="1.83" fill="#6fafd2"/>
<rect x="153.74" y="504" width="10.66" height="1.83" fill="#e6eff4"/>
<rect x="163.8" y="504" width="10.66" height="1.83" fill="#f5ab8a"/>
<rect x="173.86" y="504" width="10.66" height="1.83" fill="#b6d7e8"/>
<rect x="183.91" y="504" width="10.66" height="1.83" fill="#f8f1ed"/>
<rect x="193.97" y="504" width="10.66" height="1.83" fill="#d1e5f0"/>
<rect x="204.02" y="504" width="10.66" height="1.83" fill="#73b2d4"/>
<rect x="214.08" y="504" width="10.66" height="1.83" fill="#d9e9f1"/>
<rect x="224.13" y="504" width="10.66" height="1.83" fill="#4896c5"/>
<rect x="234.19" y="504" width="10.66" height="1.83" fill="#f4a683"/>
<rect x="244.24" y="504" width="10.06" height="1.83" fill="#d4e6f1"/>
<rect x="73.3" y="505.33" width="10.66" height="1.83" fill="#b2d5e7"/>
<rect x="83.36" y="505.33" width="10.66" height="1.83" fill="#e6eff4"/>
<rect x="93.41" y="505.33" width="10.66" height="1.83" fill="#d8e9f1"/>
<rect x="103.47" y="505.33" width="10.66" height="1.83" fill="#fce2d3"/>
<rect x="113.52" y="505.33" width="10.66" height="1.83" fill="#dc6e58"/>
<rect x="123.58" y="505.33" width="10.66" height="1.83" fill="#f9c3a8"/>
<rect x="133.63" y="505.33" width="10.66" height="1.83" fill="#e68569"/>
<rect x="143.69" y="505.33" width="10.66" height="1.83" fill="#4493c3"/>
<rect x="153.74" y="505.33" width="10.66" height="1.83" fill="#e3edf3"/>
<rect x="163.8" y="505.33" width="10.66" height="1.83" fill="#f9c5ab"/>
<rect x="173.86" y="505.33" width="10.66" height="1.83" fill="#c5dfed"/>
<rect x="183.91" y="505.33" width="10.66" height="1.83" fill="#edf2f5"/>
<rect x="193.97" y="505.33" width="10.66" height="1.83" fill="#c4deec"/>
<rect x="204.02" y="505.33" width="10.66" height="1.83" fill="#afd4e6"/>
<rect x="214.08" y="505.33" width="10.66" height="1.83" fill="#a3cee3"/>
<rect x="224.13" y="505.33" width="10.66" height="1.83" fill="#3e8cc0"/>
<rect x="234.19" y="505.33" width="10.66" height="1.83" fill="#facab2"/>
<rect x="244.24" y="505.33" width="10.06" height="1.83" fill="#deebf2"/>
<rect x="73.3" y="506.67" width="10.66" height="1.83" fill="#e4eef4"/>
<rect x="83.36" y="506.67" width="10.66" height="1.83" fill="#e9f0f4"/>
<rect x="93.41" y="506.67" width="10.66" height="1.83" fill="#cce3ef"/>
<rect x="103.47" y="506.67" width="10.66" height="1.83" fill="#fce1d2"/>
<rect x="113.52" y="506.67" width="10.66" height="1.83" fill="#f2a17f"/>
<rect x="123.58" y="506.67" width="10.66" height="1.83" fill="#f6b393"/>
<rect x="133.63" y="506.67" width="10.66" height="1.83" fill="#ee9878"/>
<rect x="143.69" y="506.67" width="10.66" height="1.83" fill="#4594c4"/>
<rect x="153.74" y="506.67" width="10.66" height="1.83" fill="#ebf1f5"/>
<rect x="163.8" y="506.67" width="10.66" height="1.83" fill="#e17a61"/>
<rect x="173.86" y="506.67" width="10.66" height="1.83" fill="#c6e0ed"/>
<rect x="183.91" y="506.67" width="10.66" height="1.83" fill="#f7f6f6"/>
<rect x="193.97" y="506.67" width="10.66" height="1.83" fill="#deebf2"/>
<rect x="204.02" y="506.67" width="10.66" height="1.83" fill="#bddbea"/>
<rect x="214.08" y="506.67" width="10.66" height="1.83" fill="#c9e1ee"/>
<rect x="224.13" y="506.67" width="10.66" height="1.83" fill="#4494c3"/>
<rect x="234.19" y="506.67" width="10.66" height="1.83" fill="#f7ba9d"/>
<rect x="244.24" y="506.67" width="10.06" height="1.83" fill="#e2edf3"/>
<rect x="73.3" y="508" width="10.66" height="1.83" fill="#e9f0f4"/>
<rect x="83.36" y="508" width="10.66" height="1.83" fill="#fce1d1"/>
<rect x="93.41" y="508" width="10.66" height="1.83" fill="#e7eff4"/>
<rect x="103.47" y="508" width="10.66" height="1.83" fill="#f19e7d"/>
<rect x="113.52" y="508" width="10.66" height="1.83" fill="#fbe3d4"/>
<rect x="123.58" y="508" width="10.66" height="1.83" fill="#fae8de"/>
<rect x="133.63" y="508" width="10.66" height="1.83" fill="#df765e"/>
<rect x="143.69" y="508" width="10.66" height="1.83" fill="#dceaf2"/>
<rect x="153.74" y="508" width="10.66" height="1.83" fill="#e1ecf3"/>
<rect x="163.8" y="508" width="10.66" height="1.83" fill="#e7eff4"/>
<rect x="173.86" y="508" width="10.66" height="1.83" fill="#eff3f6"/>
<rect x="183.91" y="508" width="10.66" height="1.83" fill="#c3deec"/>
<rect x="193.97" y="508" width="10.66" height="1.83" fill="#deebf2"/>
<rect x="204.02" y="508" width="10.66" height="1.83" fill="#e3eef3"/>
<rect x="214.08" y="508" width="10.66" height="1.83" fill="#92c5de"/>
<rect x="224.13" y="508" width="10.66" height="1.83" fill="#d3e6f0"/>
<rect x="234.19" y="508" width="10.66" height="1.83" fill="#fddcc9"/>
<rect x="244.24" y="508" width="10.06" height="1.83" fill="#7eb8d7"/>
<rect x="73.3" y="509.33" width="10.66" height="1.83" fill="#e3eef3"/>
<rect x="83.36" y="509.33" width="10.66" height="1.83" fill="#f4a784"/>
<rect x="93.41" y="509.33" width="10.66" height="1.83" fill="#f6f6f7"/>
<rect x="103.47" y="509.33" width="10.66" height="1.83" fill="#ef9878"/>
<rect x="113.52" y="509.33" width="10.66" height="1.83" fill="#f9c4aa"/>
<rect x="123.58" y="509.33" width="10.66" height="1.83" fill="#fae8dd"/>
<rect x="133.63" y="509.33" width="10.66" height="1.83" fill="#d05447"/>
<rect x="143.69" y="509.33" width="10.66" height="1.83" fill="#f4f5f6"/>
<rect x="153.74" y="509.33" width="10.66" height="1.83" fill="#e4eef3"/>
<rect x="163.8" y="509.33" width="10.66" height="1.83" fill="#d7e8f1"/>
<rect x="173.86" y="509.33" width="10.66" height="1.83" fill="#eef3f5"/>
<rect x="183.91" y="509.33" width="10.66" height="1.83" fill="#a8d0e4"/>
<rect x="193.97" y="509.33" width="10.66" height="1.83" fill="#f8f2ef"/>
<rect x="204.02" y="509.33" width="10.66" height="1.83" fill="#cee3ef"/>
<rect x="214.08" y="509.33" width="10.66" height="1.83" fill="#75b2d4"/>
<rect x="224.13" y="509.33" width="10.66" height="1.83" fill="#d1e5f0"/>
<rect x="234.19" y="509.33" width="10.66" height="1.83" fill="#facab2"/>
<rect x="244.24" y="509.33" width="10.06" height="1.83" fill="#85bdda"/>
<rect x="73.3" y="510.67" width="10.66" height="1.83" fill="#e2edf3"/>
<rect x="83.36" y="510.67" width="10.66" height="1.83" fill="#f7b496"/>
<rect x="93.41" y="510.67" width="10.66" height="1.83" fill="#f8f3f1"/>
<rect x="103.47" y="510.67" width="10.66" height="1.83" fill="#ec9374"/>
<rect x="113.52" y="510.67" width="10.66" height="1.83" fill="#faebe3"/>
<rect x="123.58" y="510.67" width="10.66" height="1.83" fill="#f1f4f6"/>
<rect x="133.63" y="510.67" width="10.66" height="1.83" fill="#e98d6f"/>
<rect x="143.69" y="510.67" width="10.66" height="1.83" fill="#c6e0ed"/>
<rect x="153.74" y="510.67" width="10.66" height="1.83" fill="#e6eff4"/>
<rect x="163.8" y="510.67" width="10.66" height="1.83" fill="#bcdaea"/>
<rect x="173.86" y="510.67" width="10.66" height="1.83" fill="#dfebf2"/>
<rect x="183.91" y="510.67" width="10.66" height="1.83" fill="#a9d1e4"/>
<rect x="193.97" y="510.67" width="10.66" height="1.83" fill="#ebf1f5"/>
<rect x="204.02" y="510.67" width="10.66" height="1.83" fill="#e2edf3"/>
<rect x="214.08" y="510.67" width="10.66" height="1.83" fill="#3c8abe"/>
<rect x="224.13" y="510.67" width="10.66" height="1.83" fill="#bfdceb"/>
<rect x="234.19" y="510.67" width="10.66" height="1.83" fill="#faebe3"/>
<rect x="244.24" y="510.67" width="10.06" height="1.83" fill="#7fb9d7"/>
<rect x="73.3" y="512" width="10.66" height="1.83" fill="#add3e6"/>
<rect x="83.36" y="512" width="10.66" height="1.83" fill="#f9f0ea"/>
<rect x="93.41" y="512" width="10.66" height="1.83" fill="#a9d1e5"/>
<rect x="103.47" y="512" width="10.66" height="1.83" fill="#f1f4f6"/>
<rect x="113.52" y="512" width="10.66" height="1.83" fill="#fae7dc"/>
<rect x="123.58" y="512" width="10.66" height="1.83" fill="#f9c5ab"/>
<rect x="133.63" y="512" width="10.66" height="1.83" fill="#f6b394"/>
<rect x="143.69" y="512" width="10.66" height="1.83" fill="#dbeaf2"/>
<rect x="153.74" y="512" width="10.66" height="1.83" fill="#c9e1ee"/>
<rect x="163.8" y="512" width="10.66" height="1.83" fill="#fae8de"/>
<rect x="173.86" y="512" width="10.66" height="1.83" fill="#f8f4f2"/>
<rect x="183.91" y="512" width="10.66" height="1.83" fill="#b72230"/>
<rect x="193.97" y="512" width="10.66" height="1.83" fill="#dfecf3"/>
<rect x="204.02" y="512" width="10.66" height="1.83" fill="#f3f5f6"/>
<rect x="214.08" y="512" width="10.66" height="1.83" fill="#dfecf3"/>
<rect x="224.13" y="512" width="10.66" height="1.83" fill="#e3eef3"/>
<rect x="234.19" y="512" width="10.66" height="1.83" fill="#dfecf3"/>
<rect x="244.24" y="512" width="10.06" height="1.83" fill="#d8e8f1"/>
<rect x="73.3" y="513.33" width="10.66" height="1.83" fill="#68abd0"/>
<rect x="83.36" y="513.33" width="10.66" height="1.83" fill="#f9efe9"/>
<rect x="93.41" y="513.33" width="10.66" height="1.83" fill="#94c6de"/>
<rect x="103.47" y="513.33" width="10.66" height="1.83" fill="#ecf2f5"/>
<rect x="113.52" y="513.33" width="10.66" height="1.83" fill="#fddcc8"/>
<rect x="123.58" y="513.33" width="10.66" height="1.83" fill="#f9c2a7"/>
<rect x="133.63" y="513.33" width="10.66" height="1.83" fill="#ec9375"/>
<rect x="143.69" y="513.33" width="10.66" height="1.83" fill="#e7eff4"/>
<rect x="153.74" y="513.33" width="10.66" height="1.83" fill="#c0dceb"/>
<rect x="163.8" y="513.33" width="10.66" height="1.83" fill="#f9ece4"/>
<rect x="173.86" y="513.33" width="10.66" height="1.83" fill="#e0ecf3"/>
<rect x="183.91" y="513.33" width="10.66" height="1.83" fill="#bf3237"/>
<rect x="193.97" y="513.33" width="10.66" height="1.83" fill="#eff3f6"/>
<rect x="204.02" y="513.33" width="10.66" height="1.83" fill="#f7f6f6"/>
<rect x="214.08" y="513.33" width="10.66" height="1.83" fill="#b9d9e9"/>
<rect x="224.13" y="513.33" width="10.66" height="1.83" fill="#f0f3f6"/>
<rect x="234.19" y="513.33" width="10.66" height="1.83" fill="#d2e5f0"/>
<rect x="244.24" y="513.33" width="10.06" height="1.83" fill="#ebf1f5"/>
<rect x="73.3" y="514.67" width="10.66" height="1.83" fill="#7eb8d7"/>
<rect x="83.36" y="514.67" width="10.66" height="1.83" fill="#f9efe9"/>
<rect x="93.41" y="514.67" width="10.66" height="1.83" fill="#cee3ef"/>
<rect x="103.47" y="514.67" width="10.66" height="1.83" fill="#faebe2"/>
<rect x="113.52" y="514.67" width="10.66" height="1.83" fill="#fddcca"/>
<rect x="123.58" y="514.67" width="10.66" height="1.83" fill="#fbd2bb"/>
<rect x="133.63" y="514.67" width="10.66" height="1.83" fill="#e37f65"/>
<rect x="143.69" y="514.67" width="10.66" height="1.83" fill="#fae7dc"/>
<rect x="153.74" y="514.67" width="10.66" height="1.83" fill="#a9d1e5"/>
<rect x="163.8" y="514.67" width="10.66" height="1.83" fill="#fbe5d8"/>
<rect x="173.86" y="514.67" width="10.66" height="1.83" fill="#eff3f6"/>
<rect x="183.91" y="514.67" width="10.66" height="1.83" fill="#c03338"/>
<rect x="193.97" y="514.67" width="10.66" height="1.83" fill="#eef3f5"/>
<rect x="204.02" y="514.67" width="10.66" height="1.83" fill="#f8f1ec"/>
<rect x="214.08" y="514.67" width="10.66" height="1.83" fill="#d1e5f0"/>
<rect x="224.13" y="514.67" width="10.66" height="1.83" fill="#e7f0f4"/>
<rect x="234.19" y="514.67" width="10.66" height="1.83" fill="#f8f3f0"/>
<rect x="244.24" y="514.67" width="10.06" height="1.83" fill="#e1edf3"/>
<rect x="73.3" y="516" width="10.66" height="1.83" fill="#e37d63"/>
<rect x="83.36" y="516" width="10.66" height="1.83" fill="#e5eef4"/>
<rect x="93.41" y="516" width="10.66" height="1.83" fill="#f3a481"/>
<rect x="103.47" y="516" width="10.66" height="1.83" fill="#edf2f5"/>
<rect x="113.52" y="516" width="10.66" height="1.83" fill="#fce1d2"/>
<rect x="123.58" y="516" width="10.66" height="1.83" fill="#fdd9c4"/>
<rect x="133.63" y="516" width="10.66" height="1.83" fill="#fcd3bd"/>
<rect x="143.69" y="516" width="10.66" height="1.83" fill="#f2f4f6"/>
<rect x="153.74" y="516" width="10.66" height="1.83" fill="#fbe5d8"/>
<rect x="163.8" y="516" width="10.66" height="1.83" fill="#fbceb6"/>
<rect x="173.86" y="516" width="10.66" height="1.83" fill="#e0ecf3"/>
<rect x="183.91" y="516" width="10.66" height="1.83" fill="#fae7dc"/>
<rect x="193.97" y="516" width="10.66" height="1.83" fill="#f8f1ed"/>
<rect x="204.02" y="516" width="10.66" height="1.83" fill="#ddebf2"/>
<rect x="214.08" y="516" width="10.66" height="1.83" fill="#a4cee3"/>
<rect x="224.13" y="516" width="10.66" height="1.83" fill="#edf2f5"/>
<rect x="234.19" y="516" width="10.66" height="1.83" fill="#c1ddeb"/>
<rect x="244.24" y="516" width="10.06" height="1.83" fill="#3985bc"/>
<rect x="73.3" y="517.33" width="10.66" height="1.83" fill="#de725b"/>
<rect x="83.36" y="517.33" width="10.66" height="1.83" fill="#e0ecf3"/>
<rect x="93.41" y="517.33" width="10.66" height="1.83" fill="#f9c1a6"/>
<rect x="103.47" y="517.33" width="10.66" height="1.83" fill="#f3f5f6"/>
<rect x="113.52" y="517.33" width="10.66" height="1.83" fill="#fbcdb5"/>
<rect x="123.58" y="517.33" width="10.66" height="1.83" fill="#fbd0b9"/>
<rect x="133.63" y="517.33" width="10.66" height="1.83" fill="#fcd4be"/>
<rect x="143.69" y="517.33" width="10.66" height="1.83" fill="#eff3f6"/>
<rect x="153.74" y="517.33" width="10.66" height="1.83" fill="#fbcfb8"/>
<rect x="163.8" y="517.33" width="10.66" height="1.83" fill="#df745d"/>
<rect x="173.86" y="517.33" width="10.66" height="1.83" fill="#e6eff4"/>
<rect x="183.91" y="517.33" width="10.66" height="1.83" fill="#f9f0eb"/>
<rect x="193.97" y="517.33" width="10.66" height="1.83" fill="#f9ede6"/>
<rect x="204.02" y="517.33" width="10.66" height="1.83" fill="#e6eff4"/>
<rect x="214.08" y="517.33" width="10.66" height="1.83" fill="#c9e1ee"/>
<rect x="224.13" y="517.33" width="10.66" height="1.83" fill="#e3eef3"/>
<rect x="234.19" y="517.33" width="10.66" height="1.83" fill="#97c7df"/>
<rect x="244.24" y="517.33" width="10.06" height="1.83" fill="#6cadd1"/>
<rect x="73.3" y="518.67" width="10.66" height="1.83" fill="#e98c6f"/>
<rect x="83.36" y="518.67" width="10.66" height="1.83" fill="#d9e9f1"/>
<rect x="93.41" y="518.67" width="10.66" height="1.83" fill="#fce2d3"/>
<rect x="103.47" y="518.67" width="10.66" height="1.83" fill="#d7e8f1"/>
<rect x="113.52" y="518.67" width="10.66" height="1.83" fill="#fbe4d6"/>
<rect x="123.58" y="518.67" width="10.66" height="1.83" fill="#faeae0"/>
<rect x="133.63" y="518.67" width="10.66" height="1.83" fill="#f9efe9"/>
<rect x="143.69" y="518.67" width="10.66" height="1.83" fill="#f1f4f6"/>
<rect x="153.74" y="518.67" width="10.66" height="1.83" fill="#f9eee7"/>
<rect x="163.8" y="518.67" width="10.66" height="1.83" fill="#f8c0a4"/>
<rect x="173.86" y="518.67" width="10.66" height="1.83" fill="#e0ecf3"/>
<rect x="183.91" y="518.67" width="10.66" height="1.83" fill="#f6f6f7"/>
<rect x="193.97" y="518.67" width="10.66" height="1.83" fill="#fbe6db"/>
<rect x="204.02" y="518.67" width="10.66" height="1.83" fill="#e8f0f4"/>
<rect x="214.08" y="518.67" width="10.66" height="1.83" fill="#e0ecf3"/>
<rect x="224.13" y="518.67" width="10.66" height="1.83" fill="#e1ecf3"/>
<rect x="234.19" y="518.67" width="10.66" height="1.83" fill="#7eb9d7"/>
<rect x="244.24" y="518.67" width="10.06" height="1.83" fill="#3985bc"/>
<rect x="73.3" y="520" width="10.66" height="1.83" fill="#f2f5f6"/>
<rect x="83.36" y="520" width="10.66" height="1.83" fill="#f2a17f"/>
<rect x="93.41" y="520" width="10.66" height="1.83" fill="#dceaf2"/>
<rect x="103.47" y="520" width="10.66" height="1.83" fill="#d86450"/>
<rect x="113.52" y="520" width="10.66" height="1.83" fill="#f8f3f0"/>
<rect x="123.58" y="520" width="10.66" height="1.83" fill="#fbd0ba"/>
<rect x="133.63" y="520" width="10.66" height="1.83" fill="#fcd5c0"/>
<rect x="143.69" y="520" width="10.66" height="1.83" fill="#f9ebe3"/>
<rect x="153.74" y="520" width="10.66" height="1.83" fill="#f8f4f2"/>
<rect x="163.8" y="520" width="10.66" height="1.83" fill="#f9ede6"/>
<rect x="173.86" y="520" width="10.66" height="1.83" fill="#faeae1"/>
<rect x="183.91" y="520" width="10.66" height="1.83" fill="#e6eff4"/>
<rect x="193.97" y="520" width="10.66" height="1.83" fill="#509bc7"/>
<rect x="204.02" y="520" width="10.66" height="1.83" fill="#fbe3d5"/>
<rect x="214.08" y="520" width="10.66" height="1.83" fill="#8fc3dd"/>
<rect x="224.13" y="520" width="10.66" height="1.83" fill="#f7f7f7"/>
<rect x="234.19" y="520" width="10.66" height="1.83" fill="#f9efea"/>
<rect x="244.24" y="520" width="10.06" height="1.83" fill="#c5dfec"/>
<rect x="73.3" y="521.33" width="10.66" height="1.83" fill="#fce2d3"/>
<rect x="83.36" y="521.33" width="10.66" height="1.83" fill="#f8ba9d"/>
<rect x="93.41" y="521.33" width="10.66" height="1.83" fill="#f0f4f6"/>
<rect x="103.47" y="521.33" width="10.66" height="1.83" fill="#e48167"/>
<rect x="113.52" y="521.33" width="10.66" height="1.83" fill="#f8f2ef"/>
<rect x="123.58" y="521.33" width="10.66" height="1.83" fill="#fbe4d6"/>
<rect x="133.63" y="521.33" width="10.66" height="1.83" fill="#fac7ae"/>
<rect x="143.69" y="521.33" width="10.66" height="1.83" fill="#eff3f6"/>
<rect x="153.74" y="521.33" width="10.66" height="1.83" fill="#faebe3"/>
<rect x="163.8" y="521.33" width="10.66" height="1.83" fill="#fae7dc"/>
<rect x="173.86" y="521.33" width="10.66" height="1.83" fill="#fcdecb"/>
<rect x="183.91" y="521.33" width="10.66" height="1.83" fill="#f1f4f6"/>
<rect x="193.97" y="521.33" width="10.66" height="1.83" fill="#66a9cf"/>
<rect x="204.02" y="521.33" width="10.66" height="1.83" fill="#fbe6da"/>
<rect x="214.08" y="521.33" width="10.66" height="1.83" fill="#bddbea"/>
<rect x="224.13" y="521.33" width="10.66" height="1.83" fill="#ebf1f5"/>
<rect x="234.19" y="521.33" width="10.66" height="1.83" fill="#ebf1f5"/>
<rect x="244.24" y="521.33" width="10.06" height="1.83" fill="#e0ecf3"/>
<rect x="73.3" y="522.67" width="10.66" height="1.83" fill="#eaf1f5"/>
<rect x="83.36" y="522.67" width="10.66" height="1.83" fill="#ef9979"/>
<rect x="93.41" y="522.67" width="10.66" height="1.83" fill="#ebf1f5"/>
<rect x="103.47" y="522.67" width="10.66" height="1.83" fill="#e07860"/>
<rect x="113.52" y="522.67" width="10.66" height="1.83" fill="#eef3f5"/>
<rect x="123.58" y="522.67" width="10.66" height="1.83" fill="#fbe5d8"/>
<rect x="133.63" y="522.67" width="10.66" height="1.83" fill="#fae9df"/>
<rect x="143.69" y="522.67" width="10.66" height="1.83" fill="#f8f2ef"/>
<rect x="153.74" y="522.67" width="10.66" height="1.83" fill="#f8f3f1"/>
<rect x="163.8" y="522.67" width="10.66" height="1.83" fill="#f9ece3"/>
<rect x="173.86" y="522.67" width="10.66" height="1.83" fill="#f8f0eb"/>
<rect x="183.91" y="522.67" width="10.66" height="1.83" fill="#ecf2f5"/>
<rect x="193.97" y="522.67" width="10.66" height="1.83" fill="#a3cee3"/>
<rect x="204.02" y="522.67" width="10.66" height="1.83" fill="#faeae1"/>
<rect x="214.08" y="522.67" width="10.66" height="1.83" fill="#bedbeb"/>
<rect x="224.13" y="522.67" width="10.66" height="1.83" fill="#f7f5f4"/>
<rect x="234.19" y="522.67" width="10.66" height="1.83" fill="#dae9f2"/>
<rect x="244.24" y="522.67" width="10.06" height="1.83" fill="#c9e1ee"/>
<rect x="73.3" y="524" width="10.66" height="1.83" fill="#deebf2"/>
<rect x="83.36" y="524" width="10.66" height="1.83" fill="#fdddca"/>
<rect x="93.41" y="524" width="10.66" height="1.83" fill="#dceaf2"/>
<rect x="103.47" y="524" width="10.66" height="1.83" fill="#fae8dd"/>
<rect x="113.52" y="524" width="10.66" height="1.83" fill="#f8f4f2"/>
<rect x="123.58" y="524" width="10.66" height="1.83" fill="#fbe3d5"/>
<rect x="133.63" y="524" width="10.66" height="1.83" fill="#fce1d1"/>
<rect x="143.69" y="524" width="10.66" height="1.83" fill="#e2edf3"/>
<rect x="153.74" y="524" width="10.66" height="1.83" fill="#e5eff4"/>
<rect x="163.8" y="524" width="10.66" height="1.83" fill="#deebf2"/>
<rect x="173.86" y="524" width="10.66" height="1.83" fill="#f8f2ef"/>
<rect x="183.91" y="524" width="10.66" height="1.83" fill="#deebf2"/>
<rect x="193.97" y="524" width="10.66" height="1.83" fill="#f7f7f6"/>
<rect x="204.02" y="524" width="10.66" height="1.83" fill="#fce1d1"/>
<rect x="214.08" y="524" width="10.66" height="1.83" fill="#b4d6e8"/>
<rect x="224.13" y="524" width="10.66" height="1.83" fill="#e9f0f4"/>
<rect x="234.19" y="524" width="10.66" height="1.83" fill="#cfe4f0"/>
<rect x="244.24" y="524" width="10.06" height="1.83" fill="#cbe2ee"/>
<rect x="73.3" y="525.33" width="10.66" height="1.83" fill="#e1edf3"/>
<rect x="83.36" y="525.33" width="10.66" height="1.83" fill="#f8bfa3"/>
<rect x="93.41" y="525.33" width="10.66" height="1.83" fill="#e7eff4"/>
<rect x="103.47" y="525.33" width="10.66" height="1.83" fill="#fbe5d8"/>
<rect x="113.52" y="525.33" width="10.66" height="1.83" fill="#fcd3bd"/>
<rect x="123.58" y="525.33" width="10.66" height="1.83" fill="#f8bda1"/>
<rect x="133.63" y="525.33" width="10.66" height="1.83" fill="#fcd5bf"/>
<rect x="143.69" y="525.33" width="10.66" height="1.83" fill="#ecf2f5"/>
<rect x="153.74" y="525.33" width="10.66" height="1.83" fill="#edf2f5"/>
<rect x="163.8" y="525.33" width="10.66" height="1.83" fill="#eff3f6"/>
<rect x="173.86" y="525.33" width="10.66" height="1.83" fill="#f9f0eb"/>
<rect x="183.91" y="525.33" width="10.66" height="1.83" fill="#f6f7f7"/>
<rect x="193.97" y="525.33" width="10.66" height="1.83" fill="#eff3f6"/>
<rect x="204.02" y="525.33" width="10.66" height="1.83" fill="#fcd7c1"/>
<rect x="214.08" y="525.33" width="10.66" height="1.83" fill="#c9e1ee"/>
<rect x="224.13" y="525.33" width="10.66" height="1.83" fill="#f8f1ed"/>
<rect x="234.19" y="525.33" width="10.66" height="1.83" fill="#d5e7f1"/>
<rect x="244.24" y="525.33" width="10.06" height="1.83" fill="#eaf1f5"/>
<rect x="73.3" y="526.67" width="10.66" height="1.83" fill="#d8e8f1"/>
<rect x="83.36" y="526.67" width="10.66" height="1.83" fill="#f8ba9d"/>
<rect x="93.41" y="526.67" width="10.66" height="1.83" fill="#f7f5f4"/>
<rect x="103.47" y="526.67" width="10.66" height="1.83" fill="#fbd1bb"/>
<rect x="113.52" y="526.67" width="10.66" height="1.83" fill="#fbe3d4"/>
<rect x="123.58" y="526.67" width="10.66" height="1.83" fill="#fcd7c1"/>
<rect x="133.63" y="526.67" width="10.66" height="1.83" fill="#fbe3d6"/>
<rect x="143.69" y="526.67" width="10.66" height="1.83" fill="#eff3f6"/>
<rect x="153.74" y="526.67" width="10.66" height="1.83" fill="#f7f6f5"/>
<rect x="163.8" y="526.67" width="10.66" height="1.83" fill="#f6f7f7"/>
<rect x="173.86" y="526.67" width="10.66" height="1.83" fill="#f9eee7"/>
<rect x="183.91" y="526.67" width="10.66" height="1.83" fill="#fae9df"/>
<rect x="193.97" y="526.67" width="10.66" height="1.83" fill="#f9f0eb"/>
<rect x="204.02" y="526.67" width="10.66" height="1.83" fill="#fae7db"/>
<rect x="214.08" y="526.67" width="10.66" height="1.83" fill="#dbeaf2"/>
<rect x="224.13" y="526.67" width="10.66" height="1.83" fill="#f7f7f7"/>
<rect x="234.19" y="526.67" width="10.66" height="1.83" fill="#c8e1ee"/>
<rect x="244.24" y="526.67" width="10.06" height="1.83" fill="#deebf2"/>
<rect x="73.3" y="528" width="10.66" height="1.83" fill="#fae9e0"/>
<rect x="83.36" y="528" width="10.66" height="1.83" fill="#e6eff4"/>
<rect x="93.41" y="528" width="10.66" height="1.83" fill="#d5e7f1"/>
<rect x="103.47" y="528" width="10.66" height="1.83" fill="#f9ece5"/>
<rect x="113.52" y="528" width="10.66" height="1.83" fill="#fbe2d3"/>
<rect x="123.58" y="528" width="10.66" height="1.83" fill="#f8f2ee"/>
<rect x="133.63" y="528" width="10.66" height="1.83" fill="#fbe6da"/>
<rect x="143.69" y="528" width="10.66" height="1.83" fill="#f6f6f7"/>
<rect x="153.74" y="528" width="10.66" height="1.83" fill="#f9efe9"/>
<rect x="163.8" y="528" width="10.66" height="1.83" fill="#f6f7f7"/>
<rect x="173.86" y="528" width="10.66" height="1.83" fill="#d7e8f1"/>
<rect x="183.91" y="528" width="10.66" height="1.83" fill="#ecf2f5"/>
<rect x="193.97" y="528" width="10.66" height="1.83" fill="#fddcc8"/>
<rect x="204.02" y="528" width="10.66" height="1.83" fill="#e5eff4"/>
<rect x="214.08" y="528" width="10.66" height="1.83" fill="#559fc9"/>
<rect x="224.13" y="528" width="10.66" height="1.83" fill="#dceaf2"/>
<rect x="234.19" y="528" width="10.66" height="1.83" fill="#ebf1f5"/>
<rect x="244.24" y="528" width="10.06" height="1.83" fill="#cfe4ef"/>
<rect x="73.3" y="529.33" width="10.66" height="1.83" fill="#f8f2ee"/>
<rect x="83.36" y="529.33" width="10.66" height="1.83" fill="#fbe6da"/>
<rect x="93.41" y="529.33" width="10.66" height="1.83" fill="#f9ece4"/>
<rect x="103.47" y="529.33" width="10.66" height="1.83" fill="#faeae1"/>
<rect x="113.52" y="529.33" width="10.66" height="1.83" fill="#fdd9c5"/>
<rect x="123.58" y="529.33" width="10.66" height="1.83" fill="#f9ede6"/>
<rect x="133.63" y="529.33" width="10.66" height="1.83" fill="#fcd6c1"/>
<rect x="143.69" y="529.33" width="10.66" height="1.83" fill="#f9ece5"/>
<rect x="153.74" y="529.33" width="10.66" height="1.83" fill="#f9f0ea"/>
<rect x="163.8" y="529.33" width="10.66" height="1.83" fill="#fcdecc"/>
<rect x="173.86" y="529.33" width="10.66" height="1.83" fill="#fbe2d3"/>
<rect x="183.91" y="529.33" width="10.66" height="1.83" fill="#f0f4f6"/>
<rect x="193.97" y="529.33" width="10.66" height="1.83" fill="#f5a886"/>
<rect x="204.02" y="529.33" width="10.66" height="1.83" fill="#faeae1"/>
<rect x="214.08" y="529.33" width="10.66" height="1.83" fill="#a5cfe3"/>
<rect x="224.13" y="529.33" width="10.66" height="1.83" fill="#eff3f6"/>
<rect x="234.19" y="529.33" width="10.66" height="1.83" fill="#e0ecf3"/>
<rect x="244.24" y="529.33" width="10.06" height="1.83" fill="#deebf2"/>
<rect x="73.3" y="530.67" width="10.66" height="1.83" fill="#fdddca"/>
<rect x="83.36" y="530.67" width="10.66" height="1.83" fill="#faebe2"/>
<rect x="93.41" y="530.67" width="10.66" height="1.83" fill="#f8f4f1"/>
<rect x="103.47" y="530.67" width="10.66" height="1.83" fill="#fddbc7"/>
<rect x="113.52" y="530.67" width="10.66" height="1.83" fill="#f6ae8e"/>
<rect x="123.58" y="530.67" width="10.66" height="1.83" fill="#fcd6c1"/>
<rect x="133.63" y="530.67" width="10.66" height="1.83" fill="#faebe3"/>
<rect x="143.69" y="530.67" width="10.66" height="1.83" fill="#fbe4d7"/>
<rect x="153.74" y="530.67" width="10.66" height="1.83" fill="#f9ece5"/>
<rect x="163.8" y="530.67" width="10.66" height="1.83" fill="#faeae1"/>
<rect x="173.86" y="530.67" width="10.66" height="1.83" fill="#f6f6f7"/>
<rect x="183.91" y="530.67" width="10.66" height="1.83" fill="#e8f0f4"/>
<rect x="193.97" y="530.67" width="10.66" height="1.83" fill="#faccb3"/>
<rect x="204.02" y="530.67" width="10.66" height="1.83" fill="#fcdfce"/>
<rect x="214.08" y="530.67" width="10.66" height="1.83" fill="#76b3d5"/>
<rect x="224.13" y="530.67" width="10.66" height="1.83" fill="#f8f4f1"/>
<rect x="234.19" y="530.67" width="10.66" height="1.83" fill="#eef3f5"/>
<rect x="244.24" y="530.67" width="10.06" height="1.83" fill="#d5e7f1"/>
<rect x="73.3" y="532" width="10.66" height="1.83" fill="#f0f4f6"/>
<rect x="83.36" y="532" width="10.66" height="1.83" fill="#fbe5d8"/>
<rect x="93.41" y="532" width="10.66" height="1.83" fill="#e4eef3"/>
<rect x="103.47" y="532" width="10.66" height="1.83" fill="#f9c0a5"/>
<rect x="113.52" y="532" width="10.66" height="1.83" fill="#fddac6"/>
<rect x="123.58" y="532" width="10.66" height="1.83" fill="#f8f3f0"/>
<rect x="133.63" y="532" width="10.66" height="1.83" fill="#fddac5"/>
<rect x="143.69" y="532" width="10.66" height="1.83" fill="#f8f4f2"/>
<rect x="153.74" y="532" width="10.66" height="1.83" fill="#faeae1"/>
<rect x="163.8" y="532" width="10.66" height="1.83" fill="#edf2f5"/>
<rect x="173.86" y="532" width="10.66" height="1.83" fill="#e2edf3"/>
<rect x="183.91" y="532" width="10.66" height="1.83" fill="#faeae1"/>
<rect x="193.97" y="532" width="10.66" height="1.83" fill="#f8f4f1"/>
<rect x="204.02" y="532" width="10.66" height="1.83" fill="#f7f5f4"/>
<rect x="214.08" y="532" width="10.66" height="1.83" fill="#cee3ef"/>
<rect x="224.13" y="532" width="10.66" height="1.83" fill="#f2f5f6"/>
<rect x="234.19" y="532" width="10.66" height="1.83" fill="#f7f6f5"/>
<rect x="244.24" y="532" width="10.06" height="1.83" fill="#f8f3ef"/>
<rect x="73.3" y="533.33" width="10.66" height="1.83" fill="#f9efea"/>
<rect x="83.36" y="533.33" width="10.66" height="1.83" fill="#faebe2"/>
<rect x="93.41" y="533.33" width="10.66" height="1.83" fill="#dfecf3"/>
<rect x="103.47" y="533.33" width="10.66" height="1.83" fill="#f8f4f2"/>
<rect x="113.52" y="533.33" width="10.66" height="1.83" fill="#fbceb7"/>
<rect x="123.58" y="533.33" width="10.66" height="1.83" fill="#d9e9f2"/>
<rect x="133.63" y="533.33" width="10.66" height="1.83" fill="#fce0d0"/>
<rect x="143.69" y="533.33" width="10.66" height="1.83" fill="#d7e8f1"/>
<rect x="153.74" y="533.33" width="10.66" height="1.83" fill="#f4f6f6"/>
<rect x="163.8" y="533.33" width="10.66" height="1.83" fill="#fbe3d4"/>
<rect x="173.86" y="533.33" width="10.66" height="1.83" fill="#dbeaf2"/>
<rect x="183.91" y="533.33" width="10.66" height="1.83" fill="#fbe2d3"/>
<rect x="193.97" y="533.33" width="10.66" height="1.83" fill="#dfecf3"/>
<rect x="204.02" y="533.33" width="10.66" height="1.83" fill="#f9eee8"/>
<rect x="214.08" y="533.33" width="10.66" height="1.83" fill="#a4cee3"/>
<rect x="224.13" y="533.33" width="10.66" height="1.83" fill="#e7f0f4"/>
<rect x="234.19" y="533.33" width="10.66" height="1.83" fill="#f8f3ef"/>
<rect x="244.24" y="533.33" width="10.06" height="1.83" fill="#f7f6f6"/>
<rect x="73.3" y="534.67" width="10.66" height="1.83" fill="#f9eee7"/>
<rect x="83.36" y="534.67" width="10.66" height="1.83" fill="#faeae1"/>
<rect x="93.41" y="534.67" width="10.66" height="1.83" fill="#d4e6f1"/>
<rect x="103.47" y="534.67" width="10.66" height="1.83" fill="#f9c5ab"/>
<rect x="113.52" y="534.67" width="10.66" height="1.83" fill="#fbe3d5"/>
<rect x="123.58" y="534.67" width="10.66" height="1.83" fill="#e7eff4"/>
<rect x="133.63" y="534.67" width="10.66" height="1.83" fill="#fdddca"/>
<rect x="143.69" y="534.67" width="10.66" height="1.83" fill="#e3eef3"/>
<rect x="153.74" y="534.67" width="10.66" height="1.83" fill="#f8f4f1"/>
<rect x="163.8" y="534.67" width="10.66" height="1.83" fill="#f9ece4"/>
<rect x="173.86" y="534.67" width="10.66" height="1.83" fill="#d3e6f0"/>
<rect x="183.91" y="534.67" width="10.66" height="1.83" fill="#f3f5f6"/>
<rect x="193.97" y="534.67" width="10.66" height="1.83" fill="#ebf1f5"/>
<rect x="204.02" y="534.67" width="10.66" height="1.83" fill="#f8f2ef"/>
<rect x="214.08" y="534.67" width="10.66" height="1.83" fill="#b0d4e7"/>
<rect x="224.13" y="534.67" width="10.66" height="1.83" fill="#d7e8f1"/>
<rect x="234.19" y="534.67" width="10.66" height="1.83" fill="#e7eff4"/>
<rect x="244.24" y="534.67" width="10.06" height="1.83" fill="#eef3f5"/>
<rect x="73.3" y="536" width="10.66" height="1.83" fill="#f8f2ee"/>
<rect x="83.36" y="536" width="10.66" height="1.83" fill="#e7f0f4"/>
<rect x="93.41" y="536" width="10.66" height="1.83" fill="#f2f5f6"/>
<rect x="103.47" y="536" width="10.66" height="1.83" fill="#ef9b7a"/>
<rect x="113.52" y="536" width="10.66" height="1.83" fill="#f9c5ab"/>
<rect x="123.58" y="536" width="10.66" height="1.83" fill="#fce2d2"/>
<rect x="133.63" y="536" width="10.66" height="1.83" fill="#fbceb7"/>
<rect x="143.69" y="536" width="10.66" height="1.83" fill="#e5eff4"/>
<rect x="153.74" y="536" width="10.66" height="1.83" fill="#f9ede7"/>
<rect x="163.8" y="536" width="10.66" height="1.83" fill="#edf2f5"/>
<rect x="173.86" y="536" width="10.66" height="1.83" fill="#dfecf3"/>
<rect x="183.91" y="536" width="10.66" height="1.83" fill="#f6f7f7"/>
<rect x="193.97" y="536" width="10.66" height="1.83" fill="#e9f0f4"/>
<rect x="204.02" y="536" width="10.66" height="1.83" fill="#f5f6f7"/>
<rect x="214.08" y="536" width="10.66" height="1.83" fill="#abd2e5"/>
<rect x="224.13" y="536" width="10.66" height="1.83" fill="#fae9de"/>
<rect x="234.19" y="536" width="10.66" height="1.83" fill="#a9d1e5"/>
<rect x="244.24" y="536" width="10.06" height="1.83" fill="#8fc3dd"/>
<rect x="73.3" y="537.33" width="10.66" height="1.83" fill="#f8f0eb"/>
<rect x="83.36" y="537.33" width="10.66" height="1.83" fill="#d3e6f0"/>
<rect x="93.41" y="537.33" width="10.66" height="1.83" fill="#d6e7f1"/>
<rect x="103.47" y="537.33" width="10.66" height="1.83" fill="#f4a683"/>
<rect x="113.52" y="537.33" width="10.66" height="1.83" fill="#f4a784"/>
<rect x="123.58" y="537.33" width="10.66" height="1.83" fill="#f8f2ee"/>
<rect x="133.63" y="537.33" width="10.66" height="1.83" fill="#f5ad8c"/>
<rect x="143.69" y="537.33" width="10.66" height="1.83" fill="#ddebf2"/>
<rect x="153.74" y="537.33" width="10.66" height="1.83" fill="#e4eef3"/>
<rect x="163.8" y="537.33" width="10.66" height="1.83" fill="#cfe4ef"/>
<rect x="173.86" y="537.33" width="10.66" height="1.83" fill="#e3eef3"/>
<rect x="183.91" y="537.33" width="10.66" height="1.83" fill="#f7f5f4"/>
<rect x="193.97" y="537.33" width="10.66" height="1.83" fill="#d4e6f1"/>
<rect x="204.02" y="537.33" width="10.66" height="1.83" fill="#d9e9f1"/>
<rect x="214.08" y="537.33" width="10.66" height="1.83" fill="#a2cde3"/>
<rect x="224.13" y="537.33" width="10.66" height="1.83" fill="#e6eff4"/>
<rect x="234.19" y="537.33" width="10.66" height="1.83" fill="#68aad0"/>
<rect x="244.24" y="537.33" width="10.06" height="1.83" fill="#a5cfe4"/>
<rect x="73.3" y="538.67" width="10.66" height="1.83" fill="#e3eef3"/>
<rect x="83.36" y="538.67" width="10.66" height="1.83" fill="#e3eef3"/>
<rect x="93.41" y="538.67" width="10.66" height="1.83" fill="#ddebf2"/>
<rect x="103.47" y="538.67" width="10.66" height="1.83" fill="#f7ba9c"/>
<rect x="113.52" y="538.67" width="10.66" height="1.83" fill="#f6b394"/>
<rect x="123.58" y="538.67" width="10.66" height="1.83" fill="#e7eff4"/>
<rect x="133.63" y="538.67" width="10.66" height="1.83" fill="#fdddcb"/>
<rect x="143.69" y="538.67" width="10.66" height="1.83" fill="#e3eef3"/>
<rect x="153.74" y="538.67" width="10.66" height="1.83" fill="#cee4ef"/>
<rect x="163.8" y="538.67" width="10.66" height="1.83" fill="#cce2ef"/>
<rect x="173.86" y="538.67" width="10.66" height="1.83" fill="#c2ddec"/>
<rect x="183.91" y="538.67" width="10.66" height="1.83" fill="#f4f6f6"/>
<rect x="193.97" y="538.67" width="10.66" height="1.83" fill="#f5f6f7"/>
<rect x="204.02" y="538.67" width="10.66" height="1.83" fill="#d1e5f0"/>
<rect x="214.08" y="538.67" width="10.66" height="1.83" fill="#a5cee3"/>
<rect x="224.13" y="538.67" width="10.66" height="1.83" fill="#f8f1ed"/>
<rect x="234.19" y="538.67" width="10.66" height="1.83" fill="#4d9ac7"/>
<rect x="244.24" y="538.67" width="10.06" height="1.83" fill="#7bb6d6"/>
<rect x="73.3" y="540" width="10.66" height="1.83" fill="#b0d4e7"/>
<rect x="83.36" y="540" width="10.66" height="1.83" fill="#f2f4f6"/>
<rect x="93.41" y="540" width="10.66" height="1.83" fill="#f8f3f1"/>
<rect x="103.47" y="540" width="10.66" height="1.83" fill="#f9ece3"/>
<rect x="113.52" y="540" width="10.66" height="1.83" fill="#b2192b"/>
<rect x="123.58" y="540" width="10.66" height="1.83" fill="#f7ba9d"/>
<rect x="133.63" y="540" width="10.66" height="1.83" fill="#b2182b"/>
<rect x="143.69" y="540" width="10.66" height="1.83" fill="#58a0ca"/>
<rect x="153.74" y="540" width="10.66" height="1.83" fill="#fdddca"/>
<rect x="163.8" y="540" width="10.66" height="1.83" fill="#f9c5ab"/>
<rect x="173.86" y="540" width="10.66" height="1.83" fill="#f6b192"/>
<rect x="183.91" y="540" width="10.66" height="1.83" fill="#7fb9d8"/>
<rect x="193.97" y="540" width="10.66" height="1.83" fill="#f8f1ec"/>
<rect x="204.02" y="540" width="10.66" height="1.83" fill="#d8e8f1"/>
<rect x="214.08" y="540" width="10.66" height="1.83" fill="#fce0d0"/>
<rect x="224.13" y="540" width="10.66" height="1.83" fill="#f7b99b"/>
<rect x="234.19" y="540" width="10.66" height="1.83" fill="#d1e5f0"/>
<rect x="244.24" y="540" width="10.06" height="1.83" fill="#9ccae1"/>
<rect x="73.3" y="541.33" width="10.66" height="1.83" fill="#a7d0e4"/>
<rect x="83.36" y="541.33" width="10.66" height="1.83" fill="#f9efea"/>
<rect x="93.41" y="541.33" width="10.66" height="1.83" fill="#fce1d1"/>
<rect x="103.47" y="541.33" width="10.66" height="1.83" fill="#fbe3d4"/>
<rect x="113.52" y="541.33" width="10.66" height="1.83" fill="#e0785f"/>
<rect x="123.58" y="541.33" width="10.66" height="1.83" fill="#f19e7c"/>
<rect x="133.63" y="541.33" width="10.66" height="1.83" fill="#cf5347"/>
<rect x="143.69" y="541.33" width="10.66" height="1.83" fill="#b3d6e8"/>
<rect x="153.74" y="541.33" width="10.66" height="1.83" fill="#fbd0b9"/>
<rect x="163.8" y="541.33" width="10.66" height="1.83" fill="#f8bea2"/>
<rect x="173.86" y="541.33" width="10.66" height="1.83" fill="#e7866a"/>
<rect x="183.91" y="541.33" width="10.66" height="1.83" fill="#a7d0e4"/>
<rect x="193.97" y="541.33" width="10.66" height="1.83" fill="#fbe4d6"/>
<rect x="204.02" y="541.33" width="10.66" height="1.83" fill="#f8f4f2"/>
<rect x="214.08" y="541.33" width="10.66" height="1.83" fill="#fdd9c5"/>
<rect x="224.13" y="541.33" width="10.66" height="1.83" fill="#f5ac8b"/>
<rect x="234.19" y="541.33" width="10.66" height="1.83" fill="#eaf1f5"/>
<rect x="244.24" y="541.33" width="10.06" height="1.83" fill="#b9d9e9"/>
<rect x="73.3" y="542.67" width="10.66" height="1.83" fill="#8bc0db"/>
<rect x="83.36" y="542.67" width="10.66" height="1.83" fill="#f9eee7"/>
<rect x="93.41" y="542.67" width="10.66" height="1.83" fill="#f9f0eb"/>
<rect x="103.47" y="542.67" width="10.66" height="1.83" fill="#fcd6c0"/>
<rect x="113.52" y="542.67" width="10.66" height="1.83" fill="#b2182b"/>
<rect x="123.58" y="542.67" width="10.66" height="1.83" fill="#e17960"/>
<rect x="133.63" y="542.67" width="10.66" height="1.83" fill="#bb2a33"/>
<rect x="143.69" y="542.67" width="10.66" height="1.83" fill="#a2cde2"/>
<rect x="153.74" y="542.67" width="10.66" height="1.83" fill="#f7b596"/>
<rect x="163.8" y="542.67" width="10.66" height="1.83" fill="#ec9273"/>
<rect x="173.86" y="542.67" width="10.66" height="1.83" fill="#ce5045"/>
<rect x="183.91" y="542.67" width="10.66" height="1.83" fill="#aed3e6"/>
<rect x="193.97" y="542.67" width="10.66" height="1.83" fill="#fae9de"/>
<rect x="204.02" y="542.67" width="10.66" height="1.83" fill="#f8f4f1"/>
<rect x="214.08" y="542.67" width="10.66" height="1.83" fill="#fbe3d5"/>
<rect x="224.13" y="542.67" width="10.66" height="1.83" fill="#f19e7c"/>
<rect x="234.19" y="542.67" width="10.66" height="1.83" fill="#e4eef3"/>
<rect x="244.24" y="542.67" width="10.06" height="1.83" fill="#a3cee3"/>
<rect x="73.3" y="544" width="10.66" height="1.83" fill="#fcdecc"/>
<rect x="83.36" y="544" width="10.66" height="1.83" fill="#fbe7db"/>
<rect x="93.41" y="544" width="10.66" height="1.83" fill="#faeae0"/>
<rect x="103.47" y="544" width="10.66" height="1.83" fill="#cae1ee"/>
<rect x="113.52" y="544" width="10.66" height="1.83" fill="#fcdfce"/>
<rect x="123.58" y="544" width="10.66" height="1.83" fill="#f6f7f7"/>
<rect x="133.63" y="544" width="10.66" height="1.83" fill="#f2f5f6"/>
<rect x="143.69" y="544" width="10.66" height="1.83" fill="#e2edf3"/>
<rect x="153.74" y="544" width="10.66" height="1.83" fill="#dceaf2"/>
<rect x="163.8" y="544" width="10.66" height="1.83" fill="#ee9777"/>
<rect x="173.86" y="544" width="10.66" height="1.83" fill="#e1ecf3"/>
<rect x="183.91" y="544" width="10.66" height="1.83" fill="#a1cde2"/>
<rect x="193.97" y="544" width="10.66" height="1.83" fill="#ecf2f5"/>
<rect x="204.02" y="544" width="10.66" height="1.83" fill="#b2d5e7"/>
<rect x="214.08" y="544" width="10.66" height="1.83" fill="#f5f6f7"/>
<rect x="224.13" y="544" width="10.66" height="1.83" fill="#c3deec"/>
<rect x="234.19" y="544" width="10.66" height="1.83" fill="#e7886c"/>
<rect x="244.24" y="544" width="10.06" height="1.83" fill="#faebe2"/>
<rect x="73.3" y="545.33" width="10.66" height="1.83" fill="#faebe2"/>
<rect x="83.36" y="545.33" width="10.66" height="1.83" fill="#fbe6da"/>
<rect x="93.41" y="545.33" width="10.66" height="1.83" fill="#f5f6f7"/>
<rect x="103.47" y="545.33" width="10.66" height="1.83" fill="#b7d8e9"/>
<rect x="113.52" y="545.33" width="10.66" height="1.83" fill="#fcd6c1"/>
<rect x="123.58" y="545.33" width="10.66" height="1.83" fill="#f9efea"/>
<rect x="133.63" y="545.33" width="10.66" height="1.83" fill="#f5f6f7"/>
<rect x="143.69" y="545.33" width="10.66" height="1.83" fill="#f8f2ee"/>
<rect x="153.74" y="545.33" width="10.66" height="1.83" fill="#e9f0f4"/>
<rect x="163.8" y="545.33" width="10.66" height="1.83" fill="#c13639"/>
<rect x="173.86" y="545.33" width="10.66" height="1.83" fill="#f7f5f3"/>
<rect x="183.91" y="545.33" width="10.66" height="1.83" fill="#a0cce2"/>
<rect x="193.97" y="545.33" width="10.66" height="1.83" fill="#e4eef4"/>
<rect x="204.02" y="545.33" width="10.66" height="1.83" fill="#b0d4e7"/>
<rect x="214.08" y="545.33" width="10.66" height="1.83" fill="#e6eff4"/>
<rect x="224.13" y="545.33" width="10.66" height="1.83" fill="#c6dfed"/>
<rect x="234.19" y="545.33" width="10.66" height="1.83" fill="#e6856a"/>
<rect x="244.24" y="545.33" width="10.06" height="1.83" fill="#fbe3d5"/>
<rect x="73.3" y="546.67" width="10.66" height="1.83" fill="#f4f5f6"/>
<rect x="83.36" y="546.67" width="10.66" height="1.83" fill="#f8f1ed"/>
<rect x="93.41" y="546.67" width="10.66" height="1.83" fill="#f7f7f7"/>
<rect x="103.47" y="546.67" width="10.66" height="1.83" fill="#d8e9f1"/>
<rect x="113.52" y="546.67" width="10.66" height="1.83" fill="#f8f1ed"/>
<rect x="123.58" y="546.67" width="10.66" height="1.83" fill="#f0f4f6"/>
<rect x="133.63" y="546.67" width="10.66" height="1.83" fill="#dfecf3"/>
<rect x="143.69" y="546.67" width="10.66" height="1.83" fill="#e4eef4"/>
<rect x="153.74" y="546.67" width="10.66" height="1.83" fill="#e1edf3"/>
<rect x="163.8" y="546.67" width="10.66" height="1.83" fill="#f19d7c"/>
<rect x="173.86" y="546.67" width="10.66" height="1.83" fill="#eef3f5"/>
<rect x="183.91" y="546.67" width="10.66" height="1.83" fill="#408fc1"/>
<rect x="193.97" y="546.67" width="10.66" height="1.83" fill="#d5e7f1"/>
<rect x="204.02" y="546.67" width="10.66" height="1.83" fill="#cce2ee"/>
<rect x="214.08" y="546.67" width="10.66" height="1.83" fill="#edf2f5"/>
<rect x="224.13" y="546.67" width="10.66" height="1.83" fill="#72b1d3"/>
<rect x="234.19" y="546.67" width="10.66" height="1.83" fill="#ef9a79"/>
<rect x="244.24" y="546.67" width="10.06" height="1.83" fill="#fae9df"/>
<rect x="73.3" y="548" width="10.66" height="2" fill="#dc6d57"/>
<rect x="83.36" y="548" width="10.66" height="2" fill="#fbe3d5"/>
<rect x="93.41" y="548" width="10.66" height="2" fill="#f2f5f6"/>
<rect x="103.47" y="548" width="10.66" height="2" fill="#a1cde2"/>
<rect x="113.52" y="548" width="10.66" height="2" fill="#f3f5f6"/>
<rect x="123.58" y="548" width="10.66" height="2" fill="#f8f2ee"/>
<rect x="133.63" y="548" width="10.66" height="2" fill="#cee3ef"/>
<rect x="143.69" y="548" width="10.66" height="2" fill="#f9f0ea"/>
<rect x="153.74" y="548" width="10.66" height="2" fill="#e6eff4"/>
<rect x="163.8" y="548" width="10.66" height="2" fill="#e1edf3"/>
<rect x="173.86" y="548" width="10.66" height="2" fill="#f9ece4"/>
<rect x="183.91" y="548" width="10.66" height="2" fill="#fbe3d4"/>
<rect x="193.97" y="548" width="10.66" height="2" fill="#faebe2"/>
<rect x="204.02" y="548" width="10.66" height="2" fill="#fac8af"/>
<rect x="214.08" y="548" width="10.66" height="2" fill="#d4e7f1"/>
<rect x="224.13" y="548" width="10.66" height="2" fill="#f9efe9"/>
<rect x="234.19" y="548" width="10.66" height="2" fill="#afd4e6"/>
<rect x="244.24" y="548" width="10.06" height="2" fill="#bfdceb"/>
<rect x="73.3" y="549.5" width="10.66" height="2" fill="#f4a785"/>
<rect x="83.36" y="549.5" width="10.66" height="2" fill="#eff3f6"/>
<rect x="93.41" y="549.5" width="10.66" height="2" fill="#e1edf3"/>
<rect x="103.47" y="549.5" width="10.66" height="2" fill="#8ac0db"/>
<rect x="113.52" y="549.5" width="10.66" height="2" fill="#f1f4f6"/>
<rect x="123.58" y="549.5" width="10.66" height="2" fill="#fbe3d5"/>
<rect x="133.63" y="549.5" width="10.66" height="2" fill="#b8d8e9"/>
<rect x="143.69" y="549.5" width="10.66" height="2" fill="#faeae0"/>
<rect x="153.74" y="549.5" width="10.66" height="2" fill="#dfecf3"/>
<rect x="163.8" y="549.5" width="10.66" height="2" fill="#e1edf3"/>
<rect x="173.86" y="549.5" width="10.66" height="2" fill="#fae7dc"/>
<rect x="183.91" y="549.5" width="10.66" height="2" fill="#fbe6da"/>
<rect x="193.97" y="549.5" width="10.66" height="2" fill="#e8f0f4"/>
<rect x="204.02" y="549.5" width="10.66" height="2" fill="#fac7ae"/>
<rect x="214.08" y="549.5" width="10.66" height="2" fill="#d8e8f1"/>
<rect x="224.13" y="549.5" width="10.66" height="2" fill="#f7f6f6"/>
<rect x="234.19" y="549.5" width="10.66" height="2" fill="#b8d8e9"/>
<rect x="244.24" y="549.5" width="10.06" height="2" fill="#a6cfe4"/>
<rect x="73.3" y="551" width="10.66" height="2.25" fill="#cf5247"/>
<rect x="83.36" y="551" width="10.66" height="2.25" fill="#e6eff4"/>
<rect x="93.41" y="551" width="10.66" height="2.25" fill="#b2182b"/>
<rect x="103.47" y="551" width="10.66" height="2.25" fill="#a2cde3"/>
<rect x="113.52" y="551" width="10.66" height="2.25" fill="#f1f4f6"/>
<rect x="123.58" y="551" width="10.66" height="2.25" fill="#fae8de"/>
<rect x="133.63" y="551" width="10.66" height="2.25" fill="#a4cee3"/>
<rect x="143.69" y="551" width="10.66" height="2.25" fill="#d9e9f1"/>
<rect x="153.74" y="551" width="10.66" height="2.25" fill="#dfecf3"/>
<rect x="163.8" y="551" width="10.66" height="2.25" fill="#e8f0f4"/>
<rect x="173.86" y="551" width="10.66" height="2.25" fill="#f9ece4"/>
<rect x="183.91" y="551" width="10.66" height="2.25" fill="#d35a4a"/>
<rect x="193.97" y="551" width="10.66" height="2.25" fill="#e9f0f4"/>
<rect x="204.02" y="551" width="10.66" height="2.25" fill="#e4eef4"/>
<rect x="214.08" y="551" width="10.66" height="2.25" fill="#afd4e6"/>
<rect x="224.13" y="551" width="10.66" height="2.25" fill="#f7f6f5"/>
<rect x="234.19" y="551" width="10.66" height="2.25" fill="#509bc7"/>
<rect x="244.24" y="551" width="10.06" height="2.25" fill="#7bb6d6"/>
<rect x="73.3" y="552.75" width="10.66" height="2.25" fill="#ba2933"/>
<rect x="83.36" y="552.75" width="10.66" height="2.25" fill="#f7f6f5"/>
<rect x="93.41" y="552.75" width="10.66" height="2.25" fill="#b2182b"/>
<rect x="103.47" y="552.75" width="10.66" height="2.25" fill="#c3deec"/>
<rect x="113.52" y="552.75" width="10.66" height="2.25" fill="#f7f5f4"/>
<rect x="123.58" y="552.75" width="10.66" height="2.25" fill="#f8bb9d"/>
<rect x="133.63" y="552.75" width="10.66" height="2.25" fill="#99c8e0"/>
<rect x="143.69" y="552.75" width="10.66" height="2.25" fill="#e0ecf3"/>
<rect x="153.74" y="552.75" width="10.66" height="2.25" fill="#cfe4f0"/>
<rect x="163.8" y="552.75" width="10.66" height="2.25" fill="#e5eef4"/>
<rect x="173.86" y="552.75" width="10.66" height="2.25" fill="#fce0d0"/>
<rect x="183.91" y="552.75" width="10.66" height="2.25" fill="#c43d3c"/>
<rect x="193.97" y="552.75" width="10.66" height="2.25" fill="#dfecf3"/>
<rect x="204.02" y="552.75" width="10.66" height="2.25" fill="#f9efe9"/>
<rect x="214.08" y="552.75" width="10.66" height="2.25" fill="#acd2e6"/>
<rect x="224.13" y="552.75" width="10.66" height="2.25" fill="#f8f0eb"/>
<rect x="234.19" y="552.75" width="10.66" height="2.25" fill="#82bbd8"/>
<rect x="244.24" y="552.75" width="10.06" height="2.25" fill="#93c6de"/>
<rect x="66.8" y="390.5" width="5.8" height="81" fill="#8e8e8e"/>
<rect x="66.8" y="473.7" width="5.8" height="80.6" fill="#8e8e8e"/>
<path d="M70.51,390.75V391.66M70.51,390.75H72.6M70.51,391.66H72.6M70.77,392.56V393.47M70.77,392.56H72.6M70.77,393.47H72.6M69.5,391.2V393.01M69.5,391.2H70.51M69.5,393.01H70.77M69.27,392.11V394.37M69.27,392.11H69.5M69.27,394.37H72.6M70.4,395.27V396.18M70.4,395.27H72.6M70.4,396.18H72.6M70.22,397.99V398.89M70.22,397.99H72.6M70.22,398.89H72.6M69.68,397.08V398.44M69.68,397.08H72.6M69.68,398.44H70.22M68.69,395.73V397.76M68.69,395.73H70.4M68.69,397.76H69.68M70.28,399.8V400.7M70.28,399.8H72.6M70.28,400.7H72.6M70.61,401.61V402.51M70.61,401.61H72.6M70.61,402.51H72.6M69.3,400.25V402.06M69.3,400.25H70.28M69.3,402.06H70.61M70.37,405.22V406.13M70.37,405.22H72.6M70.37,406.13H72.6M70.68,407.94V408.84M70.68,407.94H72.6M70.68,408.84H72.6M69.97,407.03V408.39M69.97,407.03H72.6M69.97,408.39H70.68M68.74,405.68V407.71M68.74,405.68H70.37M68.74,407.71H69.97M70.56,409.75V410.65M70.56,409.75H72.6M70.56,410.65H72.6M68.23,406.69V410.2M68.23,406.69H68.74M68.23,410.2H70.56M67.91,404.32V408.45M67.91,404.32H72.6M67.91,408.45H68.23M67.53,403.41V406.38M67.53,403.41H72.6M67.53,406.38H67.91M67.15,401.15V404.9M67.15,401.15H69.3M67.15,404.9H67.53M70.76,411.55V412.46M70.76,411.55H72.6M70.76,412.46H72.6M69.61,412.01V413.36M69.61,412.01H70.76M69.61,413.36H72.6M70.48,414.27V415.17M70.48,414.27H72.6M70.48,415.17H72.6M70.53,416.08V416.98M70.53,416.08H72.6M70.53,416.98H72.6M70.61,417.89V418.79M70.61,417.89H72.6M70.61,418.79H72.6M69.18,416.53V418.34M69.18,416.53H70.53M69.18,418.34H70.61M68.92,414.72V417.43M68.92,414.72H70.48M68.92,417.43H69.18M67.87,412.69V416.08M67.87,412.69H69.61M67.87,416.08H68.92M70.58,420.6V421.5M70.58,420.6H72.6M70.58,421.5H72.6M69.95,419.69V421.05M69.95,419.69H72.6M69.95,421.05H70.58M70.75,422.41V423.31M70.75,422.41H72.6M70.75,423.31H72.6M69.17,420.37V422.86M69.17,420.37H69.95M69.17,422.86H70.75M67.52,414.38V421.62M67.52,414.38H67.87M67.52,421.62H69.17M67.14,418V424.22M67.14,418H67.52M67.14,424.22H72.6M65.96,403.03V421.11M65.96,403.03H67.15M65.96,421.11H67.14M70.69,425.12V426.03M70.69,425.12H72.6M70.69,426.03H72.6M70.2,427.83V428.74M70.2,427.83H72.6M70.2,428.74H72.6M69.05,426.93V428.29M69.05,426.93H72.6M69.05,428.29H70.2M68.78,427.61V429.64M68.78,427.61H69.05M68.78,429.64H72.6M68.35,425.57V428.63M68.35,425.57H70.69M68.35,428.63H68.78M70.73,431.45V432.36M70.73,431.45H72.6M70.73,432.36H72.6M69.85,430.55V431.9M69.85,430.55H72.6M69.85,431.9H70.73M68.79,431.23V433.26M68.79,431.23H69.85M68.79,433.26H72.6M70.57,434.17V435.07M70.57,434.17H72.6M70.57,435.07H72.6M68.5,432.24V434.62M68.5,432.24H68.79M68.5,434.62H70.57M70.33,435.97V436.88M70.33,435.97H72.6M70.33,436.88H72.6M70.48,437.78V438.69M70.48,437.78H72.6M70.48,438.69H72.6M69.46,436.43V438.24M69.46,436.43H70.33M69.46,438.24H70.48M68.2,433.43V437.33M68.2,433.43H68.5M68.2,437.33H69.46M70.76,439.59V440.5M70.76,439.59H72.6M70.76,440.5H72.6M70.66,441.4V442.31M70.66,441.4H72.6M70.66,442.31H72.6M68.33,440.04V441.85M68.33,440.04H70.76M68.33,441.85H70.66M67.87,435.38V440.95M67.87,435.38H68.2M67.87,440.95H68.33M67.51,427.1V438.16M67.51,427.1H68.35M67.51,438.16H67.87M67.13,432.63V443.21M67.13,432.63H67.51M67.13,443.21H72.6M70.68,444.11V445.02M70.68,444.11H72.6M70.68,445.02H72.6M66.71,437.92V444.57M66.71,437.92H67.13M66.71,444.57H70.68M70.19,446.83V447.73M70.19,446.83H72.6M70.19,447.73H72.6M70.56,448.64V449.54M70.56,448.64H72.6M70.56,449.54H72.6M69.08,449.09V450.45M69.08,449.09H70.56M69.08,450.45H72.6M67.73,447.28V449.77M67.73,447.28H70.19M67.73,449.77H69.08M70.2,451.35V452.25M70.2,451.35H72.6M70.2,452.25H72.6M70.07,453.16V454.06M70.07,453.16H72.6M70.07,454.06H72.6M70.27,454.97V455.87M70.27,454.97H72.6M70.27,455.87H72.6M70.32,456.78V457.68M70.32,456.78H72.6M70.32,457.68H72.6M68.5,455.42V457.23M68.5,455.42H70.27M68.5,457.23H70.32M68.2,453.61V456.32M68.2,453.61H70.07M68.2,456.32H68.5M67.87,451.8V454.97M67.87,451.8H70.2M67.87,454.97H68.2M67.51,453.38V458.59M67.51,453.38H67.87M67.51,458.59H72.6M67.13,448.52V455.99M67.13,448.52H67.73M67.13,455.99H67.51M66.71,445.92V452.25M66.71,445.92H72.6M66.71,452.25H67.13M66.27,441.24V449.09M66.27,441.24H66.71M66.27,449.09H66.71M70.12,459.49V460.39M70.12,459.49H72.6M70.12,460.39H72.6M70.11,461.3V462.2M70.11,461.3H72.6M70.11,462.2H72.6M69.05,461.75V463.11M69.05,461.75H70.11M69.05,463.11H72.6M68.31,459.94V462.43M68.31,459.94H70.12M68.31,462.43H69.05M70.77,464.01V464.92M70.77,464.01H72.6M70.77,464.92H72.6M70.26,465.82V466.73M70.26,465.82H72.6M70.26,466.73H72.6M69.25,464.46V466.27M69.25,464.46H70.77M69.25,466.27H70.26M70.29,468.53V469.44M70.29,468.53H72.6M70.29,469.44H72.6M70.8,470.34V471.25M70.8,470.34H72.6M70.8,471.25H72.6M69.24,468.99V470.8M69.24,468.99H70.29M69.24,470.8H70.8M68.99,467.63V469.89M68.99,467.63H72.6M68.99,469.89H69.24M66.39,465.37V468.76M66.39,465.37H69.25M66.39,468.76H68.99M65.92,461.19V467.06M65.92,461.19H68.31M65.92,467.06H66.39M63.38,445.17V464.13M63.38,445.17H66.27M63.38,464.13H65.92M62.02,412.07V454.65M62.02,412.07H65.96M62.02,454.65H63.38M59.58,396.74V433.36M59.58,396.74H68.69M59.58,433.36H62.02M56.5,393.24V415.05M56.5,393.24H69.27M56.5,415.05H59.58M70.58,473.95V474.85M70.58,473.95H72.6M70.58,474.85H72.6M70.71,475.75V476.65M70.71,475.75H72.6M70.71,476.65H72.6M69.45,474.4V476.2M69.45,474.4H70.58M69.45,476.2H70.71M70.56,478.45V479.35M70.56,478.45H72.6M70.56,479.35H72.6M69.73,478.9V480.25M69.73,478.9H70.56M69.73,480.25H72.6M70.57,482.05V482.95M70.57,482.05H72.6M70.57,482.95H72.6M70.7,483.85V484.75M70.7,483.85H72.6M70.7,484.75H72.6M70.12,482.5V484.3M70.12,482.5H70.57M70.12,484.3H70.7M70.82,485.65V486.55M70.82,485.65H72.6M70.82,486.55H72.6M69.93,483.4V486.1M69.93,483.4H70.12M69.93,486.1H70.82M69.73,481.15V484.75M69.73,481.15H72.6M69.73,484.75H69.93M69.52,479.57V482.95M69.52,479.57H69.73M69.52,482.95H69.73M70.54,487.45V488.35M70.54,487.45H72.6M70.54,488.35H72.6M70.55,489.25V490.15M70.55,489.25H72.6M70.55,490.15H72.6M69.73,487.9V489.7M69.73,487.9H70.54M69.73,489.7H70.55M70.71,491.05V491.95M70.71,491.05H72.6M70.71,491.95H72.6M70.79,492.85V493.75M70.79,492.85H72.6M70.79,493.75H72.6M70.08,493.3V494.65M70.08,493.3H70.79M70.08,494.65H72.6M69.73,491.5V493.98M69.73,491.5H70.71M69.73,493.98H70.08M69.52,488.8V492.74M69.52,488.8H69.73M69.52,492.74H69.73M69.28,481.26V490.77M69.28,481.26H69.52M69.28,490.77H69.52M69.03,477.55V486.02M69.03,477.55H72.6M69.03,486.02H69.28M68.77,481.78V495.55M68.77,481.78H69.03M68.77,495.55H72.6M70.81,496.45V497.35M70.81,496.45H72.6M70.81,497.35H72.6M69.52,496.9V498.25M69.52,496.9H70.81M69.52,498.25H72.6M70.7,499.15V500.05M70.7,499.15H72.6M70.7,500.05H72.6M69.52,499.6V500.95M69.52,499.6H70.7M69.52,500.95H72.6M69.28,497.58V500.28M69.28,497.58H69.52M69.28,500.28H69.52M70.29,501.85V502.75M70.29,501.85H72.6M70.29,502.75H72.6M69.85,502.3V503.65M69.85,502.3H70.29M69.85,503.65H72.6M70.31,505.45V506.35M70.31,505.45H72.6M70.31,506.35H72.6M69.73,504.55V505.9M69.73,504.55H72.6M69.73,505.9H70.31M69.28,502.98V505.23M69.28,502.98H69.85M69.28,505.23H69.73M69.03,498.93V504.1M69.03,498.93H69.28M69.03,504.1H69.28M70.23,508.15V509.05M70.23,508.15H72.6M70.23,509.05H72.6M69.73,507.25V508.6M69.73,507.25H72.6M69.73,508.6H70.23M70.52,509.95V510.85M70.52,509.95H72.6M70.52,510.85H72.6M69.52,507.93V510.4M69.52,507.93H69.73M69.52,510.4H70.52M70.52,511.75V512.65M70.52,511.75H72.6M70.52,512.65H72.6M69.28,509.16V512.2M69.28,509.16H69.52M69.28,512.2H70.52M70.14,513.55V514.45M70.14,513.55H72.6M70.14,514.45H72.6M69.4,514V515.35M69.4,514H70.14M69.4,515.35H72.6M69.03,510.68V514.68M69.03,510.68H69.28M69.03,514.68H69.4M68.77,501.51V512.68M68.77,501.51H69.03M68.77,512.68H69.03M68.48,488.67V507.1M68.48,488.67H68.77M68.48,507.1H68.77M70.12,517.15V518.05M70.12,517.15H72.6M70.12,518.05H72.6M69.56,516.25V517.6M69.56,516.25H72.6M69.56,517.6H70.12M70.62,519.85V520.75M70.62,519.85H72.6M70.62,520.75H72.6M69.01,518.95V520.3M69.01,518.95H72.6M69.01,520.3H70.62M70.76,521.65V522.55M70.76,521.65H72.6M70.76,522.55H72.6M69.27,522.1V523.45M69.27,522.1H70.76M69.27,523.45H72.6M68.07,519.62V522.78M68.07,519.62H69.01M68.07,522.78H69.27M67.73,516.93V521.2M67.73,516.93H69.56M67.73,521.2H68.07M70.26,525.25V526.15M70.26,525.25H72.6M70.26,526.15H72.6M69.66,525.7V527.05M69.66,525.7H70.26M69.66,527.05H72.6M70.34,528.85V529.75M70.34,528.85H72.6M70.34,529.75H72.6M68.94,527.95V529.3M68.94,527.95H72.6M68.94,529.3H70.34M68.39,526.38V528.62M68.39,526.38H69.66M68.39,528.62H68.94M70.15,530.65V531.55M70.15,530.65H72.6M70.15,531.55H72.6M70.69,532.45V533.35M70.69,532.45H72.6M70.69,533.35H72.6M70.69,534.25V535.15M70.69,534.25H72.6M70.69,535.15H72.6M69.19,532.9V534.7M69.19,532.9H70.69M69.19,534.7H70.69M68.93,531.1V533.8M68.93,531.1H70.15M68.93,533.8H69.19M68.07,527.5V532.45M68.07,527.5H68.39M68.07,532.45H68.93M67.73,524.35V529.98M67.73,524.35H72.6M67.73,529.98H68.07M67.36,519.06V527.16M67.36,519.06H67.73M67.36,527.16H67.73M66.97,497.88V523.11M66.97,497.88H68.48M66.97,523.11H67.36M64.49,510.5V536.05M64.49,510.5H66.97M64.49,536.05H72.6M60.1,475.3V523.27M60.1,475.3H69.45M60.1,523.27H64.49M70.13,536.95V537.85M70.13,536.95H72.6M70.13,537.85H72.6M69.5,537.4V538.75M69.5,537.4H70.13M69.5,538.75H72.6M68.73,538.08V539.65M68.73,538.08H69.5M68.73,539.65H72.6M70.52,540.55V541.45M70.52,540.55H72.6M70.52,541.45H72.6M70.46,542.35V543.25M70.46,542.35H72.6M70.46,543.25H72.6M68.82,541V542.8M68.82,541H70.52M68.82,542.8H70.46M70.25,544.15V545.05M70.25,544.15H72.6M70.25,545.05H72.6M68.53,541.9V544.6M68.53,541.9H68.82M68.53,544.6H70.25M67.49,538.86V543.25M67.49,538.86H68.73M67.49,543.25H68.53M70.59,546.85V547.75M70.59,546.85H72.6M70.59,547.75H72.6M69.44,545.95V547.3M69.44,545.95H72.6M69.44,547.3H70.59M70.37,549.55V550.45M70.37,549.55H72.6M70.37,550.45H72.6M69.49,548.65V550M69.49,548.65H72.6M69.49,550H70.37M68.61,549.33V551.35M68.61,549.33H69.49M68.61,551.35H72.6M70.68,553.15V554.05M70.68,553.15H72.6M70.68,554.05H72.6M68.96,552.25V553.6M68.96,552.25H72.6M68.96,553.6H70.68M68.12,550.34V552.92M68.12,550.34H68.61M68.12,552.92H68.96M67.19,546.62V551.63M67.19,546.62H69.44M67.19,551.63H68.12M63.6,541.06V549.13M63.6,541.06H67.49M63.6,549.13H67.19M53.6,499.29V545.09M53.6,499.29H60.1M53.6,545.09H63.6M53,404.14V522.19M53,404.14H56.5M53,522.19H53.6" fill="none" stroke="#2a2a2a" stroke-width="0.6"/>
<line x1="55.2" y1="425" x2="55.2" y2="471" stroke="#bbb" stroke-width="0.6" stroke-dasharray="0.8 1.2"/>
<line x1="55.2" y1="476" x2="55.2" y2="552" stroke="#bbb" stroke-width="0.6" stroke-dasharray="0.8 1.2"/>
<text x="47.6" y="431.5" font-size="8.6" fill="#222" text-anchor="middle" font-weight="normal" transform="rotate(-90 47.6 431.5)">MITF</text>
<text x="47.8" y="513.7" font-size="8.6" fill="#222" text-anchor="middle" font-weight="normal" transform="rotate(-90 47.8 513.7)">AXL</text>
<text x="258" y="423.2" font-size="6.9" fill="#222" text-anchor="start" font-weight="bold">logFC</text>
<defs><linearGradient id="lg" x1="0" y1="0" x2="0" y2="1"><stop offset="0.06" stop-color="#b2182b"/><stop offset="0.17" stop-color="#d6604d"/><stop offset="0.28" stop-color="#f4a582"/><stop offset="0.39" stop-color="#fddbc7"/><stop offset="0.5" stop-color="#f7f7f7"/><stop offset="0.61" stop-color="#d1e5f0"/><stop offset="0.72" stop-color="#92c5de"/><stop offset="0.83" stop-color="#4393c3"/><stop offset="0.94" stop-color="#2166ac"/></linearGradient></defs>
<rect x="258" y="426.9" width="8" height="40.3" fill="url(#lg)"/>
<line x1="258" y1="429.3" x2="259.3" y2="429.3" stroke="#fff" stroke-width="0.5"/>
<line x1="264.7" y1="429.3" x2="266" y2="429.3" stroke="#fff" stroke-width="0.5"/>
<text x="267.6" y="431.7" font-size="6.9" fill="#222" text-anchor="start" font-weight="normal">4</text>
<line x1="258" y1="438.16" x2="259.3" y2="438.16" stroke="#fff" stroke-width="0.5"/>
<line x1="264.7" y1="438.16" x2="266" y2="438.16" stroke="#fff" stroke-width="0.5"/>
<text x="267.6" y="440.56" font-size="6.9" fill="#222" text-anchor="start" font-weight="normal">2</text>
<line x1="258" y1="447.02" x2="259.3" y2="447.02" stroke="#fff" stroke-width="0.5"/>
<line x1="264.7" y1="447.02" x2="266" y2="447.02" stroke="#fff" stroke-width="0.5"/>
<text x="267.6" y="449.42" font-size="6.9" fill="#222" text-anchor="start" font-weight="normal">0</text>
<line x1="258" y1="455.88" x2="259.3" y2="455.88" stroke="#fff" stroke-width="0.5"/>
<line x1="264.7" y1="455.88" x2="266" y2="455.88" stroke="#fff" stroke-width="0.5"/>
<text x="267.6" y="458.28" font-size="6.9" fill="#222" text-anchor="start" font-weight="normal">-2</text>
<line x1="258" y1="464.74" x2="259.3" y2="464.74" stroke="#fff" stroke-width="0.5"/>
<line x1="264.7" y1="464.74" x2="266" y2="464.74" stroke="#fff" stroke-width="0.5"/>
<text x="267.6" y="467.14" font-size="6.9" fill="#222" text-anchor="start" font-weight="normal">-4</text>
<text x="281.3" y="423.2" font-size="6.9" fill="#222" text-anchor="start" font-weight="bold">visit</text>
<rect x="281.5" y="427.5" width="6.9" height="6.8" fill="#0f3b78"/>
<rect x="281.5" y="435" width="6.9" height="6.8" fill="#a5c6e6"/>
<text x="291.8" y="432.5" font-size="6.9" fill="#222" text-anchor="start" font-weight="bold">On-treatment</text>
<text x="291.8" y="440.3" font-size="6.9" fill="#222" text-anchor="start" font-weight="bold">Pre-treatment</text>
<text x="375.8" y="311.6" font-size="25.5" fill="#000" text-anchor="start" font-weight="bold">d</text>
<text x="446" y="331.7" font-size="12.3" fill="#1f69b4" text-anchor="start" font-weight="bold">MITF RNA expression (scRNA-seq)</text>
<text x="431.6" y="360" font-size="12.3" fill="#1a1a1a" text-anchor="start" font-weight="normal">Untreated</text>
<text x="569.3" y="359.7" font-size="12.35" fill="#1a1a1a" text-anchor="start" font-weight="normal">Post-ICI (resistant)</text>
<line x1="415.8" y1="413.3" x2="510" y2="413.3" stroke="#ebebeb" stroke-width="0.8"/>
<line x1="415.8" y1="423.11" x2="510" y2="423.11" stroke="#ebebeb" stroke-width="0.8"/>
<line x1="415.8" y1="432.92" x2="510" y2="432.92" stroke="#ebebeb" stroke-width="0.8"/>
<line x1="415.8" y1="442.73" x2="510" y2="442.73" stroke="#ebebeb" stroke-width="0.8"/>
<line x1="415.8" y1="452.54" x2="510" y2="452.54" stroke="#ebebeb" stroke-width="0.8"/>
<line x1="415.8" y1="462.35" x2="510" y2="462.35" stroke="#ebebeb" stroke-width="0.8"/>
<line x1="415.8" y1="472.16" x2="510" y2="472.16" stroke="#ebebeb" stroke-width="0.8"/>
<line x1="415.8" y1="481.97" x2="510" y2="481.97" stroke="#ebebeb" stroke-width="0.8"/>
<line x1="415.8" y1="491.78" x2="510" y2="491.78" stroke="#ebebeb" stroke-width="0.8"/>
<line x1="415.8" y1="501.59" x2="510" y2="501.59" stroke="#ebebeb" stroke-width="0.8"/>
<line x1="415.8" y1="511.4" x2="510" y2="511.4" stroke="#ebebeb" stroke-width="0.8"/>
<line x1="415.8" y1="521.21" x2="510" y2="521.21" stroke="#ebebeb" stroke-width="0.8"/>
<line x1="415.8" y1="531.02" x2="510" y2="531.02" stroke="#ebebeb" stroke-width="0.8"/>
<line x1="438.5" y1="374.2" x2="438.5" y2="535.52" stroke="#ebebeb" stroke-width="0.9"/>
<line x1="460.68" y1="374.2" x2="460.68" y2="535.52" stroke="#ebebeb" stroke-width="0.9"/>
<line x1="482.85" y1="374.2" x2="482.85" y2="535.52" stroke="#ebebeb" stroke-width="0.9"/>
<line x1="505.02" y1="374.2" x2="505.02" y2="535.52" stroke="#ebebeb" stroke-width="0.9"/>
<path d="M422.98,413.3L422.98,412.75L423.7,412.48L424.42,412.12L425.14,411.63L425.86,410.98L426.58,410.12L427.3,409.04L428.02,407.68L428.74,406.04L429.46,404.07L430.18,401.79L430.91,399.21L431.63,396.37L432.35,393.31L433.07,390.14L433.79,386.95L434.51,383.86L435.23,381.01L435.95,378.53L436.67,376.54L437.39,375.14L438.11,374.4L438.83,374.38L439.55,375.06L440.27,376.41L440.99,378.36L441.72,380.81L442.44,383.63L443.16,386.7L443.88,389.89L444.6,393.07L445.32,396.14L446.04,399L446.76,401.61L447.48,403.91L448.2,405.9L448.92,407.57L449.64,408.94L450.36,410.05L451.08,410.92L451.81,411.59L452.53,412.09L453.25,412.46L453.97,412.73L454.69,412.92L455.41,413.05L456.13,413.14L456.85,413.2L457.57,413.24L458.29,413.26L459.01,413.28L459.73,413.29L460.45,413.29L461.17,413.3L461.89,413.3L462.62,413.3L463.34,413.3L464.06,413.3L464.78,413.3L465.5,413.3L466.22,413.3L466.94,413.3L467.66,413.3L468.38,413.3L469.1,413.3L469.82,413.3L470.54,413.3L471.26,413.3L471.98,413.3L472.7,413.3L473.43,413.3L474.15,413.3L474.87,413.3L475.59,413.3L476.31,413.3L477.03,413.3L477.75,413.3L478.47,413.3L479.19,413.3L479.91,413.3L480.63,413.3L481.35,413.3L482.07,413.3L482.79,413.3L483.52,413.3L484.24,413.3L484.96,413.3L485.68,413.3L486.4,413.3L487.12,413.3L487.84,413.3L488.56,413.3L489.28,413.3L490,413.3L490.72,413.3L491.44,413.3L492.16,413.3L492.88,413.3L493.6,413.3L494.33,413.3L495.05,413.3L495.77,413.3L496.49,413.3L497.21,413.3L497.93,413.3L498.65,413.3L499.37,413.3L500.09,413.3L500.81,413.3L501.53,413.3L502.25,413.3L502.97,413.3L503.69,413.3L504.42,413.3L505.14,413.3L505.86,413.3L506.58,413.3L507.3,413.3L508.02,413.3L508.74,413.3L509.46,413.3L509.46,413.3Z" fill="#a8c6e4"/>
<path d="M422.98,412.75 L423.7,412.48 L424.42,412.12 L425.14,411.63 L425.86,410.98 L426.58,410.12 L427.3,409.04 L428.02,407.68 L428.74,406.04 L429.46,404.07 L430.18,401.79 L430.91,399.21 L431.63,396.37 L432.35,393.31 L433.07,390.14 L433.79,386.95 L434.51,383.86 L435.23,381.01 L435.95,378.53 L436.67,376.54 L437.39,375.14 L438.11,374.4 L438.83,374.38 L439.55,375.06 L440.27,376.41 L440.99,378.36 L441.72,380.81 L442.44,383.63 L443.16,386.7 L443.88,389.89 L444.6,393.07 L445.32,396.14 L446.04,399 L446.76,401.61 L447.48,403.91 L448.2,405.9 L448.92,407.57 L449.64,408.94 L450.36,410.05 L451.08,410.92 L451.81,411.59 L452.53,412.09 L453.25,412.46 L453.97,412.73 L454.69,412.92 L455.41,413.05 L456.13,413.14 L456.85,413.2 L457.57,413.24 L458.29,413.26 L459.01,413.28 L459.73,413.29 L460.45,413.29 L461.17,413.3 L461.89,413.3 L462.62,413.3 L463.34,413.3 L464.06,413.3 L464.78,413.3 L465.5,413.3 L466.22,413.3 L466.94,413.3 L467.66,413.3 L468.38,413.3 L469.1,413.3 L469.82,413.3 L470.54,413.3 L471.26,413.3 L471.98,413.3 L472.7,413.3 L473.43,413.3 L474.15,413.3 L474.87,413.3 L475.59,413.3 L476.31,413.3 L477.03,413.3 L477.75,413.3 L478.47,413.3 L479.19,413.3 L479.91,413.3 L480.63,413.3 L481.35,413.3 L482.07,413.3 L482.79,413.3 L483.52,413.3 L484.24,413.3 L484.96,413.3 L485.68,413.3 L486.4,413.3 L487.12,413.3 L487.84,413.3 L488.56,413.3 L489.28,413.3 L490,413.3 L490.72,413.3 L491.44,413.3 L492.16,413.3 L492.88,413.3 L493.6,413.3 L494.33,413.3 L495.05,413.3 L495.77,413.3 L496.49,413.3 L497.21,413.3 L497.93,413.3 L498.65,413.3 L499.37,413.3 L500.09,413.3 L500.81,413.3 L501.53,413.3 L502.25,413.3 L502.97,413.3 L503.69,413.3 L504.42,413.3 L505.14,413.3 L505.86,413.3 L506.58,413.3 L507.3,413.3 L508.02,413.3 L508.74,413.3 L509.46,413.3" fill="none" stroke="#111" stroke-width="0.95" stroke-linejoin="round"/>
<text x="413.3" y="414.1" font-size="9.4" fill="#1a1a1a" text-anchor="end" font-weight="normal">Mel53</text>
<path d="M422.98,423.11L422.98,422.5L423.7,422.24L424.42,421.88L425.14,421.41L425.86,420.79L426.58,420.01L427.3,419.02L428.02,417.82L428.74,416.37L429.46,414.68L430.18,412.75L430.91,410.58L431.63,408.23L432.35,405.73L433.07,403.15L433.79,400.58L434.51,398.12L435.23,395.86L435.95,393.9L436.67,392.33L437.39,391.23L438.11,390.65L438.83,390.61L439.55,391.13L440.27,392.17L440.99,393.69L441.72,395.59L442.44,397.81L443.16,400.23L443.88,402.76L444.6,405.29L445.32,407.76L446.04,410.09L446.76,412.22L447.48,414.12L448.2,415.77L448.92,417.17L449.64,418.33L450.36,419.26L451.08,419.99L451.81,420.55L452.53,420.96L453.25,421.25L453.97,421.44L454.69,421.56L455.41,421.63L456.13,421.66L456.85,421.66L457.57,421.64L458.29,421.61L459.01,421.58L459.73,421.55L460.45,421.51L461.17,421.48L461.89,421.45L462.62,421.42L463.34,421.39L464.06,421.37L464.78,421.35L465.5,421.32L466.22,421.3L466.94,421.27L467.66,421.24L468.38,421.21L469.1,421.18L469.82,421.14L470.54,421.1L471.26,421.07L471.98,421.03L472.7,421L473.43,420.97L474.15,420.95L474.87,420.95L475.59,420.95L476.31,420.96L477.03,420.99L477.75,421.03L478.47,421.08L479.19,421.15L479.91,421.23L480.63,421.33L481.35,421.43L482.07,421.54L482.79,421.66L483.52,421.78L484.24,421.9L484.96,422.02L485.68,422.14L486.4,422.26L487.12,422.36L487.84,422.47L488.56,422.56L489.28,422.64L490,422.72L490.72,422.78L491.44,422.84L492.16,422.89L492.88,422.93L493.6,422.97L494.33,423L495.05,423.02L495.77,423.04L496.49,423.06L497.21,423.07L497.93,423.08L498.65,423.09L499.37,423.09L500.09,423.1L500.81,423.1L501.53,423.1L502.25,423.11L502.97,423.11L503.69,423.11L504.42,423.11L505.14,423.11L505.86,423.11L506.58,423.11L507.3,423.11L508.02,423.11L508.74,423.11L509.46,423.11L509.46,423.11Z" fill="#9bbfe6"/>
<path d="M422.98,422.5 L423.7,422.24 L424.42,421.88 L425.14,421.41 L425.86,420.79 L426.58,420.01 L427.3,419.02 L428.02,417.82 L428.74,416.37 L429.46,414.68 L430.18,412.75 L430.91,410.58 L431.63,408.23 L432.35,405.73 L433.07,403.15 L433.79,400.58 L434.51,398.12 L435.23,395.86 L435.95,393.9 L436.67,392.33 L437.39,391.23 L438.11,390.65 L438.83,390.61 L439.55,391.13 L440.27,392.17 L440.99,393.69 L441.72,395.59 L442.44,397.81 L443.16,400.23 L443.88,402.76 L444.6,405.29 L445.32,407.76 L446.04,410.09 L446.76,412.22 L447.48,414.12 L448.2,415.77 L448.92,417.17 L449.64,418.33 L450.36,419.26 L451.08,419.99 L451.81,420.55 L452.53,420.96 L453.25,421.25 L453.97,421.44 L454.69,421.56 L455.41,421.63 L456.13,421.66 L456.85,421.66 L457.57,421.64 L458.29,421.61 L459.01,421.58 L459.73,421.55 L460.45,421.51 L461.17,421.48 L461.89,421.45 L462.62,421.42 L463.34,421.39 L464.06,421.37 L464.78,421.35 L465.5,421.32 L466.22,421.3 L466.94,421.27 L467.66,421.24 L468.38,421.21 L469.1,421.18 L469.82,421.14 L470.54,421.1 L471.26,421.07 L471.98,421.03 L472.7,421 L473.43,420.97 L474.15,420.95 L474.87,420.95 L475.59,420.95 L476.31,420.96 L477.03,420.99 L477.75,421.03 L478.47,421.08 L479.19,421.15 L479.91,421.23 L480.63,421.33 L481.35,421.43 L482.07,421.54 L482.79,421.66 L483.52,421.78 L484.24,421.9 L484.96,422.02 L485.68,422.14 L486.4,422.26 L487.12,422.36 L487.84,422.47 L488.56,422.56 L489.28,422.64 L490,422.72 L490.72,422.78 L491.44,422.84 L492.16,422.89 L492.88,422.93 L493.6,422.97 L494.33,423 L495.05,423.02 L495.77,423.04 L496.49,423.06 L497.21,423.07 L497.93,423.08 L498.65,423.09 L499.37,423.09 L500.09,423.1 L500.81,423.1 L501.53,423.1 L502.25,423.11 L502.97,423.11 L503.69,423.11 L504.42,423.11 L505.14,423.11 L505.86,423.11 L506.58,423.11 L507.3,423.11 L508.02,423.11 L508.74,423.11 L509.46,423.11" fill="none" stroke="#111" stroke-width="0.95" stroke-linejoin="round"/>
<text x="413.3" y="423.91" font-size="9.4" fill="#1a1a1a" text-anchor="end" font-weight="normal">Mel81</text>
<path d="M422.98,432.92L422.98,432.36L423.7,432.12L424.42,431.79L425.14,431.35L425.86,430.78L426.58,430.05L427.3,429.14L428.02,428.03L428.74,426.7L429.46,425.13L430.18,423.34L430.91,421.34L431.63,419.16L432.35,416.84L433.07,414.45L433.79,412.07L434.51,409.77L435.23,407.66L435.95,405.81L436.67,404.32L437.39,403.25L438.11,402.64L438.83,402.53L439.55,402.92L440.27,403.76L440.99,405.03L441.72,406.64L442.44,408.51L443.16,410.55L443.88,412.67L444.6,414.79L445.32,416.82L446.04,418.71L446.76,420.41L447.48,421.9L448.2,423.16L448.92,424.19L449.64,425.02L450.36,425.65L451.08,426.13L451.81,426.47L452.53,426.72L453.25,426.89L453.97,427.01L454.69,427.1L455.41,427.17L456.13,427.25L456.85,427.33L457.57,427.42L458.29,427.52L459.01,427.63L459.73,427.75L460.45,427.87L461.17,428L461.89,428.12L462.62,428.24L463.34,428.37L464.06,428.48L464.78,428.6L465.5,428.71L466.22,428.82L466.94,428.94L467.66,429.06L468.38,429.19L469.1,429.33L469.82,429.48L470.54,429.64L471.26,429.81L471.98,429.99L472.7,430.19L473.43,430.39L474.15,430.59L474.87,430.79L475.59,431L476.31,431.2L477.03,431.39L477.75,431.58L478.47,431.75L479.19,431.91L479.91,432.06L480.63,432.19L481.35,432.31L482.07,432.42L482.79,432.51L483.52,432.58L484.24,432.65L484.96,432.7L485.68,432.75L486.4,432.79L487.12,432.82L487.84,432.84L488.56,432.86L489.28,432.88L490,432.89L490.72,432.9L491.44,432.9L492.16,432.91L492.88,432.91L493.6,432.91L494.33,432.92L495.05,432.92L495.77,432.92L496.49,432.92L497.21,432.92L497.93,432.92L498.65,432.92L499.37,432.92L500.09,432.92L500.81,432.92L501.53,432.92L502.25,432.92L502.97,432.92L503.69,432.92L504.42,432.92L505.14,432.92L505.86,432.92L506.58,432.92L507.3,432.92L508.02,432.92L508.74,432.92L509.46,432.92L509.46,432.92Z" fill="#88b2e4"/>
<path d="M422.98,432.36 L423.7,432.12 L424.42,431.79 L425.14,431.35 L425.86,430.78 L426.58,430.05 L427.3,429.14 L428.02,428.03 L428.74,426.7 L429.46,425.13 L430.18,423.34 L430.91,421.34 L431.63,419.16 L432.35,416.84 L433.07,414.45 L433.79,412.07 L434.51,409.77 L435.23,407.66 L435.95,405.81 L436.67,404.32 L437.39,403.25 L438.11,402.64 L438.83,402.53 L439.55,402.92 L440.27,403.76 L440.99,405.03 L441.72,406.64 L442.44,408.51 L443.16,410.55 L443.88,412.67 L444.6,414.79 L445.32,416.82 L446.04,418.71 L446.76,420.41 L447.48,421.9 L448.2,423.16 L448.92,424.19 L449.64,425.02 L450.36,425.65 L451.08,426.13 L451.81,426.47 L452.53,426.72 L453.25,426.89 L453.97,427.01 L454.69,427.1 L455.41,427.17 L456.13,427.25 L456.85,427.33 L457.57,427.42 L458.29,427.52 L459.01,427.63 L459.73,427.75 L460.45,427.87 L461.17,428 L461.89,428.12 L462.62,428.24 L463.34,428.37 L464.06,428.48 L464.78,428.6 L465.5,428.71 L466.22,428.82 L466.94,428.94 L467.66,429.06 L468.38,429.19 L469.1,429.33 L469.82,429.48 L470.54,429.64 L471.26,429.81 L471.98,429.99 L472.7,430.19 L473.43,430.39 L474.15,430.59 L474.87,430.79 L475.59,431 L476.31,431.2 L477.03,431.39 L477.75,431.58 L478.47,431.75 L479.19,431.91 L479.91,432.06 L480.63,432.19 L481.35,432.31 L482.07,432.42 L482.79,432.51 L483.52,432.58 L484.24,432.65 L484.96,432.7 L485.68,432.75 L486.4,432.79 L487.12,432.82 L487.84,432.84 L488.56,432.86 L489.28,432.88 L490,432.89 L490.72,432.9 L491.44,432.9 L492.16,432.91 L492.88,432.91 L493.6,432.91 L494.33,432.92 L495.05,432.92 L495.77,432.92 L496.49,432.92 L497.21,432.92 L497.93,432.92 L498.65,432.92 L499.37,432.92 L500.09,432.92 L500.81,432.92 L501.53,432.92 L502.25,432.92 L502.97,432.92 L503.69,432.92 L504.42,432.92 L505.14,432.92 L505.86,432.92 L506.58,432.92 L507.3,432.92 L508.02,432.92 L508.74,432.92 L509.46,432.92" fill="none" stroke="#111" stroke-width="0.95" stroke-linejoin="round"/>
<text x="413.3" y="433.72" font-size="9.4" fill="#1a1a1a" text-anchor="end" font-weight="normal">Mel82</text>
<path d="M422.98,442.73L422.98,442.02L423.7,441.76L424.42,441.43L425.14,441.01L425.86,440.49L426.58,439.85L427.3,439.09L428.02,438.19L428.74,437.14L429.46,435.96L430.18,434.65L430.91,433.23L431.63,431.72L432.35,430.15L433.07,428.57L433.79,427.03L434.51,425.57L435.23,424.25L435.95,423.12L436.67,422.22L437.39,421.6L438.11,421.28L438.83,421.26L439.55,421.57L440.27,422.17L440.99,423.04L441.72,424.16L442.44,425.46L443.16,426.91L443.88,428.45L444.6,430.03L445.32,431.6L446.04,433.12L446.76,434.55L447.48,435.87L448.2,437.06L448.92,438.11L449.64,439.02L450.36,439.8L451.08,440.44L451.81,440.97L452.53,441.4L453.25,441.74L453.97,442L454.69,442.19L455.41,442.34L456.13,442.44L456.85,442.51L457.57,442.55L458.29,442.56L459.01,442.55L459.73,442.53L460.45,442.48L461.17,442.41L461.89,442.32L462.62,442.2L463.34,442.06L464.06,441.89L464.78,441.69L465.5,441.47L466.22,441.23L466.94,440.97L467.66,440.68L468.38,440.39L469.1,440.09L469.82,439.78L470.54,439.47L471.26,439.17L471.98,438.86L472.7,438.55L473.43,438.24L474.15,437.92L474.87,437.59L475.59,437.25L476.31,436.88L477.03,436.49L477.75,436.09L478.47,435.67L479.19,435.24L479.91,434.82L480.63,434.41L481.35,434.03L482.07,433.7L482.79,433.42L483.52,433.22L484.24,433.11L484.96,433.09L485.68,433.17L486.4,433.35L487.12,433.62L487.84,433.99L488.56,434.43L489.28,434.94L490,435.5L490.72,436.1L491.44,436.72L492.16,437.35L492.88,437.97L493.6,438.56L494.33,439.12L495.05,439.65L495.77,440.12L496.49,440.55L497.21,440.93L497.93,441.26L498.65,441.55L499.37,441.79L500.09,441.99L500.81,442.15L501.53,442.29L502.25,442.39L502.97,442.48L503.69,442.54L504.42,442.59L505.14,442.63L505.86,442.66L506.58,442.68L507.3,442.69L508.02,442.71L508.74,442.71L509.46,442.72L509.46,442.73Z" fill="#74a4e0"/>
<path d="M422.98,442.02 L423.7,441.76 L424.42,441.43 L425.14,441.01 L425.86,440.49 L426.58,439.85 L427.3,439.09 L428.02,438.19 L428.74,437.14 L429.46,435.96 L430.18,434.65 L430.91,433.23 L431.63,431.72 L432.35,430.15 L433.07,428.57 L433.79,427.03 L434.51,425.57 L435.23,424.25 L435.95,423.12 L436.67,422.22 L437.39,421.6 L438.11,421.28 L438.83,421.26 L439.55,421.57 L440.27,422.17 L440.99,423.04 L441.72,424.16 L442.44,425.46 L443.16,426.91 L443.88,428.45 L444.6,430.03 L445.32,431.6 L446.04,433.12 L446.76,434.55 L447.48,435.87 L448.2,437.06 L448.92,438.11 L449.64,439.02 L450.36,439.8 L451.08,440.44 L451.81,440.97 L452.53,441.4 L453.25,441.74 L453.97,442 L454.69,442.19 L455.41,442.34 L456.13,442.44 L456.85,442.51 L457.57,442.55 L458.29,442.56 L459.01,442.55 L459.73,442.53 L460.45,442.48 L461.17,442.41 L461.89,442.32 L462.62,442.2 L463.34,442.06 L464.06,441.89 L464.78,441.69 L465.5,441.47 L466.22,441.23 L466.94,440.97 L467.66,440.68 L468.38,440.39 L469.1,440.09 L469.82,439.78 L470.54,439.47 L471.26,439.17 L471.98,438.86 L472.7,438.55 L473.43,438.24 L474.15,437.92 L474.87,437.59 L475.59,437.25 L476.31,436.88 L477.03,436.49 L477.75,436.09 L478.47,435.67 L479.19,435.24 L479.91,434.82 L480.63,434.41 L481.35,434.03 L482.07,433.7 L482.79,433.42 L483.52,433.22 L484.24,433.11 L484.96,433.09 L485.68,433.17 L486.4,433.35 L487.12,433.62 L487.84,433.99 L488.56,434.43 L489.28,434.94 L490,435.5 L490.72,436.1 L491.44,436.72 L492.16,437.35 L492.88,437.97 L493.6,438.56 L494.33,439.12 L495.05,439.65 L495.77,440.12 L496.49,440.55 L497.21,440.93 L497.93,441.26 L498.65,441.55 L499.37,441.79 L500.09,441.99 L500.81,442.15 L501.53,442.29 L502.25,442.39 L502.97,442.48 L503.69,442.54 L504.42,442.59 L505.14,442.63 L505.86,442.66 L506.58,442.68 L507.3,442.69 L508.02,442.71 L508.74,442.71 L509.46,442.72" fill="none" stroke="#111" stroke-width="0.95" stroke-linejoin="round"/>
<text x="413.3" y="443.53" font-size="9.4" fill="#1a1a1a" text-anchor="end" font-weight="normal">Mel105</text>
<path d="M422.98,452.54L422.98,452.26L423.7,452.15L424.42,452L425.14,451.82L425.86,451.58L426.58,451.29L427.3,450.93L428.02,450.5L428.74,450L429.46,449.42L430.18,448.77L430.91,448.05L431.63,447.28L432.35,446.46L433.07,445.62L433.79,444.78L434.51,443.97L435.23,443.21L435.95,442.52L436.67,441.94L437.39,441.47L438.11,441.13L438.83,440.93L439.55,440.86L440.27,440.92L440.99,441.09L441.72,441.36L442.44,441.7L443.16,442.08L443.88,442.5L444.6,442.91L445.32,443.3L446.04,443.67L446.76,443.99L447.48,444.26L448.2,444.49L448.92,444.66L449.64,444.79L450.36,444.89L451.08,444.96L451.81,445.01L452.53,445.04L453.25,445.06L453.97,445.08L454.69,445.11L455.41,445.13L456.13,445.16L456.85,445.21L457.57,445.26L458.29,445.32L459.01,445.41L459.73,445.51L460.45,445.63L461.17,445.79L461.89,445.97L462.62,446.18L463.34,446.42L464.06,446.7L464.78,447L465.5,447.33L466.22,447.67L466.94,448.03L467.66,448.39L468.38,448.74L469.1,449.07L469.82,449.37L470.54,449.63L471.26,449.84L471.98,449.98L472.7,450.05L473.43,450.04L474.15,449.94L474.87,449.74L475.59,449.45L476.31,449.06L477.03,448.57L477.75,447.98L478.47,447.3L479.19,446.53L479.91,445.7L480.63,444.82L481.35,443.9L482.07,442.97L482.79,442.05L483.52,441.17L484.24,440.35L484.96,439.63L485.68,439.02L486.4,438.54L487.12,438.22L487.84,438.06L488.56,438.06L489.28,438.24L490,438.58L490.72,439.07L491.44,439.69L492.16,440.43L492.88,441.26L493.6,442.15L494.33,443.09L495.05,444.04L495.77,444.98L496.49,445.9L497.21,446.78L497.93,447.59L498.65,448.35L499.37,449.02L500.09,449.63L500.81,450.16L501.53,450.61L502.25,451L502.97,451.32L503.69,451.59L504.42,451.8L505.14,451.98L505.86,452.12L506.58,452.22L507.3,452.31L508.02,452.37L508.74,452.42L509.46,452.45L509.46,452.54Z" fill="#6496dc"/>
<path d="M422.98,452.26 L423.7,452.15 L424.42,452 L425.14,451.82 L425.86,451.58 L426.58,451.29 L427.3,450.93 L428.02,450.5 L428.74,450 L429.46,449.42 L430.18,448.77 L430.91,448.05 L431.63,447.28 L432.35,446.46 L433.07,445.62 L433.79,444.78 L434.51,443.97 L435.23,443.21 L435.95,442.52 L436.67,441.94 L437.39,441.47 L438.11,441.13 L438.83,440.93 L439.55,440.86 L440.27,440.92 L440.99,441.09 L441.72,441.36 L442.44,441.7 L443.16,442.08 L443.88,442.5 L444.6,442.91 L445.32,443.3 L446.04,443.67 L446.76,443.99 L447.48,444.26 L448.2,444.49 L448.92,444.66 L449.64,444.79 L450.36,444.89 L451.08,444.96 L451.81,445.01 L452.53,445.04 L453.25,445.06 L453.97,445.08 L454.69,445.11 L455.41,445.13 L456.13,445.16 L456.85,445.21 L457.57,445.26 L458.29,445.32 L459.01,445.41 L459.73,445.51 L460.45,445.63 L461.17,445.79 L461.89,445.97 L462.62,446.18 L463.34,446.42 L464.06,446.7 L464.78,447 L465.5,447.33 L466.22,447.67 L466.94,448.03 L467.66,448.39 L468.38,448.74 L469.1,449.07 L469.82,449.37 L470.54,449.63 L471.26,449.84 L471.98,449.98 L472.7,450.05 L473.43,450.04 L474.15,449.94 L474.87,449.74 L475.59,449.45 L476.31,449.06 L477.03,448.57 L477.75,447.98 L478.47,447.3 L479.19,446.53 L479.91,445.7 L480.63,444.82 L481.35,443.9 L482.07,442.97 L482.79,442.05 L483.52,441.17 L484.24,440.35 L484.96,439.63 L485.68,439.02 L486.4,438.54 L487.12,438.22 L487.84,438.06 L488.56,438.06 L489.28,438.24 L490,438.58 L490.72,439.07 L491.44,439.69 L492.16,440.43 L492.88,441.26 L493.6,442.15 L494.33,443.09 L495.05,444.04 L495.77,444.98 L496.49,445.9 L497.21,446.78 L497.93,447.59 L498.65,448.35 L499.37,449.02 L500.09,449.63 L500.81,450.16 L501.53,450.61 L502.25,451 L502.97,451.32 L503.69,451.59 L504.42,451.8 L505.14,451.98 L505.86,452.12 L506.58,452.22 L507.3,452.31 L508.02,452.37 L508.74,452.42 L509.46,452.45" fill="none" stroke="#111" stroke-width="0.95" stroke-linejoin="round"/>
<text x="413.3" y="453.34" font-size="9.4" fill="#1a1a1a" text-anchor="end" font-weight="normal">Mel112</text>
<path d="M422.98,462.35L422.98,461.95L423.7,461.8L424.42,461.61L425.14,461.36L425.86,461.05L426.58,460.66L427.3,460.2L428.02,459.65L428.74,459.01L429.46,458.28L430.18,457.46L430.91,456.57L431.63,455.62L432.35,454.64L433.07,453.64L433.79,452.66L434.51,451.73L435.23,450.89L435.95,450.16L436.67,449.59L437.39,449.19L438.11,448.98L438.83,448.97L439.55,449.17L440.27,449.55L440.99,450.11L441.72,450.83L442.44,451.66L443.16,452.58L443.88,453.56L444.6,454.56L445.32,455.55L446.04,456.5L446.76,457.39L447.48,458.21L448.2,458.94L448.92,459.58L449.64,460.13L450.36,460.58L451.08,460.95L451.81,461.24L452.53,461.46L453.25,461.61L453.97,461.71L454.69,461.75L455.41,461.76L456.13,461.73L456.85,461.67L457.57,461.59L458.29,461.49L459.01,461.38L459.73,461.26L460.45,461.14L461.17,461.03L461.89,460.92L462.62,460.83L463.34,460.76L464.06,460.69L464.78,460.65L465.5,460.61L466.22,460.58L466.94,460.54L467.66,460.5L468.38,460.43L469.1,460.33L469.82,460.19L470.54,459.99L471.26,459.73L471.98,459.39L472.7,458.99L473.43,458.5L474.15,457.93L474.87,457.28L475.59,456.55L476.31,455.77L477.03,454.92L477.75,454.04L478.47,453.14L479.19,452.23L479.91,451.34L480.63,450.49L481.35,449.71L482.07,449L482.79,448.41L483.52,447.93L484.24,447.59L484.96,447.39L485.68,447.35L486.4,447.47L487.12,447.73L487.84,448.14L488.56,448.67L489.28,449.32L490,450.07L490.72,450.9L491.44,451.77L492.16,452.68L492.88,453.61L493.6,454.52L494.33,455.42L495.05,456.27L495.77,457.07L496.49,457.82L497.21,458.49L497.93,459.11L498.65,459.65L499.37,460.12L500.09,460.53L500.81,460.88L501.53,461.18L502.25,461.42L502.97,461.62L503.69,461.79L504.42,461.92L505.14,462.02L505.86,462.1L506.58,462.17L507.3,462.22L508.02,462.25L508.74,462.28L509.46,462.3L509.46,462.35Z" fill="#528ad4"/>
<path d="M422.98,461.95 L423.7,461.8 L424.42,461.61 L425.14,461.36 L425.86,461.05 L426.58,460.66 L427.3,460.2 L428.02,459.65 L428.74,459.01 L429.46,458.28 L430.18,457.46 L430.91,456.57 L431.63,455.62 L432.35,454.64 L433.07,453.64 L433.79,452.66 L434.51,451.73 L435.23,450.89 L435.95,450.16 L436.67,449.59 L437.39,449.19 L438.11,448.98 L438.83,448.97 L439.55,449.17 L440.27,449.55 L440.99,450.11 L441.72,450.83 L442.44,451.66 L443.16,452.58 L443.88,453.56 L444.6,454.56 L445.32,455.55 L446.04,456.5 L446.76,457.39 L447.48,458.21 L448.2,458.94 L448.92,459.58 L449.64,460.13 L450.36,460.58 L451.08,460.95 L451.81,461.24 L452.53,461.46 L453.25,461.61 L453.97,461.71 L454.69,461.75 L455.41,461.76 L456.13,461.73 L456.85,461.67 L457.57,461.59 L458.29,461.49 L459.01,461.38 L459.73,461.26 L460.45,461.14 L461.17,461.03 L461.89,460.92 L462.62,460.83 L463.34,460.76 L464.06,460.69 L464.78,460.65 L465.5,460.61 L466.22,460.58 L466.94,460.54 L467.66,460.5 L468.38,460.43 L469.1,460.33 L469.82,460.19 L470.54,459.99 L471.26,459.73 L471.98,459.39 L472.7,458.99 L473.43,458.5 L474.15,457.93 L474.87,457.28 L475.59,456.55 L476.31,455.77 L477.03,454.92 L477.75,454.04 L478.47,453.14 L479.19,452.23 L479.91,451.34 L480.63,450.49 L481.35,449.71 L482.07,449 L482.79,448.41 L483.52,447.93 L484.24,447.59 L484.96,447.39 L485.68,447.35 L486.4,447.47 L487.12,447.73 L487.84,448.14 L488.56,448.67 L489.28,449.32 L490,450.07 L490.72,450.9 L491.44,451.77 L492.16,452.68 L492.88,453.61 L493.6,454.52 L494.33,455.42 L495.05,456.27 L495.77,457.07 L496.49,457.82 L497.21,458.49 L497.93,459.11 L498.65,459.65 L499.37,460.12 L500.09,460.53 L500.81,460.88 L501.53,461.18 L502.25,461.42 L502.97,461.62 L503.69,461.79 L504.42,461.92 L505.14,462.02 L505.86,462.1 L506.58,462.17 L507.3,462.22 L508.02,462.25 L508.74,462.28 L509.46,462.3" fill="none" stroke="#111" stroke-width="0.95" stroke-linejoin="round"/>
<text x="413.3" y="463.15" font-size="9.4" fill="#1a1a1a" text-anchor="end" font-weight="normal">Mel129</text>
<path d="M422.98,472.16L422.98,472.09L423.7,472.05L424.42,472L425.14,471.94L425.86,471.85L426.58,471.74L427.3,471.59L428.02,471.41L428.74,471.19L429.46,470.93L430.18,470.63L430.91,470.28L431.63,469.9L432.35,469.49L433.07,469.07L433.79,468.65L434.51,468.23L435.23,467.85L435.95,467.52L436.67,467.26L437.39,467.07L438.11,466.97L438.83,466.96L439.55,467.05L440.27,467.23L440.99,467.48L441.72,467.8L442.44,468.17L443.16,468.57L443.88,468.98L444.6,469.38L445.32,469.77L446.04,470.12L446.76,470.43L447.48,470.7L448.2,470.91L448.92,471.06L449.64,471.16L450.36,471.21L451.08,471.21L451.81,471.15L452.53,471.05L453.25,470.9L453.97,470.71L454.69,470.47L455.41,470.18L456.13,469.84L456.85,469.44L457.57,469L458.29,468.5L459.01,467.94L459.73,467.33L460.45,466.66L461.17,465.93L461.89,465.15L462.62,464.32L463.34,463.44L464.06,462.53L464.78,461.57L465.5,460.6L466.22,459.61L466.94,458.61L467.66,457.63L468.38,456.66L469.1,455.73L469.82,454.85L470.54,454.03L471.26,453.29L471.98,452.63L472.7,452.07L473.43,451.61L474.15,451.27L474.87,451.06L475.59,450.96L476.31,451L477.03,451.16L477.75,451.44L478.47,451.84L479.19,452.36L479.91,452.97L480.63,453.68L481.35,454.46L482.07,455.32L482.79,456.23L483.52,457.18L484.24,458.16L484.96,459.15L485.68,460.14L486.4,461.13L487.12,462.09L487.84,463.03L488.56,463.92L489.28,464.78L490,465.58L490.72,466.33L491.44,467.03L492.16,467.67L492.88,468.25L493.6,468.78L494.33,469.26L495.05,469.68L495.77,470.05L496.49,470.38L497.21,470.67L497.93,470.91L498.65,471.13L499.37,471.31L500.09,471.46L500.81,471.59L501.53,471.7L502.25,471.79L502.97,471.86L503.69,471.92L504.42,471.97L505.14,472.01L505.86,472.05L506.58,472.07L507.3,472.09L508.02,472.11L508.74,472.12L509.46,472.13L509.46,472.16Z" fill="#3e7cc8"/>
<path d="M422.98,472.09 L423.7,472.05 L424.42,472 L425.14,471.94 L425.86,471.85 L426.58,471.74 L427.3,471.59 L428.02,471.41 L428.74,471.19 L429.46,470.93 L430.18,470.63 L430.91,470.28 L431.63,469.9 L432.35,469.49 L433.07,469.07 L433.79,468.65 L434.51,468.23 L435.23,467.85 L435.95,467.52 L436.67,467.26 L437.39,467.07 L438.11,466.97 L438.83,466.96 L439.55,467.05 L440.27,467.23 L440.99,467.48 L441.72,467.8 L442.44,468.17 L443.16,468.57 L443.88,468.98 L444.6,469.38 L445.32,469.77 L446.04,470.12 L446.76,470.43 L447.48,470.7 L448.2,470.91 L448.92,471.06 L449.64,471.16 L450.36,471.21 L451.08,471.21 L451.81,471.15 L452.53,471.05 L453.25,470.9 L453.97,470.71 L454.69,470.47 L455.41,470.18 L456.13,469.84 L456.85,469.44 L457.57,469 L458.29,468.5 L459.01,467.94 L459.73,467.33 L460.45,466.66 L461.17,465.93 L461.89,465.15 L462.62,464.32 L463.34,463.44 L464.06,462.53 L464.78,461.57 L465.5,460.6 L466.22,459.61 L466.94,458.61 L467.66,457.63 L468.38,456.66 L469.1,455.73 L469.82,454.85 L470.54,454.03 L471.26,453.29 L471.98,452.63 L472.7,452.07 L473.43,451.61 L474.15,451.27 L474.87,451.06 L475.59,450.96 L476.31,451 L477.03,451.16 L477.75,451.44 L478.47,451.84 L479.19,452.36 L479.91,452.97 L480.63,453.68 L481.35,454.46 L482.07,455.32 L482.79,456.23 L483.52,457.18 L484.24,458.16 L484.96,459.15 L485.68,460.14 L486.4,461.13 L487.12,462.09 L487.84,463.03 L488.56,463.92 L489.28,464.78 L490,465.58 L490.72,466.33 L491.44,467.03 L492.16,467.67 L492.88,468.25 L493.6,468.78 L494.33,469.26 L495.05,469.68 L495.77,470.05 L496.49,470.38 L497.21,470.67 L497.93,470.91 L498.65,471.13 L499.37,471.31 L500.09,471.46 L500.81,471.59 L501.53,471.7 L502.25,471.79 L502.97,471.86 L503.69,471.92 L504.42,471.97 L505.14,472.01 L505.86,472.05 L506.58,472.07 L507.3,472.09 L508.02,472.11 L508.74,472.12 L509.46,472.13" fill="none" stroke="#111" stroke-width="0.95" stroke-linejoin="round"/>
<text x="413.3" y="472.96" font-size="9.4" fill="#1a1a1a" text-anchor="end" font-weight="normal">Mel89</text>
<path d="M422.98,481.97L422.98,481.88L423.7,481.84L424.42,481.78L425.14,481.7L425.86,481.6L426.58,481.46L427.3,481.29L428.02,481.08L428.74,480.81L429.46,480.5L430.18,480.14L430.91,479.73L431.63,479.27L432.35,478.79L433.07,478.28L433.79,477.77L434.51,477.27L435.23,476.81L435.95,476.41L436.67,476.08L437.39,475.84L438.11,475.7L438.83,475.66L439.55,475.73L440.27,475.89L440.99,476.14L441.72,476.45L442.44,476.8L443.16,477.17L443.88,477.54L444.6,477.89L445.32,478.19L446.04,478.45L446.76,478.65L447.48,478.79L448.2,478.86L448.92,478.87L449.64,478.82L450.36,478.72L451.08,478.58L451.81,478.39L452.53,478.17L453.25,477.92L453.97,477.63L454.69,477.31L455.41,476.95L456.13,476.56L456.85,476.13L457.57,475.65L458.29,475.14L459.01,474.59L459.73,474L460.45,473.38L461.17,472.74L461.89,472.07L462.62,471.4L463.34,470.72L464.06,470.04L464.78,469.38L465.5,468.74L466.22,468.12L466.94,467.54L467.66,467.01L468.38,466.52L469.1,466.08L469.82,465.69L470.54,465.36L471.26,465.09L471.98,464.88L472.7,464.73L473.43,464.64L474.15,464.62L474.87,464.66L475.59,464.76L476.31,464.93L477.03,465.15L477.75,465.44L478.47,465.78L479.19,466.17L479.91,466.62L480.63,467.11L481.35,467.64L482.07,468.22L482.79,468.82L483.52,469.45L484.24,470.1L484.96,470.76L485.68,471.43L486.4,472.11L487.12,472.78L487.84,473.45L488.56,474.1L489.28,474.74L490,475.35L490.72,475.94L491.44,476.5L492.16,477.03L492.88,477.53L493.6,478L494.33,478.43L495.05,478.84L495.77,479.2L496.49,479.54L497.21,479.85L497.93,480.12L498.65,480.37L499.37,480.59L500.09,480.78L500.81,480.96L501.53,481.11L502.25,481.24L502.97,481.35L503.69,481.45L504.42,481.54L505.14,481.61L505.86,481.67L506.58,481.73L507.3,481.77L508.02,481.81L508.74,481.84L509.46,481.86L509.46,481.97Z" fill="#3472c0"/>
<path d="M422.98,481.88 L423.7,481.84 L424.42,481.78 L425.14,481.7 L425.86,481.6 L426.58,481.46 L427.3,481.29 L428.02,481.08 L428.74,480.81 L429.46,480.5 L430.18,480.14 L430.91,479.73 L431.63,479.27 L432.35,478.79 L433.07,478.28 L433.79,477.77 L434.51,477.27 L435.23,476.81 L435.95,476.41 L436.67,476.08 L437.39,475.84 L438.11,475.7 L438.83,475.66 L439.55,475.73 L440.27,475.89 L440.99,476.14 L441.72,476.45 L442.44,476.8 L443.16,477.17 L443.88,477.54 L444.6,477.89 L445.32,478.19 L446.04,478.45 L446.76,478.65 L447.48,478.79 L448.2,478.86 L448.92,478.87 L449.64,478.82 L450.36,478.72 L451.08,478.58 L451.81,478.39 L452.53,478.17 L453.25,477.92 L453.97,477.63 L454.69,477.31 L455.41,476.95 L456.13,476.56 L456.85,476.13 L457.57,475.65 L458.29,475.14 L459.01,474.59 L459.73,474 L460.45,473.38 L461.17,472.74 L461.89,472.07 L462.62,471.4 L463.34,470.72 L464.06,470.04 L464.78,469.38 L465.5,468.74 L466.22,468.12 L466.94,467.54 L467.66,467.01 L468.38,466.52 L469.1,466.08 L469.82,465.69 L470.54,465.36 L471.26,465.09 L471.98,464.88 L472.7,464.73 L473.43,464.64 L474.15,464.62 L474.87,464.66 L475.59,464.76 L476.31,464.93 L477.03,465.15 L477.75,465.44 L478.47,465.78 L479.19,466.17 L479.91,466.62 L480.63,467.11 L481.35,467.64 L482.07,468.22 L482.79,468.82 L483.52,469.45 L484.24,470.1 L484.96,470.76 L485.68,471.43 L486.4,472.11 L487.12,472.78 L487.84,473.45 L488.56,474.1 L489.28,474.74 L490,475.35 L490.72,475.94 L491.44,476.5 L492.16,477.03 L492.88,477.53 L493.6,478 L494.33,478.43 L495.05,478.84 L495.77,479.2 L496.49,479.54 L497.21,479.85 L497.93,480.12 L498.65,480.37 L499.37,480.59 L500.09,480.78 L500.81,480.96 L501.53,481.11 L502.25,481.24 L502.97,481.35 L503.69,481.45 L504.42,481.54 L505.14,481.61 L505.86,481.67 L506.58,481.73 L507.3,481.77 L508.02,481.81 L508.74,481.84 L509.46,481.86" fill="none" stroke="#111" stroke-width="0.95" stroke-linejoin="round"/>
<text x="413.3" y="482.77" font-size="9.4" fill="#1a1a1a" text-anchor="end" font-weight="normal">Mel79</text>
<path d="M422.98,491.78L422.98,491.56L423.7,491.47L424.42,491.34L425.14,491.17L425.86,490.95L426.58,490.67L427.3,490.32L428.02,489.89L428.74,489.38L429.46,488.77L430.18,488.08L430.91,487.31L431.63,486.47L432.35,485.58L433.07,484.66L433.79,483.74L434.51,482.87L435.23,482.06L435.95,481.36L436.67,480.8L437.39,480.41L438.11,480.21L438.83,480.2L439.55,480.39L440.27,480.77L440.99,481.31L441.72,482L442.44,482.8L443.16,483.67L443.88,484.59L444.6,485.5L445.32,486.39L446.04,487.24L446.76,488L447.48,488.69L448.2,489.28L448.92,489.77L449.64,490.16L450.36,490.45L451.08,490.65L451.81,490.77L452.53,490.8L453.25,490.75L453.97,490.63L454.69,490.46L455.41,490.24L456.13,490L456.85,489.74L457.57,489.48L458.29,489.25L459.01,489.06L459.73,488.94L460.45,488.88L461.17,488.89L461.89,488.98L462.62,489.14L463.34,489.34L464.06,489.59L464.78,489.86L465.5,490.13L466.22,490.39L466.94,490.62L467.66,490.82L468.38,490.97L469.1,491.07L469.82,491.12L470.54,491.11L471.26,491.05L471.98,490.93L472.7,490.76L473.43,490.52L474.15,490.21L474.87,489.84L475.59,489.4L476.31,488.88L477.03,488.28L477.75,487.62L478.47,486.88L479.19,486.07L479.91,485.21L480.63,484.31L481.35,483.38L482.07,482.45L482.79,481.54L483.52,480.67L484.24,479.86L484.96,479.15L485.68,478.54L486.4,478.08L487.12,477.76L487.84,477.6L488.56,477.6L489.28,477.78L490,478.11L490.72,478.59L491.44,479.2L492.16,479.92L492.88,480.73L493.6,481.61L494.33,482.52L495.05,483.45L495.77,484.38L496.49,485.28L497.21,486.14L497.93,486.94L498.65,487.67L499.37,488.34L500.09,488.93L500.81,489.44L501.53,489.89L502.25,490.27L502.97,490.59L503.69,490.85L504.42,491.06L505.14,491.23L505.86,491.37L506.58,491.47L507.3,491.55L508.02,491.61L508.74,491.66L509.46,491.7L509.46,491.78Z" fill="#2a68b4"/>
<path d="M422.98,491.56 L423.7,491.47 L424.42,491.34 L425.14,491.17 L425.86,490.95 L426.58,490.67 L427.3,490.32 L428.02,489.89 L428.74,489.38 L429.46,488.77 L430.18,488.08 L430.91,487.31 L431.63,486.47 L432.35,485.58 L433.07,484.66 L433.79,483.74 L434.51,482.87 L435.23,482.06 L435.95,481.36 L436.67,480.8 L437.39,480.41 L438.11,480.21 L438.83,480.2 L439.55,480.39 L440.27,480.77 L440.99,481.31 L441.72,482 L442.44,482.8 L443.16,483.67 L443.88,484.59 L444.6,485.5 L445.32,486.39 L446.04,487.24 L446.76,488 L447.48,488.69 L448.2,489.28 L448.92,489.77 L449.64,490.16 L450.36,490.45 L451.08,490.65 L451.81,490.77 L452.53,490.8 L453.25,490.75 L453.97,490.63 L454.69,490.46 L455.41,490.24 L456.13,490 L456.85,489.74 L457.57,489.48 L458.29,489.25 L459.01,489.06 L459.73,488.94 L460.45,488.88 L461.17,488.89 L461.89,488.98 L462.62,489.14 L463.34,489.34 L464.06,489.59 L464.78,489.86 L465.5,490.13 L466.22,490.39 L466.94,490.62 L467.66,490.82 L468.38,490.97 L469.1,491.07 L469.82,491.12 L470.54,491.11 L471.26,491.05 L471.98,490.93 L472.7,490.76 L473.43,490.52 L474.15,490.21 L474.87,489.84 L475.59,489.4 L476.31,488.88 L477.03,488.28 L477.75,487.62 L478.47,486.88 L479.19,486.07 L479.91,485.21 L480.63,484.31 L481.35,483.38 L482.07,482.45 L482.79,481.54 L483.52,480.67 L484.24,479.86 L484.96,479.15 L485.68,478.54 L486.4,478.08 L487.12,477.76 L487.84,477.6 L488.56,477.6 L489.28,477.78 L490,478.11 L490.72,478.59 L491.44,479.2 L492.16,479.92 L492.88,480.73 L493.6,481.61 L494.33,482.52 L495.05,483.45 L495.77,484.38 L496.49,485.28 L497.21,486.14 L497.93,486.94 L498.65,487.67 L499.37,488.34 L500.09,488.93 L500.81,489.44 L501.53,489.89 L502.25,490.27 L502.97,490.59 L503.69,490.85 L504.42,491.06 L505.14,491.23 L505.86,491.37 L506.58,491.47 L507.3,491.55 L508.02,491.61 L508.74,491.66 L509.46,491.7" fill="none" stroke="#111" stroke-width="0.95" stroke-linejoin="round"/>
<text x="413.3" y="492.58" font-size="9.4" fill="#1a1a1a" text-anchor="end" font-weight="normal">Mel128</text>
<path d="M422.98,501.59L422.98,501.52L423.7,501.48L424.42,501.43L425.14,501.37L425.86,501.28L426.58,501.17L427.3,501.02L428.02,500.84L428.74,500.62L429.46,500.36L430.18,500.06L430.91,499.71L431.63,499.33L432.35,498.93L433.07,498.5L433.79,498.08L434.51,497.66L435.23,497.28L435.95,496.95L436.67,496.69L437.39,496.5L438.11,496.4L438.83,496.4L439.55,496.49L440.27,496.67L440.99,496.93L441.72,497.26L442.44,497.63L443.16,498.04L443.88,498.47L444.6,498.89L445.32,499.3L446.04,499.68L446.76,500.02L447.48,500.32L448.2,500.58L448.92,500.8L449.64,500.97L450.36,501.11L451.08,501.2L451.81,501.27L452.53,501.31L453.25,501.32L453.97,501.3L454.69,501.27L455.41,501.21L456.13,501.12L456.85,501.01L457.57,500.87L458.29,500.7L459.01,500.49L459.73,500.24L460.45,499.94L461.17,499.59L461.89,499.19L462.62,498.73L463.34,498.2L464.06,497.61L464.78,496.94L465.5,496.21L466.22,495.4L466.94,494.53L467.66,493.59L468.38,492.6L469.1,491.56L469.82,490.48L470.54,489.38L471.26,488.27L471.98,487.17L472.7,486.09L473.43,485.05L474.15,484.08L474.87,483.19L475.59,482.39L476.31,481.71L477.03,481.16L477.75,480.75L478.47,480.5L479.19,480.39L479.91,480.45L480.63,480.66L481.35,481.02L482.07,481.53L482.79,482.17L483.52,482.93L484.24,483.8L484.96,484.75L485.68,485.76L486.4,486.83L487.12,487.93L487.84,489.04L488.56,490.15L489.28,491.23L490,492.28L490.72,493.29L491.44,494.25L492.16,495.14L492.88,495.97L493.6,496.72L494.33,497.41L495.05,498.02L495.77,498.57L496.49,499.06L497.21,499.48L497.93,499.84L498.65,500.15L499.37,500.42L500.09,500.64L500.81,500.83L501.53,500.98L502.25,501.11L502.97,501.21L503.69,501.3L504.42,501.36L505.14,501.42L505.86,501.46L506.58,501.49L507.3,501.51L508.02,501.53L508.74,501.55L509.46,501.56L509.46,501.59Z" fill="#225ca8"/>
<path d="M422.98,501.52 L423.7,501.48 L424.42,501.43 L425.14,501.37 L425.86,501.28 L426.58,501.17 L427.3,501.02 L428.02,500.84 L428.74,500.62 L429.46,500.36 L430.18,500.06 L430.91,499.71 L431.63,499.33 L432.35,498.93 L433.07,498.5 L433.79,498.08 L434.51,497.66 L435.23,497.28 L435.95,496.95 L436.67,496.69 L437.39,496.5 L438.11,496.4 L438.83,496.4 L439.55,496.49 L440.27,496.67 L440.99,496.93 L441.72,497.26 L442.44,497.63 L443.16,498.04 L443.88,498.47 L444.6,498.89 L445.32,499.3 L446.04,499.68 L446.76,500.02 L447.48,500.32 L448.2,500.58 L448.92,500.8 L449.64,500.97 L450.36,501.11 L451.08,501.2 L451.81,501.27 L452.53,501.31 L453.25,501.32 L453.97,501.3 L454.69,501.27 L455.41,501.21 L456.13,501.12 L456.85,501.01 L457.57,500.87 L458.29,500.7 L459.01,500.49 L459.73,500.24 L460.45,499.94 L461.17,499.59 L461.89,499.19 L462.62,498.73 L463.34,498.2 L464.06,497.61 L464.78,496.94 L465.5,496.21 L466.22,495.4 L466.94,494.53 L467.66,493.59 L468.38,492.6 L469.1,491.56 L469.82,490.48 L470.54,489.38 L471.26,488.27 L471.98,487.17 L472.7,486.09 L473.43,485.05 L474.15,484.08 L474.87,483.19 L475.59,482.39 L476.31,481.71 L477.03,481.16 L477.75,480.75 L478.47,480.5 L479.19,480.39 L479.91,480.45 L480.63,480.66 L481.35,481.02 L482.07,481.53 L482.79,482.17 L483.52,482.93 L484.24,483.8 L484.96,484.75 L485.68,485.76 L486.4,486.83 L487.12,487.93 L487.84,489.04 L488.56,490.15 L489.28,491.23 L490,492.28 L490.72,493.29 L491.44,494.25 L492.16,495.14 L492.88,495.97 L493.6,496.72 L494.33,497.41 L495.05,498.02 L495.77,498.57 L496.49,499.06 L497.21,499.48 L497.93,499.84 L498.65,500.15 L499.37,500.42 L500.09,500.64 L500.81,500.83 L501.53,500.98 L502.25,501.11 L502.97,501.21 L503.69,501.3 L504.42,501.36 L505.14,501.42 L505.86,501.46 L506.58,501.49 L507.3,501.51 L508.02,501.53 L508.74,501.55 L509.46,501.56" fill="none" stroke="#111" stroke-width="0.95" stroke-linejoin="round"/>
<text x="413.3" y="502.39" font-size="9.4" fill="#1a1a1a" text-anchor="end" font-weight="normal">Mel84</text>
<path d="M422.98,511.4L422.98,511.29L423.7,511.24L424.42,511.17L425.14,511.07L425.86,510.95L426.58,510.78L427.3,510.57L428.02,510.31L428.74,509.98L429.46,509.6L430.18,509.16L430.91,508.65L431.63,508.1L432.35,507.5L433.07,506.89L433.79,506.26L434.51,505.66L435.23,505.11L435.95,504.62L436.67,504.24L437.39,503.96L438.11,503.82L438.83,503.81L439.55,503.94L440.27,504.21L440.99,504.58L441.72,505.06L442.44,505.61L443.16,506.2L443.88,506.81L444.6,507.42L445.32,508.01L446.04,508.55L446.76,509.04L447.48,509.47L448.2,509.82L448.92,510.11L449.64,510.33L450.36,510.49L451.08,510.6L451.81,510.65L452.53,510.65L453.25,510.62L453.97,510.55L454.69,510.44L455.41,510.31L456.13,510.14L456.85,509.95L457.57,509.74L458.29,509.49L459.01,509.23L459.73,508.93L460.45,508.61L461.17,508.27L461.89,507.89L462.62,507.49L463.34,507.05L464.06,506.59L464.78,506.08L465.5,505.55L466.22,504.97L466.94,504.36L467.66,503.71L468.38,503.02L469.1,502.3L469.82,501.54L470.54,500.75L471.26,499.93L471.98,499.09L472.7,498.25L473.43,497.4L474.15,496.57L474.87,495.75L475.59,494.98L476.31,494.25L477.03,493.58L477.75,492.99L478.47,492.49L479.19,492.09L479.91,491.79L480.63,491.62L481.35,491.56L482.07,491.62L482.79,491.81L483.52,492.12L484.24,492.55L484.96,493.08L485.68,493.72L486.4,494.44L487.12,495.24L487.84,496.1L488.56,497.01L489.28,497.96L490,498.92L490.72,499.9L491.44,500.86L492.16,501.81L492.88,502.73L493.6,503.61L494.33,504.45L495.05,505.24L495.77,505.98L496.49,506.66L497.21,507.28L497.93,507.84L498.65,508.35L499.37,508.8L500.09,509.2L500.81,509.55L501.53,509.85L502.25,510.12L502.97,510.34L503.69,510.53L504.42,510.7L505.14,510.83L505.86,510.94L506.58,511.04L507.3,511.11L508.02,511.17L508.74,511.22L509.46,511.26L509.46,511.4Z" fill="#1c5096"/>
<path d="M422.98,511.29 L423.7,511.24 L424.42,511.17 L425.14,511.07 L425.86,510.95 L426.58,510.78 L427.3,510.57 L428.02,510.31 L428.74,509.98 L429.46,509.6 L430.18,509.16 L430.91,508.65 L431.63,508.1 L432.35,507.5 L433.07,506.89 L433.79,506.26 L434.51,505.66 L435.23,505.11 L435.95,504.62 L436.67,504.24 L437.39,503.96 L438.11,503.82 L438.83,503.81 L439.55,503.94 L440.27,504.21 L440.99,504.58 L441.72,505.06 L442.44,505.61 L443.16,506.2 L443.88,506.81 L444.6,507.42 L445.32,508.01 L446.04,508.55 L446.76,509.04 L447.48,509.47 L448.2,509.82 L448.92,510.11 L449.64,510.33 L450.36,510.49 L451.08,510.6 L451.81,510.65 L452.53,510.65 L453.25,510.62 L453.97,510.55 L454.69,510.44 L455.41,510.31 L456.13,510.14 L456.85,509.95 L457.57,509.74 L458.29,509.49 L459.01,509.23 L459.73,508.93 L460.45,508.61 L461.17,508.27 L461.89,507.89 L462.62,507.49 L463.34,507.05 L464.06,506.59 L464.78,506.08 L465.5,505.55 L466.22,504.97 L466.94,504.36 L467.66,503.71 L468.38,503.02 L469.1,502.3 L469.82,501.54 L470.54,500.75 L471.26,499.93 L471.98,499.09 L472.7,498.25 L473.43,497.4 L474.15,496.57 L474.87,495.75 L475.59,494.98 L476.31,494.25 L477.03,493.58 L477.75,492.99 L478.47,492.49 L479.19,492.09 L479.91,491.79 L480.63,491.62 L481.35,491.56 L482.07,491.62 L482.79,491.81 L483.52,492.12 L484.24,492.55 L484.96,493.08 L485.68,493.72 L486.4,494.44 L487.12,495.24 L487.84,496.1 L488.56,497.01 L489.28,497.96 L490,498.92 L490.72,499.9 L491.44,500.86 L492.16,501.81 L492.88,502.73 L493.6,503.61 L494.33,504.45 L495.05,505.24 L495.77,505.98 L496.49,506.66 L497.21,507.28 L497.93,507.84 L498.65,508.35 L499.37,508.8 L500.09,509.2 L500.81,509.55 L501.53,509.85 L502.25,510.12 L502.97,510.34 L503.69,510.53 L504.42,510.7 L505.14,510.83 L505.86,510.94 L506.58,511.04 L507.3,511.11 L508.02,511.17 L508.74,511.22 L509.46,511.26" fill="none" stroke="#111" stroke-width="0.95" stroke-linejoin="round"/>
<text x="413.3" y="512.2" font-size="9.4" fill="#1a1a1a" text-anchor="end" font-weight="normal">Mel80</text>
<path d="M422.98,521.21L422.98,521.08L423.7,521.02L424.42,520.94L425.14,520.82L425.86,520.67L426.58,520.47L427.3,520.22L428.02,519.9L428.74,519.51L429.46,519.06L430.18,518.52L430.91,517.92L431.63,517.26L432.35,516.54L433.07,515.8L433.79,515.06L434.51,514.34L435.23,513.67L435.95,513.09L436.67,512.62L437.39,512.29L438.11,512.12L438.83,512.1L439.55,512.26L440.27,512.56L440.99,513.01L441.72,513.57L442.44,514.21L443.16,514.91L443.88,515.63L444.6,516.34L445.32,517.02L446.04,517.65L446.76,518.21L447.48,518.7L448.2,519.1L448.92,519.42L449.64,519.66L450.36,519.83L451.08,519.93L451.81,519.98L452.53,519.98L453.25,519.93L453.97,519.85L454.69,519.75L455.41,519.61L456.13,519.47L456.85,519.3L457.57,519.13L458.29,518.95L459.01,518.76L459.73,518.57L460.45,518.37L461.17,518.18L461.89,517.99L462.62,517.8L463.34,517.61L464.06,517.43L464.78,517.24L465.5,517.06L466.22,516.87L466.94,516.68L467.66,516.48L468.38,516.27L469.1,516.04L469.82,515.8L470.54,515.53L471.26,515.24L471.98,514.91L472.7,514.55L473.43,514.16L474.15,513.72L474.87,513.25L475.59,512.74L476.31,512.19L477.03,511.61L477.75,511.01L478.47,510.38L479.19,509.74L479.91,509.1L480.63,508.47L481.35,507.85L482.07,507.26L482.79,506.72L483.52,506.22L484.24,505.79L484.96,505.44L485.68,505.16L486.4,504.98L487.12,504.89L487.84,504.9L488.56,505.01L489.28,505.24L490,505.57L490.72,506L491.44,506.52L492.16,507.13L492.88,507.81L493.6,508.55L494.33,509.33L495.05,510.14L495.77,510.98L496.49,511.82L497.21,512.65L497.93,513.46L498.65,514.25L499.37,515.01L500.09,515.72L500.81,516.38L501.53,517L502.25,517.56L502.97,518.08L503.69,518.53L504.42,518.94L505.14,519.3L505.86,519.62L506.58,519.89L507.3,520.12L508.02,520.32L508.74,520.49L509.46,520.63L509.46,521.21Z" fill="#164482"/>
<path d="M422.98,521.08 L423.7,521.02 L424.42,520.94 L425.14,520.82 L425.86,520.67 L426.58,520.47 L427.3,520.22 L428.02,519.9 L428.74,519.51 L429.46,519.06 L430.18,518.52 L430.91,517.92 L431.63,517.26 L432.35,516.54 L433.07,515.8 L433.79,515.06 L434.51,514.34 L435.23,513.67 L435.95,513.09 L436.67,512.62 L437.39,512.29 L438.11,512.12 L438.83,512.1 L439.55,512.26 L440.27,512.56 L440.99,513.01 L441.72,513.57 L442.44,514.21 L443.16,514.91 L443.88,515.63 L444.6,516.34 L445.32,517.02 L446.04,517.65 L446.76,518.21 L447.48,518.7 L448.2,519.1 L448.92,519.42 L449.64,519.66 L450.36,519.83 L451.08,519.93 L451.81,519.98 L452.53,519.98 L453.25,519.93 L453.97,519.85 L454.69,519.75 L455.41,519.61 L456.13,519.47 L456.85,519.3 L457.57,519.13 L458.29,518.95 L459.01,518.76 L459.73,518.57 L460.45,518.37 L461.17,518.18 L461.89,517.99 L462.62,517.8 L463.34,517.61 L464.06,517.43 L464.78,517.24 L465.5,517.06 L466.22,516.87 L466.94,516.68 L467.66,516.48 L468.38,516.27 L469.1,516.04 L469.82,515.8 L470.54,515.53 L471.26,515.24 L471.98,514.91 L472.7,514.55 L473.43,514.16 L474.15,513.72 L474.87,513.25 L475.59,512.74 L476.31,512.19 L477.03,511.61 L477.75,511.01 L478.47,510.38 L479.19,509.74 L479.91,509.1 L480.63,508.47 L481.35,507.85 L482.07,507.26 L482.79,506.72 L483.52,506.22 L484.24,505.79 L484.96,505.44 L485.68,505.16 L486.4,504.98 L487.12,504.89 L487.84,504.9 L488.56,505.01 L489.28,505.24 L490,505.57 L490.72,506 L491.44,506.52 L492.16,507.13 L492.88,507.81 L493.6,508.55 L494.33,509.33 L495.05,510.14 L495.77,510.98 L496.49,511.82 L497.21,512.65 L497.93,513.46 L498.65,514.25 L499.37,515.01 L500.09,515.72 L500.81,516.38 L501.53,517 L502.25,517.56 L502.97,518.08 L503.69,518.53 L504.42,518.94 L505.14,519.3 L505.86,519.62 L506.58,519.89 L507.3,520.12 L508.02,520.32 L508.74,520.49 L509.46,520.63" fill="none" stroke="#111" stroke-width="0.95" stroke-linejoin="round"/>
<text x="413.3" y="522.01" font-size="9.4" fill="#1a1a1a" text-anchor="end" font-weight="normal">Mel103</text>
<path d="M422.98,531.02L422.98,530.99L423.7,530.97L424.42,530.95L425.14,530.92L425.86,530.88L426.58,530.83L427.3,530.77L428.02,530.69L428.74,530.59L429.46,530.47L430.18,530.34L430.91,530.19L431.63,530.02L432.35,529.84L433.07,529.65L433.79,529.46L434.51,529.28L435.23,529.11L435.95,528.96L436.67,528.84L437.39,528.76L438.11,528.71L438.83,528.7L439.55,528.74L440.27,528.81L440.99,528.92L441.72,529.06L442.44,529.22L443.16,529.39L443.88,529.56L444.6,529.74L445.32,529.9L446.04,530.05L446.76,530.18L447.48,530.29L448.2,530.38L448.92,530.44L449.64,530.49L450.36,530.51L451.08,530.51L451.81,530.49L452.53,530.45L453.25,530.4L453.97,530.33L454.69,530.24L455.41,530.15L456.13,530.03L456.85,529.9L457.57,529.76L458.29,529.6L459.01,529.42L459.73,529.23L460.45,529.02L461.17,528.78L461.89,528.53L462.62,528.25L463.34,527.96L464.06,527.64L464.78,527.3L465.5,526.93L466.22,526.54L466.94,526.13L467.66,525.7L468.38,525.24L469.1,524.76L469.82,524.25L470.54,523.73L471.26,523.19L471.98,522.63L472.7,522.06L473.43,521.47L474.15,520.88L474.87,520.27L475.59,519.67L476.31,519.06L477.03,518.45L477.75,517.84L478.47,517.25L479.19,516.67L479.91,516.1L480.63,515.56L481.35,515.04L482.07,514.54L482.79,514.08L483.52,513.66L484.24,513.27L484.96,512.92L485.68,512.62L486.4,512.36L487.12,512.15L487.84,511.99L488.56,511.88L489.28,511.83L490,511.83L490.72,511.95L491.44,512.2L492.16,512.56L492.88,513.03L493.6,513.61L494.33,514.28L495.05,515.03L495.77,515.85L496.49,516.72L497.21,517.63L497.93,518.56L498.65,519.51L499.37,520.45L500.09,521.38L500.81,522.28L501.53,523.16L502.25,523.99L502.97,524.77L503.69,525.51L504.42,526.19L505.14,526.81L505.86,527.38L506.58,527.89L507.3,528.35L508.02,528.75L508.74,529.11L509.46,529.42L509.46,531.02Z" fill="#0e3468"/>
<path d="M422.98,530.99 L423.7,530.97 L424.42,530.95 L425.14,530.92 L425.86,530.88 L426.58,530.83 L427.3,530.77 L428.02,530.69 L428.74,530.59 L429.46,530.47 L430.18,530.34 L430.91,530.19 L431.63,530.02 L432.35,529.84 L433.07,529.65 L433.79,529.46 L434.51,529.28 L435.23,529.11 L435.95,528.96 L436.67,528.84 L437.39,528.76 L438.11,528.71 L438.83,528.7 L439.55,528.74 L440.27,528.81 L440.99,528.92 L441.72,529.06 L442.44,529.22 L443.16,529.39 L443.88,529.56 L444.6,529.74 L445.32,529.9 L446.04,530.05 L446.76,530.18 L447.48,530.29 L448.2,530.38 L448.92,530.44 L449.64,530.49 L450.36,530.51 L451.08,530.51 L451.81,530.49 L452.53,530.45 L453.25,530.4 L453.97,530.33 L454.69,530.24 L455.41,530.15 L456.13,530.03 L456.85,529.9 L457.57,529.76 L458.29,529.6 L459.01,529.42 L459.73,529.23 L460.45,529.02 L461.17,528.78 L461.89,528.53 L462.62,528.25 L463.34,527.96 L464.06,527.64 L464.78,527.3 L465.5,526.93 L466.22,526.54 L466.94,526.13 L467.66,525.7 L468.38,525.24 L469.1,524.76 L469.82,524.25 L470.54,523.73 L471.26,523.19 L471.98,522.63 L472.7,522.06 L473.43,521.47 L474.15,520.88 L474.87,520.27 L475.59,519.67 L476.31,519.06 L477.03,518.45 L477.75,517.84 L478.47,517.25 L479.19,516.67 L479.91,516.1 L480.63,515.56 L481.35,515.04 L482.07,514.54 L482.79,514.08 L483.52,513.66 L484.24,513.27 L484.96,512.92 L485.68,512.62 L486.4,512.36 L487.12,512.15 L487.84,511.99 L488.56,511.88 L489.28,511.83 L490,511.83 L490.72,511.95 L491.44,512.2 L492.16,512.56 L492.88,513.03 L493.6,513.61 L494.33,514.28 L495.05,515.03 L495.77,515.85 L496.49,516.72 L497.21,517.63 L497.93,518.56 L498.65,519.51 L499.37,520.45 L500.09,521.38 L500.81,522.28 L501.53,523.16 L502.25,523.99 L502.97,524.77 L503.69,525.51 L504.42,526.19 L505.14,526.81 L505.86,527.38 L506.58,527.89 L507.3,528.35 L508.02,528.75 L508.74,529.11 L509.46,529.42" fill="none" stroke="#111" stroke-width="0.95" stroke-linejoin="round"/>
<text x="413.3" y="531.82" font-size="9.4" fill="#1a1a1a" text-anchor="end" font-weight="normal">Mel71</text>
<text x="438.5" y="544" font-size="9.6" fill="#4d4d4d" text-anchor="middle" font-weight="normal">0.0</text>
<text x="460.68" y="544" font-size="9.6" fill="#4d4d4d" text-anchor="middle" font-weight="normal">2.5</text>
<text x="482.85" y="544" font-size="9.6" fill="#4d4d4d" text-anchor="middle" font-weight="normal">5.0</text>
<text x="505.02" y="544" font-size="9.6" fill="#4d4d4d" text-anchor="middle" font-weight="normal">7.5</text>
<line x1="592.9" y1="423.4" x2="681" y2="423.4" stroke="#ebebeb" stroke-width="0.8"/>
<line x1="592.9" y1="436.78" x2="681" y2="436.78" stroke="#ebebeb" stroke-width="0.8"/>
<line x1="592.9" y1="450.17" x2="681" y2="450.17" stroke="#ebebeb" stroke-width="0.8"/>
<line x1="592.9" y1="463.55" x2="681" y2="463.55" stroke="#ebebeb" stroke-width="0.8"/>
<line x1="592.9" y1="476.94" x2="681" y2="476.94" stroke="#ebebeb" stroke-width="0.8"/>
<line x1="592.9" y1="490.32" x2="681" y2="490.32" stroke="#ebebeb" stroke-width="0.8"/>
<line x1="592.9" y1="503.71" x2="681" y2="503.71" stroke="#ebebeb" stroke-width="0.8"/>
<line x1="592.9" y1="517.1" x2="681" y2="517.1" stroke="#ebebeb" stroke-width="0.8"/>
<line x1="592.9" y1="530.48" x2="681" y2="530.48" stroke="#ebebeb" stroke-width="0.8"/>
<line x1="614.4" y1="370" x2="614.4" y2="534.98" stroke="#ebebeb" stroke-width="0.9"/>
<line x1="635.12" y1="370" x2="635.12" y2="534.98" stroke="#ebebeb" stroke-width="0.9"/>
<line x1="655.85" y1="370" x2="655.85" y2="534.98" stroke="#ebebeb" stroke-width="0.9"/>
<line x1="676.57" y1="370" x2="676.57" y2="534.98" stroke="#ebebeb" stroke-width="0.9"/>
<path d="M599.98,423.4L599.98,422.89L600.65,422.62L601.32,422.24L601.99,421.7L602.66,420.96L603.33,419.97L604,418.66L604.68,417L605.35,414.91L606.02,412.37L606.69,409.36L607.36,405.87L608.03,401.96L608.7,397.7L609.38,393.21L610.05,388.64L610.72,384.18L611.39,380.03L612.06,376.4L612.73,373.47L613.41,371.43L614.08,370.37L614.75,370.38L615.42,371.44L616.09,373.49L616.76,376.41L617.43,380.03L618.11,384.17L618.78,388.6L619.45,393.14L620.12,397.59L620.79,401.81L621.46,405.67L622.13,409.1L622.81,412.07L623.48,414.55L624.15,416.59L624.82,418.21L625.49,419.47L626.16,420.42L626.83,421.12L627.51,421.62L628.18,421.97L628.85,422.2L629.52,422.35L630.19,422.44L630.86,422.49L631.54,422.52L632.21,422.53L632.88,422.52L633.55,422.52L634.22,422.5L634.89,422.49L635.56,422.48L636.24,422.47L636.91,422.46L637.58,422.45L638.25,422.44L638.92,422.43L639.59,422.42L640.26,422.42L640.94,422.41L641.61,422.41L642.28,422.4L642.95,422.4L643.62,422.4L644.29,422.39L644.97,422.39L645.64,422.39L646.31,422.39L646.98,422.38L647.65,422.38L648.32,422.38L648.99,422.38L649.67,422.38L650.34,422.39L651.01,422.39L651.68,422.4L652.35,422.41L653.02,422.42L653.69,422.43L654.37,422.45L655.04,422.47L655.71,422.49L656.38,422.51L657.05,422.54L657.72,422.57L658.4,422.6L659.07,422.64L659.74,422.68L660.41,422.72L661.08,422.76L661.75,422.8L662.42,422.84L663.1,422.88L663.77,422.92L664.44,422.96L665.11,423L665.78,423.04L666.45,423.07L667.12,423.11L667.8,423.14L668.47,423.17L669.14,423.2L669.81,423.22L670.48,423.25L671.15,423.27L671.82,423.29L672.5,423.3L673.17,423.32L673.84,423.33L674.51,423.34L675.18,423.35L675.85,423.36L676.53,423.37L677.2,423.37L677.87,423.38L678.54,423.38L679.21,423.39L679.88,423.39L680.55,423.39L680.55,423.4Z" fill="#ea6e4a"/>
<path d="M599.98,422.89 L600.65,422.62 L601.32,422.24 L601.99,421.7 L602.66,420.96 L603.33,419.97 L604,418.66 L604.68,417 L605.35,414.91 L606.02,412.37 L606.69,409.36 L607.36,405.87 L608.03,401.96 L608.7,397.7 L609.38,393.21 L610.05,388.64 L610.72,384.18 L611.39,380.03 L612.06,376.4 L612.73,373.47 L613.41,371.43 L614.08,370.37 L614.75,370.38 L615.42,371.44 L616.09,373.49 L616.76,376.41 L617.43,380.03 L618.11,384.17 L618.78,388.6 L619.45,393.14 L620.12,397.59 L620.79,401.81 L621.46,405.67 L622.13,409.1 L622.81,412.07 L623.48,414.55 L624.15,416.59 L624.82,418.21 L625.49,419.47 L626.16,420.42 L626.83,421.12 L627.51,421.62 L628.18,421.97 L628.85,422.2 L629.52,422.35 L630.19,422.44 L630.86,422.49 L631.54,422.52 L632.21,422.53 L632.88,422.52 L633.55,422.52 L634.22,422.5 L634.89,422.49 L635.56,422.48 L636.24,422.47 L636.91,422.46 L637.58,422.45 L638.25,422.44 L638.92,422.43 L639.59,422.42 L640.26,422.42 L640.94,422.41 L641.61,422.41 L642.28,422.4 L642.95,422.4 L643.62,422.4 L644.29,422.39 L644.97,422.39 L645.64,422.39 L646.31,422.39 L646.98,422.38 L647.65,422.38 L648.32,422.38 L648.99,422.38 L649.67,422.38 L650.34,422.39 L651.01,422.39 L651.68,422.4 L652.35,422.41 L653.02,422.42 L653.69,422.43 L654.37,422.45 L655.04,422.47 L655.71,422.49 L656.38,422.51 L657.05,422.54 L657.72,422.57 L658.4,422.6 L659.07,422.64 L659.74,422.68 L660.41,422.72 L661.08,422.76 L661.75,422.8 L662.42,422.84 L663.1,422.88 L663.77,422.92 L664.44,422.96 L665.11,423 L665.78,423.04 L666.45,423.07 L667.12,423.11 L667.8,423.14 L668.47,423.17 L669.14,423.2 L669.81,423.22 L670.48,423.25 L671.15,423.27 L671.82,423.29 L672.5,423.3 L673.17,423.32 L673.84,423.33 L674.51,423.34 L675.18,423.35 L675.85,423.36 L676.53,423.37 L677.2,423.37 L677.87,423.38 L678.54,423.38 L679.21,423.39 L679.88,423.39 L680.55,423.39" fill="none" stroke="#111" stroke-width="0.95" stroke-linejoin="round"/>
<text x="590.4" y="424.2" font-size="9.4" fill="#1a1a1a" text-anchor="end" font-weight="normal">Mel106</text>
<path d="M599.98,436.78L599.98,436.29L600.65,436.04L601.32,435.68L601.99,435.19L602.66,434.52L603.33,433.63L604,432.48L604.68,431.02L605.35,429.21L606.02,427.02L606.69,424.45L607.36,421.51L608.03,418.22L608.7,414.67L609.38,410.95L610.05,407.18L610.72,403.51L611.39,400.12L612.06,397.16L612.73,394.78L613.41,393.13L614.08,392.28L614.75,392.3L615.42,393.17L616.09,394.85L616.76,397.24L617.43,400.21L618.11,403.61L618.78,407.27L619.45,411.03L620.12,414.73L620.79,418.25L621.46,421.49L622.13,424.38L622.81,426.88L623.48,428.99L624.15,430.7L624.82,432.06L625.49,433.09L626.16,433.84L626.83,434.35L627.51,434.66L628.18,434.82L628.85,434.84L629.52,434.77L630.19,434.62L630.86,434.42L631.54,434.17L632.21,433.9L632.88,433.61L633.55,433.32L634.22,433.03L634.89,432.76L635.56,432.5L636.24,432.28L636.91,432.09L637.58,431.94L638.25,431.84L638.92,431.78L639.59,431.78L640.26,431.82L640.94,431.91L641.61,432.04L642.28,432.2L642.95,432.4L643.62,432.6L644.29,432.82L644.97,433.04L645.64,433.26L646.31,433.45L646.98,433.63L647.65,433.79L648.32,433.92L648.99,434.04L649.67,434.14L650.34,434.24L651.01,434.34L651.68,434.45L652.35,434.57L653.02,434.71L653.69,434.87L654.37,435.05L655.04,435.24L655.71,435.43L656.38,435.63L657.05,435.82L657.72,436L658.4,436.15L659.07,436.29L659.74,436.41L660.41,436.51L661.08,436.58L661.75,436.64L662.42,436.69L663.1,436.72L663.77,436.74L664.44,436.76L665.11,436.77L665.78,436.77L666.45,436.78L667.12,436.78L667.8,436.78L668.47,436.78L669.14,436.78L669.81,436.78L670.48,436.78L671.15,436.78L671.82,436.78L672.5,436.78L673.17,436.78L673.84,436.78L674.51,436.78L675.18,436.78L675.85,436.78L676.53,436.78L677.2,436.78L677.87,436.78L678.54,436.78L679.21,436.78L679.88,436.78L680.55,436.78L680.55,436.78Z" fill="#e46446"/>
<path d="M599.98,436.29 L600.65,436.04 L601.32,435.68 L601.99,435.19 L602.66,434.52 L603.33,433.63 L604,432.48 L604.68,431.02 L605.35,429.21 L606.02,427.02 L606.69,424.45 L607.36,421.51 L608.03,418.22 L608.7,414.67 L609.38,410.95 L610.05,407.18 L610.72,403.51 L611.39,400.12 L612.06,397.16 L612.73,394.78 L613.41,393.13 L614.08,392.28 L614.75,392.3 L615.42,393.17 L616.09,394.85 L616.76,397.24 L617.43,400.21 L618.11,403.61 L618.78,407.27 L619.45,411.03 L620.12,414.73 L620.79,418.25 L621.46,421.49 L622.13,424.38 L622.81,426.88 L623.48,428.99 L624.15,430.7 L624.82,432.06 L625.49,433.09 L626.16,433.84 L626.83,434.35 L627.51,434.66 L628.18,434.82 L628.85,434.84 L629.52,434.77 L630.19,434.62 L630.86,434.42 L631.54,434.17 L632.21,433.9 L632.88,433.61 L633.55,433.32 L634.22,433.03 L634.89,432.76 L635.56,432.5 L636.24,432.28 L636.91,432.09 L637.58,431.94 L638.25,431.84 L638.92,431.78 L639.59,431.78 L640.26,431.82 L640.94,431.91 L641.61,432.04 L642.28,432.2 L642.95,432.4 L643.62,432.6 L644.29,432.82 L644.97,433.04 L645.64,433.26 L646.31,433.45 L646.98,433.63 L647.65,433.79 L648.32,433.92 L648.99,434.04 L649.67,434.14 L650.34,434.24 L651.01,434.34 L651.68,434.45 L652.35,434.57 L653.02,434.71 L653.69,434.87 L654.37,435.05 L655.04,435.24 L655.71,435.43 L656.38,435.63 L657.05,435.82 L657.72,436 L658.4,436.15 L659.07,436.29 L659.74,436.41 L660.41,436.51 L661.08,436.58 L661.75,436.64 L662.42,436.69 L663.1,436.72 L663.77,436.74 L664.44,436.76 L665.11,436.77 L665.78,436.77 L666.45,436.78 L667.12,436.78 L667.8,436.78 L668.47,436.78 L669.14,436.78 L669.81,436.78 L670.48,436.78 L671.15,436.78 L671.82,436.78 L672.5,436.78 L673.17,436.78 L673.84,436.78 L674.51,436.78 L675.18,436.78 L675.85,436.78 L676.53,436.78 L677.2,436.78 L677.87,436.78 L678.54,436.78 L679.21,436.78 L679.88,436.78 L680.55,436.78" fill="none" stroke="#111" stroke-width="0.95" stroke-linejoin="round"/>
<text x="590.4" y="437.58" font-size="9.4" fill="#1a1a1a" text-anchor="end" font-weight="normal">Mel110</text>
<path d="M599.98,450.17L599.98,449.84L600.65,449.69L601.32,449.47L601.99,449.19L602.66,448.8L603.33,448.31L604,447.68L604.68,446.9L605.35,445.95L606.02,444.82L606.69,443.51L607.36,442.04L608.03,440.41L608.7,438.68L609.38,436.88L610.05,435.07L610.72,433.32L611.39,431.72L612.06,430.32L612.73,429.2L613.41,428.41L614.08,428L614.75,427.98L615.42,428.35L616.09,429.1L616.76,430.17L617.43,431.51L618.11,433.06L618.78,434.74L619.45,436.46L620.12,438.18L620.79,439.82L621.46,441.33L622.13,442.69L622.81,443.87L623.48,444.86L624.15,445.67L624.82,446.3L625.49,446.78L626.16,447.11L626.83,447.33L627.51,447.45L628.18,447.5L628.85,447.48L629.52,447.42L630.19,447.33L630.86,447.21L631.54,447.08L632.21,446.93L632.88,446.77L633.55,446.6L634.22,446.43L634.89,446.24L635.56,446.04L636.24,445.82L636.91,445.58L637.58,445.32L638.25,445.03L638.92,444.7L639.59,444.34L640.26,443.93L640.94,443.48L641.61,442.99L642.28,442.45L642.95,441.87L643.62,441.25L644.29,440.6L644.97,439.92L645.64,439.22L646.31,438.5L646.98,437.79L647.65,437.09L648.32,436.42L648.99,435.79L649.67,435.22L650.34,434.71L651.01,434.27L651.68,433.93L652.35,433.69L653.02,433.55L653.69,433.53L654.37,433.61L655.04,433.81L655.71,434.12L656.38,434.53L657.05,435.04L657.72,435.63L658.4,436.3L659.07,437.03L659.74,437.82L660.41,438.64L661.08,439.48L661.75,440.33L662.42,441.18L663.1,442.02L663.77,442.83L664.44,443.6L665.11,444.34L665.78,445.03L666.45,445.68L667.12,446.27L667.8,446.8L668.47,447.29L669.14,447.72L669.81,448.1L670.48,448.44L671.15,448.73L671.82,448.98L672.5,449.2L673.17,449.38L673.84,449.53L674.51,449.66L675.18,449.76L675.85,449.85L676.53,449.92L677.2,449.97L677.87,450.02L678.54,450.05L679.21,450.08L679.88,450.1L680.55,450.12L680.55,450.17Z" fill="#d65038"/>
<path d="M599.98,449.84 L600.65,449.69 L601.32,449.47 L601.99,449.19 L602.66,448.8 L603.33,448.31 L604,447.68 L604.68,446.9 L605.35,445.95 L606.02,444.82 L606.69,443.51 L607.36,442.04 L608.03,440.41 L608.7,438.68 L609.38,436.88 L610.05,435.07 L610.72,433.32 L611.39,431.72 L612.06,430.32 L612.73,429.2 L613.41,428.41 L614.08,428 L614.75,427.98 L615.42,428.35 L616.09,429.1 L616.76,430.17 L617.43,431.51 L618.11,433.06 L618.78,434.74 L619.45,436.46 L620.12,438.18 L620.79,439.82 L621.46,441.33 L622.13,442.69 L622.81,443.87 L623.48,444.86 L624.15,445.67 L624.82,446.3 L625.49,446.78 L626.16,447.11 L626.83,447.33 L627.51,447.45 L628.18,447.5 L628.85,447.48 L629.52,447.42 L630.19,447.33 L630.86,447.21 L631.54,447.08 L632.21,446.93 L632.88,446.77 L633.55,446.6 L634.22,446.43 L634.89,446.24 L635.56,446.04 L636.24,445.82 L636.91,445.58 L637.58,445.32 L638.25,445.03 L638.92,444.7 L639.59,444.34 L640.26,443.93 L640.94,443.48 L641.61,442.99 L642.28,442.45 L642.95,441.87 L643.62,441.25 L644.29,440.6 L644.97,439.92 L645.64,439.22 L646.31,438.5 L646.98,437.79 L647.65,437.09 L648.32,436.42 L648.99,435.79 L649.67,435.22 L650.34,434.71 L651.01,434.27 L651.68,433.93 L652.35,433.69 L653.02,433.55 L653.69,433.53 L654.37,433.61 L655.04,433.81 L655.71,434.12 L656.38,434.53 L657.05,435.04 L657.72,435.63 L658.4,436.3 L659.07,437.03 L659.74,437.82 L660.41,438.64 L661.08,439.48 L661.75,440.33 L662.42,441.18 L663.1,442.02 L663.77,442.83 L664.44,443.6 L665.11,444.34 L665.78,445.03 L666.45,445.68 L667.12,446.27 L667.8,446.8 L668.47,447.29 L669.14,447.72 L669.81,448.1 L670.48,448.44 L671.15,448.73 L671.82,448.98 L672.5,449.2 L673.17,449.38 L673.84,449.53 L674.51,449.66 L675.18,449.76 L675.85,449.85 L676.53,449.92 L677.2,449.97 L677.87,450.02 L678.54,450.05 L679.21,450.08 L679.88,450.1 L680.55,450.12" fill="none" stroke="#111" stroke-width="0.95" stroke-linejoin="round"/>
<text x="590.4" y="450.97" font-size="9.4" fill="#1a1a1a" text-anchor="end" font-weight="normal">Mel194</text>
<path d="M599.98,463.55L599.98,463.22L600.65,463.07L601.32,462.86L601.99,462.57L602.66,462.18L603.33,461.69L604,461.06L604.68,460.27L605.35,459.32L606.02,458.19L606.69,456.88L607.36,455.4L608.03,453.77L608.7,452.03L609.38,450.22L610.05,448.42L610.72,446.67L611.39,445.07L612.06,443.68L612.73,442.57L613.41,441.79L614.08,441.4L614.75,441.41L615.42,441.82L616.09,442.6L616.76,443.72L617.43,445.12L618.11,446.73L618.78,448.48L619.45,450.29L620.12,452.1L620.79,453.83L621.46,455.45L622.13,456.93L622.81,458.23L623.48,459.36L624.15,460.3L624.82,461.08L625.49,461.71L626.16,462.2L626.83,462.57L627.51,462.86L628.18,463.06L628.85,463.21L629.52,463.31L630.19,463.38L630.86,463.42L631.54,463.43L632.21,463.43L632.88,463.41L633.55,463.37L634.22,463.32L634.89,463.25L635.56,463.16L636.24,463.03L636.91,462.88L637.58,462.69L638.25,462.45L638.92,462.16L639.59,461.81L640.26,461.39L640.94,460.89L641.61,460.31L642.28,459.64L642.95,458.87L643.62,458.01L644.29,457.04L644.97,455.97L645.64,454.81L646.31,453.56L646.98,452.24L647.65,450.85L648.32,449.42L648.99,447.98L649.67,446.55L650.34,445.15L651.01,443.81L651.68,442.57L652.35,441.45L653.02,440.49L653.69,439.7L654.37,439.1L655.04,438.72L655.71,438.56L656.38,438.63L657.05,438.92L657.72,439.42L658.4,440.13L659.07,441.03L659.74,442.09L660.41,443.28L661.08,444.58L661.75,445.95L662.42,447.38L663.1,448.82L663.77,450.26L664.44,451.66L665.11,453.01L665.78,454.3L666.45,455.5L667.12,456.6L667.8,457.61L668.47,458.52L669.14,459.33L669.81,460.04L670.48,460.66L671.15,461.19L671.82,461.64L672.5,462.02L673.17,462.33L673.84,462.59L674.51,462.81L675.18,462.97L675.85,463.11L676.53,463.22L677.2,463.3L677.87,463.37L678.54,463.41L679.21,463.45L679.88,463.48L680.55,463.5L680.55,463.55Z" fill="#c84030"/>
<path d="M599.98,463.22 L600.65,463.07 L601.32,462.86 L601.99,462.57 L602.66,462.18 L603.33,461.69 L604,461.06 L604.68,460.27 L605.35,459.32 L606.02,458.19 L606.69,456.88 L607.36,455.4 L608.03,453.77 L608.7,452.03 L609.38,450.22 L610.05,448.42 L610.72,446.67 L611.39,445.07 L612.06,443.68 L612.73,442.57 L613.41,441.79 L614.08,441.4 L614.75,441.41 L615.42,441.82 L616.09,442.6 L616.76,443.72 L617.43,445.12 L618.11,446.73 L618.78,448.48 L619.45,450.29 L620.12,452.1 L620.79,453.83 L621.46,455.45 L622.13,456.93 L622.81,458.23 L623.48,459.36 L624.15,460.3 L624.82,461.08 L625.49,461.71 L626.16,462.2 L626.83,462.57 L627.51,462.86 L628.18,463.06 L628.85,463.21 L629.52,463.31 L630.19,463.38 L630.86,463.42 L631.54,463.43 L632.21,463.43 L632.88,463.41 L633.55,463.37 L634.22,463.32 L634.89,463.25 L635.56,463.16 L636.24,463.03 L636.91,462.88 L637.58,462.69 L638.25,462.45 L638.92,462.16 L639.59,461.81 L640.26,461.39 L640.94,460.89 L641.61,460.31 L642.28,459.64 L642.95,458.87 L643.62,458.01 L644.29,457.04 L644.97,455.97 L645.64,454.81 L646.31,453.56 L646.98,452.24 L647.65,450.85 L648.32,449.42 L648.99,447.98 L649.67,446.55 L650.34,445.15 L651.01,443.81 L651.68,442.57 L652.35,441.45 L653.02,440.49 L653.69,439.7 L654.37,439.1 L655.04,438.72 L655.71,438.56 L656.38,438.63 L657.05,438.92 L657.72,439.42 L658.4,440.13 L659.07,441.03 L659.74,442.09 L660.41,443.28 L661.08,444.58 L661.75,445.95 L662.42,447.38 L663.1,448.82 L663.77,450.26 L664.44,451.66 L665.11,453.01 L665.78,454.3 L666.45,455.5 L667.12,456.6 L667.8,457.61 L668.47,458.52 L669.14,459.33 L669.81,460.04 L670.48,460.66 L671.15,461.19 L671.82,461.64 L672.5,462.02 L673.17,462.33 L673.84,462.59 L674.51,462.81 L675.18,462.97 L675.85,463.11 L676.53,463.22 L677.2,463.3 L677.87,463.37 L678.54,463.41 L679.21,463.45 L679.88,463.48 L680.55,463.5" fill="none" stroke="#111" stroke-width="0.95" stroke-linejoin="round"/>
<text x="590.4" y="464.35" font-size="9.4" fill="#1a1a1a" text-anchor="end" font-weight="normal">Mel121.1</text>
<path d="M599.98,476.94L599.98,476.68L600.65,476.56L601.32,476.4L601.99,476.17L602.66,475.88L603.33,475.49L604,475L604.68,474.4L605.35,473.66L606.02,472.78L606.69,471.77L607.36,470.62L608.03,469.36L608.7,468.01L609.38,466.61L610.05,465.21L610.72,463.86L611.39,462.62L612.06,461.54L612.73,460.68L613.41,460.08L614.08,459.78L614.75,459.78L615.42,460.1L616.09,460.71L616.76,461.57L617.43,462.66L618.11,463.91L618.78,465.26L619.45,466.66L620.12,468.06L620.79,469.41L621.46,470.66L622.13,471.81L622.81,472.82L623.48,473.69L624.15,474.42L624.82,475.02L625.49,475.51L626.16,475.89L626.83,476.18L627.51,476.41L628.18,476.57L628.85,476.69L629.52,476.77L630.19,476.83L630.86,476.87L631.54,476.89L632.21,476.91L632.88,476.92L633.55,476.93L634.22,476.93L634.89,476.93L635.56,476.93L636.24,476.93L636.91,476.92L637.58,476.91L638.25,476.89L638.92,476.86L639.59,476.82L640.26,476.74L640.94,476.62L641.61,476.43L642.28,476.16L642.95,475.76L643.62,475.2L644.29,474.44L644.97,473.43L645.64,472.13L646.31,470.51L646.98,468.55L647.65,466.27L648.32,463.72L648.99,460.96L649.67,458.11L650.34,455.31L651.01,452.72L651.68,450.5L652.35,448.79L653.02,447.72L653.69,447.35L654.37,447.61L655.04,448.45L655.71,449.8L656.38,451.58L657.05,453.67L657.72,455.97L658.4,458.35L659.07,460.72L659.74,462.98L660.41,465.08L661.08,466.95L661.75,468.6L662.42,470L663.1,471.18L663.77,472.16L664.44,472.96L665.11,473.61L665.78,474.14L666.45,474.57L667.12,474.93L667.8,475.23L668.47,475.48L669.14,475.7L669.81,475.89L670.48,476.05L671.15,476.2L671.82,476.32L672.5,476.43L673.17,476.52L673.84,476.6L674.51,476.67L675.18,476.72L675.85,476.77L676.53,476.81L677.2,476.84L677.87,476.86L678.54,476.88L679.21,476.89L679.88,476.91L680.55,476.92L680.55,476.94Z" fill="#b43024"/>
<path d="M599.98,476.68 L600.65,476.56 L601.32,476.4 L601.99,476.17 L602.66,475.88 L603.33,475.49 L604,475 L604.68,474.4 L605.35,473.66 L606.02,472.78 L606.69,471.77 L607.36,470.62 L608.03,469.36 L608.7,468.01 L609.38,466.61 L610.05,465.21 L610.72,463.86 L611.39,462.62 L612.06,461.54 L612.73,460.68 L613.41,460.08 L614.08,459.78 L614.75,459.78 L615.42,460.1 L616.09,460.71 L616.76,461.57 L617.43,462.66 L618.11,463.91 L618.78,465.26 L619.45,466.66 L620.12,468.06 L620.79,469.41 L621.46,470.66 L622.13,471.81 L622.81,472.82 L623.48,473.69 L624.15,474.42 L624.82,475.02 L625.49,475.51 L626.16,475.89 L626.83,476.18 L627.51,476.41 L628.18,476.57 L628.85,476.69 L629.52,476.77 L630.19,476.83 L630.86,476.87 L631.54,476.89 L632.21,476.91 L632.88,476.92 L633.55,476.93 L634.22,476.93 L634.89,476.93 L635.56,476.93 L636.24,476.93 L636.91,476.92 L637.58,476.91 L638.25,476.89 L638.92,476.86 L639.59,476.82 L640.26,476.74 L640.94,476.62 L641.61,476.43 L642.28,476.16 L642.95,475.76 L643.62,475.2 L644.29,474.44 L644.97,473.43 L645.64,472.13 L646.31,470.51 L646.98,468.55 L647.65,466.27 L648.32,463.72 L648.99,460.96 L649.67,458.11 L650.34,455.31 L651.01,452.72 L651.68,450.5 L652.35,448.79 L653.02,447.72 L653.69,447.35 L654.37,447.61 L655.04,448.45 L655.71,449.8 L656.38,451.58 L657.05,453.67 L657.72,455.97 L658.4,458.35 L659.07,460.72 L659.74,462.98 L660.41,465.08 L661.08,466.95 L661.75,468.6 L662.42,470 L663.1,471.18 L663.77,472.16 L664.44,472.96 L665.11,473.61 L665.78,474.14 L666.45,474.57 L667.12,474.93 L667.8,475.23 L668.47,475.48 L669.14,475.7 L669.81,475.89 L670.48,476.05 L671.15,476.2 L671.82,476.32 L672.5,476.43 L673.17,476.52 L673.84,476.6 L674.51,476.67 L675.18,476.72 L675.85,476.77 L676.53,476.81 L677.2,476.84 L677.87,476.86 L678.54,476.88 L679.21,476.89 L679.88,476.91 L680.55,476.92" fill="none" stroke="#111" stroke-width="0.95" stroke-linejoin="round"/>
<text x="590.4" y="477.74" font-size="9.4" fill="#1a1a1a" text-anchor="end" font-weight="normal">Mel98</text>
<path d="M599.98,490.32L599.98,490.13L600.65,490.04L601.32,489.91L601.99,489.74L602.66,489.51L603.33,489.21L604,488.84L604.68,488.37L605.35,487.81L606.02,487.13L606.69,486.35L607.36,485.47L608.03,484.51L608.7,483.47L609.38,482.4L610.05,481.32L610.72,480.29L611.39,479.33L612.06,478.51L612.73,477.85L613.41,477.39L614.08,477.15L614.75,477.16L615.42,477.4L616.09,477.87L616.76,478.53L617.43,479.37L618.11,480.32L618.78,481.36L619.45,482.44L620.12,483.51L620.79,484.54L621.46,485.51L622.13,486.38L622.81,487.16L623.48,487.83L624.15,488.39L624.82,488.85L625.49,489.23L626.16,489.52L626.83,489.74L627.51,489.91L628.18,490.04L628.85,490.13L629.52,490.19L630.19,490.24L630.86,490.27L631.54,490.29L632.21,490.3L632.88,490.31L633.55,490.31L634.22,490.3L634.89,490.29L635.56,490.28L636.24,490.26L636.91,490.22L637.58,490.18L638.25,490.11L638.92,490.01L639.59,489.87L640.26,489.69L640.94,489.44L641.61,489.13L642.28,488.72L642.95,488.2L643.62,487.57L644.29,486.8L644.97,485.89L645.64,484.82L646.31,483.6L646.98,482.25L647.65,480.76L648.32,479.18L648.99,477.54L649.67,475.88L650.34,474.25L651.01,472.72L651.68,471.34L652.35,470.17L653.02,469.25L653.69,468.64L654.37,468.35L655.04,468.4L655.71,468.78L656.38,469.49L657.05,470.48L657.72,471.71L658.4,473.14L659.07,474.71L659.74,476.35L660.41,478.01L661.08,479.64L661.75,481.19L662.42,482.64L663.1,483.96L663.77,485.14L664.44,486.16L665.11,487.03L665.78,487.76L666.45,488.36L667.12,488.84L667.8,489.22L668.47,489.52L669.14,489.75L669.81,489.91L670.48,490.04L671.15,490.13L671.82,490.19L672.5,490.24L673.17,490.27L673.84,490.29L674.51,490.3L675.18,490.31L675.85,490.32L676.53,490.32L677.2,490.32L677.87,490.32L678.54,490.32L679.21,490.32L679.88,490.32L680.55,490.32L680.55,490.32Z" fill="#a02a20"/>
<path d="M599.98,490.13 L600.65,490.04 L601.32,489.91 L601.99,489.74 L602.66,489.51 L603.33,489.21 L604,488.84 L604.68,488.37 L605.35,487.81 L606.02,487.13 L606.69,486.35 L607.36,485.47 L608.03,484.51 L608.7,483.47 L609.38,482.4 L610.05,481.32 L610.72,480.29 L611.39,479.33 L612.06,478.51 L612.73,477.85 L613.41,477.39 L614.08,477.15 L614.75,477.16 L615.42,477.4 L616.09,477.87 L616.76,478.53 L617.43,479.37 L618.11,480.32 L618.78,481.36 L619.45,482.44 L620.12,483.51 L620.79,484.54 L621.46,485.51 L622.13,486.38 L622.81,487.16 L623.48,487.83 L624.15,488.39 L624.82,488.85 L625.49,489.23 L626.16,489.52 L626.83,489.74 L627.51,489.91 L628.18,490.04 L628.85,490.13 L629.52,490.19 L630.19,490.24 L630.86,490.27 L631.54,490.29 L632.21,490.3 L632.88,490.31 L633.55,490.31 L634.22,490.3 L634.89,490.29 L635.56,490.28 L636.24,490.26 L636.91,490.22 L637.58,490.18 L638.25,490.11 L638.92,490.01 L639.59,489.87 L640.26,489.69 L640.94,489.44 L641.61,489.13 L642.28,488.72 L642.95,488.2 L643.62,487.57 L644.29,486.8 L644.97,485.89 L645.64,484.82 L646.31,483.6 L646.98,482.25 L647.65,480.76 L648.32,479.18 L648.99,477.54 L649.67,475.88 L650.34,474.25 L651.01,472.72 L651.68,471.34 L652.35,470.17 L653.02,469.25 L653.69,468.64 L654.37,468.35 L655.04,468.4 L655.71,468.78 L656.38,469.49 L657.05,470.48 L657.72,471.71 L658.4,473.14 L659.07,474.71 L659.74,476.35 L660.41,478.01 L661.08,479.64 L661.75,481.19 L662.42,482.64 L663.1,483.96 L663.77,485.14 L664.44,486.16 L665.11,487.03 L665.78,487.76 L666.45,488.36 L667.12,488.84 L667.8,489.22 L668.47,489.52 L669.14,489.75 L669.81,489.91 L670.48,490.04 L671.15,490.13 L671.82,490.19 L672.5,490.24 L673.17,490.27 L673.84,490.29 L674.51,490.3 L675.18,490.31 L675.85,490.32 L676.53,490.32 L677.2,490.32 L677.87,490.32 L678.54,490.32 L679.21,490.32 L679.88,490.32 L680.55,490.32" fill="none" stroke="#111" stroke-width="0.95" stroke-linejoin="round"/>
<text x="590.4" y="491.12" font-size="9.4" fill="#1a1a1a" text-anchor="end" font-weight="normal">Mel94</text>
<path d="M599.98,503.71L599.98,503.59L600.65,503.53L601.32,503.45L601.99,503.34L602.66,503.2L603.33,503.01L604,502.78L604.68,502.48L605.35,502.13L606.02,501.7L606.69,501.21L607.36,500.66L608.03,500.05L608.7,499.4L609.38,498.73L610.05,498.05L610.72,497.4L611.39,496.8L612.06,496.28L612.73,495.86L613.41,495.57L614.08,495.42L614.75,495.42L615.42,495.57L616.09,495.86L616.76,496.27L617.43,496.78L618.11,497.37L618.78,498L619.45,498.65L620.12,499.29L620.79,499.89L621.46,500.44L622.13,500.92L622.81,501.32L623.48,501.65L624.15,501.89L624.82,502.06L625.49,502.16L626.16,502.2L626.83,502.19L627.51,502.15L628.18,502.07L628.85,501.97L629.52,501.85L630.19,501.71L630.86,501.56L631.54,501.39L632.21,501.2L632.88,500.98L633.55,500.73L634.22,500.44L634.89,500.1L635.56,499.7L636.24,499.24L636.91,498.72L637.58,498.14L638.25,497.49L638.92,496.77L639.59,495.98L640.26,495.13L640.94,494.21L641.61,493.23L642.28,492.18L642.95,491.06L643.62,489.88L644.29,488.63L644.97,487.33L645.64,485.97L646.31,484.57L646.98,483.15L647.65,481.73L648.32,480.33L648.99,478.97L649.67,477.69L650.34,476.52L651.01,475.48L651.68,474.6L652.35,473.91L653.02,473.43L653.69,473.17L654.37,473.14L655.04,473.35L655.71,473.8L656.38,474.47L657.05,475.35L657.72,476.43L658.4,477.68L659.07,479.07L659.74,480.57L660.41,482.16L661.08,483.79L661.75,485.46L662.42,487.12L663.1,488.74L663.77,490.32L664.44,491.83L665.11,493.26L665.78,494.58L666.45,495.81L667.12,496.92L667.8,497.92L668.47,498.82L669.14,499.61L669.81,500.3L670.48,500.9L671.15,501.41L671.82,501.84L672.5,502.21L673.17,502.51L673.84,502.76L674.51,502.96L675.18,503.13L675.85,503.26L676.53,503.36L677.2,503.45L677.87,503.51L678.54,503.56L679.21,503.6L679.88,503.63L680.55,503.65L680.55,503.71Z" fill="#8c241e"/>
<path d="M599.98,503.59 L600.65,503.53 L601.32,503.45 L601.99,503.34 L602.66,503.2 L603.33,503.01 L604,502.78 L604.68,502.48 L605.35,502.13 L606.02,501.7 L606.69,501.21 L607.36,500.66 L608.03,500.05 L608.7,499.4 L609.38,498.73 L610.05,498.05 L610.72,497.4 L611.39,496.8 L612.06,496.28 L612.73,495.86 L613.41,495.57 L614.08,495.42 L614.75,495.42 L615.42,495.57 L616.09,495.86 L616.76,496.27 L617.43,496.78 L618.11,497.37 L618.78,498 L619.45,498.65 L620.12,499.29 L620.79,499.89 L621.46,500.44 L622.13,500.92 L622.81,501.32 L623.48,501.65 L624.15,501.89 L624.82,502.06 L625.49,502.16 L626.16,502.2 L626.83,502.19 L627.51,502.15 L628.18,502.07 L628.85,501.97 L629.52,501.85 L630.19,501.71 L630.86,501.56 L631.54,501.39 L632.21,501.2 L632.88,500.98 L633.55,500.73 L634.22,500.44 L634.89,500.1 L635.56,499.7 L636.24,499.24 L636.91,498.72 L637.58,498.14 L638.25,497.49 L638.92,496.77 L639.59,495.98 L640.26,495.13 L640.94,494.21 L641.61,493.23 L642.28,492.18 L642.95,491.06 L643.62,489.88 L644.29,488.63 L644.97,487.33 L645.64,485.97 L646.31,484.57 L646.98,483.15 L647.65,481.73 L648.32,480.33 L648.99,478.97 L649.67,477.69 L650.34,476.52 L651.01,475.48 L651.68,474.6 L652.35,473.91 L653.02,473.43 L653.69,473.17 L654.37,473.14 L655.04,473.35 L655.71,473.8 L656.38,474.47 L657.05,475.35 L657.72,476.43 L658.4,477.68 L659.07,479.07 L659.74,480.57 L660.41,482.16 L661.08,483.79 L661.75,485.46 L662.42,487.12 L663.1,488.74 L663.77,490.32 L664.44,491.83 L665.11,493.26 L665.78,494.58 L666.45,495.81 L667.12,496.92 L667.8,497.92 L668.47,498.82 L669.14,499.61 L669.81,500.3 L670.48,500.9 L671.15,501.41 L671.82,501.84 L672.5,502.21 L673.17,502.51 L673.84,502.76 L674.51,502.96 L675.18,503.13 L675.85,503.26 L676.53,503.36 L677.2,503.45 L677.87,503.51 L678.54,503.56 L679.21,503.6 L679.88,503.63 L680.55,503.65" fill="none" stroke="#111" stroke-width="0.95" stroke-linejoin="round"/>
<text x="590.4" y="504.51" font-size="9.4" fill="#1a1a1a" text-anchor="end" font-weight="normal">Mel88</text>
<path d="M599.98,517.1L599.98,516.94L600.65,516.87L601.32,516.77L601.99,516.64L602.66,516.46L603.33,516.23L604,515.94L604.68,515.57L605.35,515.13L606.02,514.6L606.69,514L607.36,513.31L608.03,512.55L608.7,511.75L609.38,510.91L610.05,510.07L610.72,509.26L611.39,508.52L612.06,507.87L612.73,507.36L613.41,507L614.08,506.82L614.75,506.82L615.42,507.01L616.09,507.37L616.76,507.89L617.43,508.54L618.11,509.29L618.78,510.1L619.45,510.94L620.12,511.78L620.79,512.58L621.46,513.33L622.13,514.02L622.81,514.62L623.48,515.14L624.15,515.58L624.82,515.93L625.49,516.22L626.16,516.43L626.83,516.6L627.51,516.71L628.18,516.78L628.85,516.81L629.52,516.81L630.19,516.78L630.86,516.71L631.54,516.62L632.21,516.49L632.88,516.33L633.55,516.13L634.22,515.9L634.89,515.64L635.56,515.36L636.24,515.05L636.91,514.72L637.58,514.39L638.25,514.04L638.92,513.68L639.59,513.31L640.26,512.92L640.94,512.51L641.61,512.07L642.28,511.58L642.95,511.04L643.62,510.43L644.29,509.74L644.97,508.97L645.64,508.11L646.31,507.17L646.98,506.14L647.65,505.04L648.32,503.87L648.99,502.64L649.67,501.38L650.34,500.09L651.01,498.79L651.68,497.51L652.35,496.25L653.02,495.04L653.69,493.89L654.37,492.83L655.04,491.87L655.71,491.03L656.38,490.32L657.05,489.75L657.72,489.34L658.4,489.08L659.07,489L659.74,489.09L660.41,489.39L661.08,489.88L661.75,490.56L662.42,491.41L663.1,492.42L663.77,493.55L664.44,494.8L665.11,496.13L665.78,497.52L666.45,498.96L667.12,500.41L667.8,501.86L668.47,503.28L669.14,504.66L669.81,505.98L670.48,507.24L671.15,508.41L671.82,509.5L672.5,510.51L673.17,511.42L673.84,512.24L674.51,512.97L675.18,513.62L675.85,514.18L676.53,514.68L677.2,515.1L677.87,515.46L678.54,515.77L679.21,516.02L679.88,516.24L680.55,516.41L680.55,517.1Z" fill="#781c1a"/>
<path d="M599.98,516.94 L600.65,516.87 L601.32,516.77 L601.99,516.64 L602.66,516.46 L603.33,516.23 L604,515.94 L604.68,515.57 L605.35,515.13 L606.02,514.6 L606.69,514 L607.36,513.31 L608.03,512.55 L608.7,511.75 L609.38,510.91 L610.05,510.07 L610.72,509.26 L611.39,508.52 L612.06,507.87 L612.73,507.36 L613.41,507 L614.08,506.82 L614.75,506.82 L615.42,507.01 L616.09,507.37 L616.76,507.89 L617.43,508.54 L618.11,509.29 L618.78,510.1 L619.45,510.94 L620.12,511.78 L620.79,512.58 L621.46,513.33 L622.13,514.02 L622.81,514.62 L623.48,515.14 L624.15,515.58 L624.82,515.93 L625.49,516.22 L626.16,516.43 L626.83,516.6 L627.51,516.71 L628.18,516.78 L628.85,516.81 L629.52,516.81 L630.19,516.78 L630.86,516.71 L631.54,516.62 L632.21,516.49 L632.88,516.33 L633.55,516.13 L634.22,515.9 L634.89,515.64 L635.56,515.36 L636.24,515.05 L636.91,514.72 L637.58,514.39 L638.25,514.04 L638.92,513.68 L639.59,513.31 L640.26,512.92 L640.94,512.51 L641.61,512.07 L642.28,511.58 L642.95,511.04 L643.62,510.43 L644.29,509.74 L644.97,508.97 L645.64,508.11 L646.31,507.17 L646.98,506.14 L647.65,505.04 L648.32,503.87 L648.99,502.64 L649.67,501.38 L650.34,500.09 L651.01,498.79 L651.68,497.51 L652.35,496.25 L653.02,495.04 L653.69,493.89 L654.37,492.83 L655.04,491.87 L655.71,491.03 L656.38,490.32 L657.05,489.75 L657.72,489.34 L658.4,489.08 L659.07,489 L659.74,489.09 L660.41,489.39 L661.08,489.88 L661.75,490.56 L662.42,491.41 L663.1,492.42 L663.77,493.55 L664.44,494.8 L665.11,496.13 L665.78,497.52 L666.45,498.96 L667.12,500.41 L667.8,501.86 L668.47,503.28 L669.14,504.66 L669.81,505.98 L670.48,507.24 L671.15,508.41 L671.82,509.5 L672.5,510.51 L673.17,511.42 L673.84,512.24 L674.51,512.97 L675.18,513.62 L675.85,514.18 L676.53,514.68 L677.2,515.1 L677.87,515.46 L678.54,515.77 L679.21,516.02 L679.88,516.24 L680.55,516.41" fill="none" stroke="#111" stroke-width="0.95" stroke-linejoin="round"/>
<text x="590.4" y="517.89" font-size="9.4" fill="#1a1a1a" text-anchor="end" font-weight="normal">Mel102</text>
<path d="M599.98,530.48L599.98,530.44L600.65,530.43L601.32,530.4L601.99,530.37L602.66,530.33L603.33,530.27L604,530.2L604.68,530.11L605.35,530L606.02,529.88L606.69,529.73L607.36,529.56L608.03,529.38L608.7,529.18L609.38,528.98L610.05,528.78L610.72,528.58L611.39,528.4L612.06,528.24L612.73,528.12L613.41,528.03L614.08,527.99L614.75,527.99L615.42,528.03L616.09,528.12L616.76,528.25L617.43,528.4L618.11,528.59L618.78,528.78L619.45,528.99L620.12,529.19L620.79,529.38L621.46,529.56L622.13,529.72L622.81,529.86L623.48,529.98L624.15,530.07L624.82,530.13L625.49,530.17L626.16,530.17L626.83,530.15L627.51,530.09L628.18,529.99L628.85,529.85L629.52,529.66L630.19,529.41L630.86,529.11L631.54,528.73L632.21,528.27L632.88,527.73L633.55,527.11L634.22,526.41L634.89,525.61L635.56,524.74L636.24,523.78L636.91,522.76L637.58,521.68L638.25,520.56L638.92,519.41L639.59,518.24L640.26,517.08L640.94,515.93L641.61,514.82L642.28,513.76L642.95,512.76L643.62,511.83L644.29,510.98L644.97,510.21L645.64,509.54L646.31,508.95L646.98,508.46L647.65,508.05L648.32,507.72L648.99,507.46L649.67,507.27L650.34,507.14L651.01,507.06L651.68,507.01L652.35,506.99L653.02,506.98L653.69,506.98L654.37,506.98L655.04,507L655.71,507.04L656.38,507.11L657.05,507.21L657.72,507.36L658.4,507.56L659.07,507.82L659.74,508.14L660.41,508.53L661.08,509L661.75,509.54L662.42,510.16L663.1,510.85L663.77,511.62L664.44,512.46L665.11,513.36L665.78,514.32L666.45,515.32L667.12,516.36L667.8,517.42L668.47,518.49L669.14,519.57L669.81,520.63L670.48,521.66L671.15,522.66L671.82,523.61L672.5,524.5L673.17,525.33L673.84,526.09L674.51,526.78L675.18,527.39L675.85,527.93L676.53,528.41L677.2,528.81L677.87,529.15L678.54,529.44L679.21,529.68L679.88,529.87L680.55,530.02L680.55,530.48Z" fill="#641616"/>
<path d="M599.98,530.44 L600.65,530.43 L601.32,530.4 L601.99,530.37 L602.66,530.33 L603.33,530.27 L604,530.2 L604.68,530.11 L605.35,530 L606.02,529.88 L606.69,529.73 L607.36,529.56 L608.03,529.38 L608.7,529.18 L609.38,528.98 L610.05,528.78 L610.72,528.58 L611.39,528.4 L612.06,528.24 L612.73,528.12 L613.41,528.03 L614.08,527.99 L614.75,527.99 L615.42,528.03 L616.09,528.12 L616.76,528.25 L617.43,528.4 L618.11,528.59 L618.78,528.78 L619.45,528.99 L620.12,529.19 L620.79,529.38 L621.46,529.56 L622.13,529.72 L622.81,529.86 L623.48,529.98 L624.15,530.07 L624.82,530.13 L625.49,530.17 L626.16,530.17 L626.83,530.15 L627.51,530.09 L628.18,529.99 L628.85,529.85 L629.52,529.66 L630.19,529.41 L630.86,529.11 L631.54,528.73 L632.21,528.27 L632.88,527.73 L633.55,527.11 L634.22,526.41 L634.89,525.61 L635.56,524.74 L636.24,523.78 L636.91,522.76 L637.58,521.68 L638.25,520.56 L638.92,519.41 L639.59,518.24 L640.26,517.08 L640.94,515.93 L641.61,514.82 L642.28,513.76 L642.95,512.76 L643.62,511.83 L644.29,510.98 L644.97,510.21 L645.64,509.54 L646.31,508.95 L646.98,508.46 L647.65,508.05 L648.32,507.72 L648.99,507.46 L649.67,507.27 L650.34,507.14 L651.01,507.06 L651.68,507.01 L652.35,506.99 L653.02,506.98 L653.69,506.98 L654.37,506.98 L655.04,507 L655.71,507.04 L656.38,507.11 L657.05,507.21 L657.72,507.36 L658.4,507.56 L659.07,507.82 L659.74,508.14 L660.41,508.53 L661.08,509 L661.75,509.54 L662.42,510.16 L663.1,510.85 L663.77,511.62 L664.44,512.46 L665.11,513.36 L665.78,514.32 L666.45,515.32 L667.12,516.36 L667.8,517.42 L668.47,518.49 L669.14,519.57 L669.81,520.63 L670.48,521.66 L671.15,522.66 L671.82,523.61 L672.5,524.5 L673.17,525.33 L673.84,526.09 L674.51,526.78 L675.18,527.39 L675.85,527.93 L676.53,528.41 L677.2,528.81 L677.87,529.15 L678.54,529.44 L679.21,529.68 L679.88,529.87 L680.55,530.02" fill="none" stroke="#111" stroke-width="0.95" stroke-linejoin="round"/>
<text x="590.4" y="531.28" font-size="9.4" fill="#1a1a1a" text-anchor="end" font-weight="normal">Mel78</text>
<text x="614.4" y="544" font-size="9.6" fill="#4d4d4d" text-anchor="middle" font-weight="normal">0.0</text>
<text x="635.12" y="544" font-size="9.6" fill="#4d4d4d" text-anchor="middle" font-weight="normal">2.5</text>
<text x="655.85" y="544" font-size="9.6" fill="#4d4d4d" text-anchor="middle" font-weight="normal">5.0</text>
<text x="676.57" y="544" font-size="9.6" fill="#4d4d4d" text-anchor="middle" font-weight="normal">7.5</text>
<defs><linearGradient id="gb" x1="0" x2="1" y1="0" y2="0"><stop offset="0" stop-color="#d6e6f5"/><stop offset="1" stop-color="#97bde0"/></linearGradient><linearGradient id="gr" x1="0" x2="1" y1="0" y2="0"><stop offset="0" stop-color="#ffe4e4"/><stop offset="1" stop-color="#ffbfc2"/></linearGradient></defs>
<path d="M422,559 L511.7,549.3 L511.7,559Z" fill="url(#gb)"/>
<path d="M593.5,559 L685,549.5 L685,559Z" fill="url(#gr)"/>
<text x="523.2" y="557.2" font-size="12.8" fill="#1a1a1a" text-anchor="start" font-weight="normal">MITF level</text></svg>
</body></html>
